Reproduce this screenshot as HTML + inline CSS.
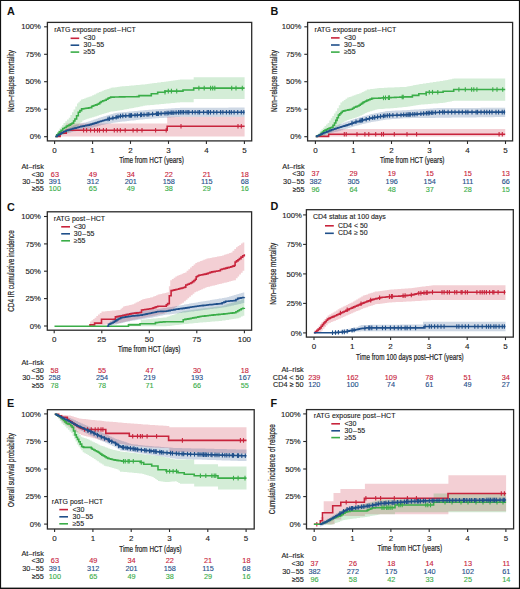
<!DOCTYPE html>
<html><head><meta charset="utf-8"><style>
html,body{margin:0;padding:0;background:#fff;}
svg{display:block;font-family:"Liberation Sans", sans-serif;}
</style></head><body>
<svg width="520" height="589" viewBox="0 0 520 589">
<rect x="0" y="0" width="520" height="589" fill="#fff"/>
<rect x="47.4" y="22.4" width="204.3" height="118.5" fill="none" stroke="#2a2a2a" stroke-width="1.3"/>
<line x1="44.1" y1="136.7" x2="47.4" y2="136.7" stroke="#2a2a2a" stroke-width="1.1"/>
<text x="40.9" y="139.3" font-size="7.7" text-anchor="end" fill="#222" font-weight="normal" stroke="#222" stroke-width="0.12" >0%</text>
<line x1="44.1" y1="109.2" x2="47.4" y2="109.2" stroke="#2a2a2a" stroke-width="1.1"/>
<text x="40.9" y="111.8" font-size="7.7" text-anchor="end" fill="#222" font-weight="normal" stroke="#222" stroke-width="0.12" >25%</text>
<line x1="44.1" y1="81.7" x2="47.4" y2="81.7" stroke="#2a2a2a" stroke-width="1.1"/>
<text x="40.9" y="84.3" font-size="7.7" text-anchor="end" fill="#222" font-weight="normal" stroke="#222" stroke-width="0.12" >50%</text>
<line x1="44.1" y1="54.3" x2="47.4" y2="54.3" stroke="#2a2a2a" stroke-width="1.1"/>
<text x="40.9" y="56.9" font-size="7.7" text-anchor="end" fill="#222" font-weight="normal" stroke="#222" stroke-width="0.12" >75%</text>
<line x1="44.1" y1="26.8" x2="47.4" y2="26.8" stroke="#2a2a2a" stroke-width="1.1"/>
<text x="40.9" y="29.4" font-size="7.7" text-anchor="end" fill="#222" font-weight="normal" stroke="#222" stroke-width="0.12" >100%</text>
<line x1="54.6" y1="140.9" x2="54.6" y2="143.9" stroke="#2a2a2a" stroke-width="1.1"/>
<text x="54.6" y="152.6" font-size="8.0" text-anchor="middle" fill="#222" font-weight="normal" stroke="#222" stroke-width="0.12" >0</text>
<line x1="92.6" y1="140.9" x2="92.6" y2="143.9" stroke="#2a2a2a" stroke-width="1.1"/>
<text x="92.6" y="152.6" font-size="8.0" text-anchor="middle" fill="#222" font-weight="normal" stroke="#222" stroke-width="0.12" >1</text>
<line x1="130.5" y1="140.9" x2="130.5" y2="143.9" stroke="#2a2a2a" stroke-width="1.1"/>
<text x="130.5" y="152.6" font-size="8.0" text-anchor="middle" fill="#222" font-weight="normal" stroke="#222" stroke-width="0.12" >2</text>
<line x1="168.5" y1="140.9" x2="168.5" y2="143.9" stroke="#2a2a2a" stroke-width="1.1"/>
<text x="168.5" y="152.6" font-size="8.0" text-anchor="middle" fill="#222" font-weight="normal" stroke="#222" stroke-width="0.12" >3</text>
<line x1="206.4" y1="140.9" x2="206.4" y2="143.9" stroke="#2a2a2a" stroke-width="1.1"/>
<text x="206.4" y="152.6" font-size="8.0" text-anchor="middle" fill="#222" font-weight="normal" stroke="#222" stroke-width="0.12" >4</text>
<line x1="244.4" y1="140.9" x2="244.4" y2="143.9" stroke="#2a2a2a" stroke-width="1.1"/>
<text x="244.4" y="152.6" font-size="8.0" text-anchor="middle" fill="#222" font-weight="normal" stroke="#222" stroke-width="0.12" >5</text>
<text transform="translate(151.5,163.2) scale(0.74,1)" font-size="8.6" text-anchor="middle" fill="#222" stroke="#222" stroke-width="0.2">Time from HCT (years)</text>
<text transform="translate(13.7,81.0) rotate(-90) scale(0.74,1)" font-size="8.6" text-anchor="middle" fill="#222" stroke="#222" stroke-width="0.2">Non–relapse mortality</text>
<text x="6.9" y="15.0" font-size="10.8" text-anchor="start" fill="#111" font-weight="bold" >A</text>
<path d="M55.4,136.5 L60.1,136.5 L60.1,129.8 L66.2,129.8 L66.2,123.4 L167.2,123.4 L167.2,116.7 L244.6,116.7 L244.6,136.5 L55.4,136.5Z" fill="#c8243c" opacity="0.22"/>
<path d="M55.4,136.5 L56.7,136.5 L56.7,133.5 L58.0,133.5 L58.0,130.5 L59.4,130.5 L59.4,128.6 L60.8,128.6 L60.8,126.8 L62.1,126.8 L62.1,124.9 L63.5,124.9 L63.5,123.0 L65.3,123.0 L65.3,121.2 L67.0,121.2 L67.0,119.5 L68.8,119.5 L68.8,117.7 L70.4,117.7 L70.4,115.0 L72.0,115.0 L72.0,112.3 L73.6,112.3 L73.6,109.6 L75.3,109.6 L75.3,106.5 L77.0,106.5 L77.0,103.5 L78.3,103.5 L78.3,102.2 L79.7,102.2 L79.7,100.8 L81.0,100.8 L81.0,99.5 L82.6,99.5 L82.6,99.0 L84.1,99.0 L84.1,98.4 L85.7,98.4 L85.7,97.8 L87.3,97.8 L87.3,97.3 L88.8,97.3 L88.8,96.8 L90.4,96.8 L90.4,96.2 L92.2,96.2 L92.2,95.3 L94.0,95.3 L94.0,94.4 L95.8,94.4 L95.8,93.5 L97.4,93.5 L97.4,92.8 L99.0,92.8 L99.0,92.1 L100.6,92.1 L100.6,91.5 L102.2,91.5 L102.2,90.8 L103.8,90.8 L103.8,90.1 L105.5,90.1 L105.5,89.5 L107.2,89.5 L107.2,88.9 L108.9,88.9 L108.9,88.4 L110.6,88.4 L110.6,87.8 L112.2,87.8 L112.2,87.6 L113.7,87.6 L113.7,87.4 L115.3,87.4 L115.3,87.2 L116.9,87.2 L116.9,86.9 L118.4,86.9 L118.4,86.7 L120.0,86.7 L120.0,86.5 L121.8,86.5 L121.8,86.3 L123.6,86.3 L123.6,86.2 L125.4,86.2 L125.4,86.0 L127.1,86.0 L127.1,85.9 L128.9,85.9 L128.9,85.7 L130.7,85.7 L130.7,85.6 L132.5,85.6 L132.5,85.4 L134.3,85.4 L134.3,85.2 L136.1,85.2 L136.1,85.1 L137.9,85.1 L137.9,84.9 L139.6,84.9 L139.6,84.8 L141.4,84.8 L141.4,84.6 L143.2,84.6 L143.2,84.5 L145.0,84.5 L145.0,84.3 L146.8,84.3 L146.8,84.1 L148.5,84.1 L148.5,83.8 L150.2,83.8 L150.2,83.6 L152.0,83.6 L152.0,83.3 L153.8,83.3 L153.8,83.1 L155.5,83.1 L155.5,82.9 L157.2,82.9 L157.2,82.6 L159.0,82.6 L159.0,82.4 L160.8,82.4 L160.8,82.1 L162.5,82.1 L162.5,81.9 L164.2,81.9 L164.2,81.7 L166.0,81.7 L166.0,81.4 L167.8,81.4 L167.8,81.2 L169.5,81.2 L169.5,80.9 L171.2,80.9 L171.2,80.7 L173.0,80.7 L173.0,80.5 L174.8,80.5 L174.8,80.2 L176.5,80.2 L176.5,80.0 L178.2,80.0 L178.2,79.7 L180.0,79.7 L180.0,79.5 L193.7,79.5 L193.7,77.3 L244.6,77.3 L244.6,99.1 L193.7,99.1 L193.7,102.3 L180.0,102.3 L180.0,102.5 L178.2,102.5 L178.2,102.6 L176.5,102.6 L176.5,102.8 L174.8,102.8 L174.8,102.9 L173.0,102.9 L173.0,103.1 L171.2,103.1 L171.2,103.3 L169.5,103.3 L169.5,103.4 L167.8,103.4 L167.8,103.6 L166.0,103.6 L166.0,103.7 L164.2,103.7 L164.2,103.9 L162.5,103.9 L162.5,104.1 L160.8,104.1 L160.8,104.2 L159.0,104.2 L159.0,104.4 L157.2,104.4 L157.2,104.5 L155.5,104.5 L155.5,104.7 L153.8,104.7 L153.8,104.9 L152.0,104.9 L152.0,105.0 L150.2,105.0 L150.2,105.2 L148.5,105.2 L148.5,105.3 L146.8,105.3 L146.8,105.5 L145.0,105.5 L145.0,105.8 L143.2,105.8 L143.2,106.2 L141.4,106.2 L141.4,106.5 L139.6,106.5 L139.6,106.9 L137.9,106.9 L137.9,107.2 L136.1,107.2 L136.1,107.6 L134.3,107.6 L134.3,107.9 L132.5,107.9 L132.5,108.2 L130.7,108.2 L130.7,108.6 L128.9,108.6 L128.9,108.9 L127.1,108.9 L127.1,109.3 L125.4,109.3 L125.4,109.6 L123.6,109.6 L123.6,110.0 L121.8,110.0 L121.8,110.3 L120.0,110.3 L120.0,110.5 L118.4,110.5 L118.4,110.7 L116.9,110.7 L116.9,110.9 L115.3,110.9 L115.3,111.2 L113.7,111.2 L113.7,111.4 L112.2,111.4 L112.2,111.6 L110.6,111.6 L110.6,112.1 L108.9,112.1 L108.9,112.6 L107.2,112.6 L107.2,113.1 L105.5,113.1 L105.5,113.6 L103.8,113.6 L103.8,114.1 L102.1,114.1 L102.1,114.6 L100.5,114.6 L100.5,115.1 L98.8,115.1 L98.8,115.7 L97.1,115.7 L97.1,116.2 L95.4,116.2 L95.4,116.7 L93.8,116.7 L93.8,117.2 L92.1,117.2 L92.1,117.7 L90.4,117.7 L90.4,118.2 L88.8,118.2 L88.8,118.8 L87.2,118.8 L87.2,119.3 L85.5,119.3 L85.5,119.9 L83.9,119.9 L83.9,120.4 L82.3,120.4 L82.3,122.2 L80.5,122.2 L80.5,124.0 L78.8,124.0 L78.8,125.8 L77.0,125.8 L77.0,127.1 L75.3,127.1 L75.3,128.4 L73.6,128.4 L73.6,129.7 L71.9,129.7 L71.9,131.0 L70.2,131.0 L70.2,131.7 L68.5,131.7 L68.5,132.4 L66.7,132.4 L66.7,133.1 L65.0,133.1 L65.0,133.8 L63.2,133.8 L63.2,134.5 L61.5,134.5 L61.5,135.2 L59.7,135.2 L59.7,135.9 L58.0,135.9 L58.0,136.2 L56.7,136.2 L56.7,136.5 L55.4,136.5Z" fill="#3aad48" opacity="0.22"/>
<path d="M55.4,136.5 L57.2,136.5 L57.2,134.8 L59.0,134.8 L59.0,133.2 L60.8,133.2 L60.8,131.5 L62.5,131.5 L62.5,130.6 L64.3,130.6 L64.3,129.8 L66.0,129.8 L66.0,128.9 L67.7,128.9 L67.7,128.1 L69.4,128.1 L69.4,127.2 L71.2,127.2 L71.2,126.4 L72.9,126.4 L72.9,125.5 L74.5,125.5 L74.5,125.1 L76.2,125.1 L76.2,124.6 L77.8,124.6 L77.8,124.2 L79.5,124.2 L79.5,123.7 L81.1,123.7 L81.1,123.3 L82.8,123.3 L82.8,122.8 L84.4,122.8 L84.4,122.4 L86.1,122.4 L86.1,121.9 L87.7,121.9 L87.7,121.5 L89.4,121.5 L89.4,120.9 L91.0,120.9 L91.0,120.4 L92.7,120.4 L92.7,119.8 L94.4,119.8 L94.4,119.2 L96.1,119.2 L96.1,118.7 L97.8,118.7 L97.8,118.1 L99.4,118.1 L99.4,117.6 L101.1,117.6 L101.1,117.0 L102.8,117.0 L102.8,116.5 L104.5,116.5 L104.5,116.0 L106.2,116.0 L106.2,115.5 L107.8,115.5 L107.8,115.0 L109.5,115.0 L109.5,114.5 L111.2,114.5 L111.2,114.0 L112.9,114.0 L112.9,113.5 L114.6,113.5 L114.6,113.0 L116.4,113.0 L116.4,112.8 L118.2,112.8 L118.2,112.6 L120.0,112.6 L120.0,112.5 L121.8,112.5 L121.8,112.3 L123.5,112.3 L123.5,112.1 L125.3,112.1 L125.3,111.9 L127.1,111.9 L127.1,111.8 L128.9,111.8 L128.9,111.6 L130.7,111.6 L130.7,111.4 L132.5,111.4 L132.5,111.2 L134.3,111.2 L134.3,111.1 L136.1,111.1 L136.1,110.9 L137.8,110.9 L137.8,110.7 L139.6,110.7 L139.6,110.5 L141.4,110.5 L141.4,110.4 L143.2,110.4 L143.2,110.2 L145.0,110.2 L145.0,110.0 L146.8,110.0 L146.8,109.9 L148.5,109.9 L148.5,109.8 L150.2,109.8 L150.2,109.7 L152.0,109.7 L152.0,109.6 L153.8,109.6 L153.8,109.5 L155.5,109.5 L155.5,109.3 L157.2,109.3 L157.2,109.2 L159.0,109.2 L159.0,109.1 L160.8,109.1 L160.8,109.0 L162.5,109.0 L162.5,108.9 L164.2,108.9 L164.2,108.8 L166.0,108.8 L166.0,108.7 L167.8,108.7 L167.8,108.6 L169.5,108.6 L169.5,108.5 L171.2,108.5 L171.2,108.3 L173.0,108.3 L173.0,108.2 L174.8,108.2 L174.8,108.1 L176.5,108.1 L176.5,108.0 L178.2,108.0 L178.2,107.9 L180.0,107.9 L180.0,107.8 L181.8,107.8 L181.8,107.8 L183.6,107.8 L183.6,107.8 L185.4,107.8 L185.4,107.8 L187.2,107.8 L187.2,107.8 L189.0,107.8 L189.0,107.8 L190.8,107.8 L190.8,107.8 L192.6,107.8 L192.6,107.8 L194.4,107.8 L194.4,107.8 L196.2,107.8 L196.2,107.8 L197.9,107.8 L197.9,107.7 L199.7,107.7 L199.7,107.7 L201.5,107.7 L201.5,107.7 L203.3,107.7 L203.3,107.7 L205.1,107.7 L205.1,107.7 L206.9,107.7 L206.9,107.7 L208.7,107.7 L208.7,107.7 L210.5,107.7 L210.5,107.7 L212.3,107.7 L212.3,107.7 L214.1,107.7 L214.1,107.7 L215.9,107.7 L215.9,107.7 L217.7,107.7 L217.7,107.7 L219.5,107.7 L219.5,107.7 L221.3,107.7 L221.3,107.7 L223.1,107.7 L223.1,107.7 L224.9,107.7 L224.9,107.7 L226.7,107.7 L226.7,107.7 L228.4,107.7 L228.4,107.6 L230.2,107.6 L230.2,107.6 L232.0,107.6 L232.0,107.6 L233.8,107.6 L233.8,107.6 L235.6,107.6 L235.6,107.6 L237.4,107.6 L237.4,107.6 L239.2,107.6 L239.2,107.6 L241.0,107.6 L241.0,107.6 L242.8,107.6 L242.8,107.6 L244.6,107.6 L244.6,107.6 L244.6,116.7 L244.6,116.7 L242.8,116.7 L242.8,116.7 L241.0,116.7 L241.0,116.7 L239.2,116.7 L239.2,116.7 L237.4,116.7 L237.4,116.7 L235.6,116.7 L235.6,116.7 L233.8,116.7 L233.8,116.7 L232.0,116.7 L232.0,116.7 L230.2,116.7 L230.2,116.7 L228.4,116.7 L228.4,116.7 L226.7,116.7 L226.7,116.7 L224.9,116.7 L224.9,116.7 L223.1,116.7 L223.1,116.7 L221.3,116.7 L221.3,116.7 L219.5,116.7 L219.5,116.7 L217.7,116.7 L217.7,116.7 L215.9,116.7 L215.9,116.7 L214.1,116.7 L214.1,116.8 L212.3,116.8 L212.3,116.8 L210.5,116.8 L210.5,116.8 L208.7,116.8 L208.7,116.8 L206.9,116.8 L206.9,116.8 L205.1,116.8 L205.1,116.8 L203.3,116.8 L203.3,116.8 L201.5,116.8 L201.5,116.8 L199.7,116.8 L199.7,116.8 L197.9,116.8 L197.9,116.8 L196.2,116.8 L196.2,116.8 L194.4,116.8 L194.4,116.8 L192.6,116.8 L192.6,116.8 L190.8,116.8 L190.8,116.8 L189.0,116.8 L189.0,116.8 L187.2,116.8 L187.2,116.8 L185.4,116.8 L185.4,116.8 L183.6,116.8 L183.6,116.8 L181.8,116.8 L181.8,116.8 L180.0,116.8 L180.0,116.9 L178.2,116.9 L178.2,117.0 L176.5,117.0 L176.5,117.1 L174.8,117.1 L174.8,117.2 L173.0,117.2 L173.0,117.3 L171.2,117.3 L171.2,117.5 L169.5,117.5 L169.5,117.6 L167.8,117.6 L167.8,117.7 L166.0,117.7 L166.0,117.8 L164.2,117.8 L164.2,117.9 L162.5,117.9 L162.5,118.0 L160.8,118.0 L160.8,118.1 L159.0,118.1 L159.0,118.2 L157.2,118.2 L157.2,118.3 L155.5,118.3 L155.5,118.5 L153.8,118.5 L153.8,118.6 L152.0,118.6 L152.0,118.7 L150.2,118.7 L150.2,118.8 L148.5,118.8 L148.5,118.9 L146.8,118.9 L146.8,119.0 L145.0,119.0 L145.0,119.2 L143.2,119.2 L143.2,119.4 L141.4,119.4 L141.4,119.6 L139.6,119.6 L139.6,119.8 L137.8,119.8 L137.8,120.0 L136.1,120.0 L136.1,120.2 L134.3,120.2 L134.3,120.4 L132.5,120.4 L132.5,120.6 L130.7,120.6 L130.7,120.8 L128.9,120.8 L128.9,121.0 L127.1,121.0 L127.1,121.2 L125.3,121.2 L125.3,121.4 L123.5,121.4 L123.5,121.6 L121.8,121.6 L121.8,121.8 L120.0,121.8 L120.0,122.0 L118.2,122.0 L118.2,122.2 L116.4,122.2 L116.4,122.4 L114.6,122.4 L114.6,122.7 L112.9,122.7 L112.9,123.1 L111.2,123.1 L111.2,123.4 L109.5,123.4 L109.5,123.7 L107.8,123.7 L107.8,124.0 L106.2,124.0 L106.2,124.3 L104.5,124.3 L104.5,124.7 L102.8,124.7 L102.8,125.0 L101.1,125.0 L101.1,125.5 L99.4,125.5 L99.4,125.9 L97.8,125.9 L97.8,126.4 L96.1,126.4 L96.1,126.8 L94.4,126.8 L94.4,127.3 L92.7,127.3 L92.7,127.8 L91.0,127.8 L91.0,128.2 L89.4,128.2 L89.4,128.7 L87.7,128.7 L87.7,129.0 L86.1,129.0 L86.1,129.3 L84.4,129.3 L84.4,129.6 L82.8,129.6 L82.8,129.9 L81.1,129.9 L81.1,130.3 L79.5,130.3 L79.5,130.6 L77.8,130.6 L77.8,130.9 L76.2,130.9 L76.2,131.2 L74.5,131.2 L74.5,131.5 L72.9,131.5 L72.9,132.0 L71.2,132.0 L71.2,132.5 L69.4,132.5 L69.4,133.0 L67.7,133.0 L67.7,133.5 L66.0,133.5 L66.0,134.0 L64.3,134.0 L64.3,134.5 L62.5,134.5 L62.5,135.0 L60.8,135.0 L60.8,135.5 L59.0,135.5 L59.0,136.0 L57.2,136.0 L57.2,136.5 L55.4,136.5Z" fill="#1f4f8a" opacity="0.22"/>
<path d="M55.4,136.5 L60.1,136.5 L60.1,133.2 L66.2,133.2 L66.2,130.3 L167.2,130.3 L167.2,126.2 L244.6,126.2" fill="none" stroke="#c8243c" stroke-width="1.6" stroke-linejoin="miter"/>
<line x1="83.6" y1="128.0" x2="83.6" y2="132.6" stroke="#c8243c" stroke-width="1.1"/>
<line x1="86.6" y1="128.0" x2="86.6" y2="132.6" stroke="#c8243c" stroke-width="1.1"/>
<line x1="90.6" y1="128.0" x2="90.6" y2="132.6" stroke="#c8243c" stroke-width="1.1"/>
<line x1="94.5" y1="128.0" x2="94.5" y2="132.6" stroke="#c8243c" stroke-width="1.1"/>
<line x1="97.5" y1="128.0" x2="97.5" y2="132.6" stroke="#c8243c" stroke-width="1.1"/>
<line x1="99.5" y1="128.0" x2="99.5" y2="132.6" stroke="#c8243c" stroke-width="1.1"/>
<line x1="103.4" y1="128.0" x2="103.4" y2="132.6" stroke="#c8243c" stroke-width="1.1"/>
<line x1="106.4" y1="128.0" x2="106.4" y2="132.6" stroke="#c8243c" stroke-width="1.1"/>
<line x1="114.3" y1="128.0" x2="114.3" y2="132.6" stroke="#c8243c" stroke-width="1.1"/>
<line x1="117.3" y1="128.0" x2="117.3" y2="132.6" stroke="#c8243c" stroke-width="1.1"/>
<line x1="120.3" y1="128.0" x2="120.3" y2="132.6" stroke="#c8243c" stroke-width="1.1"/>
<line x1="125.2" y1="128.0" x2="125.2" y2="132.6" stroke="#c8243c" stroke-width="1.1"/>
<line x1="133.1" y1="128.0" x2="133.1" y2="132.6" stroke="#c8243c" stroke-width="1.1"/>
<line x1="137.1" y1="128.0" x2="137.1" y2="132.6" stroke="#c8243c" stroke-width="1.1"/>
<line x1="142.0" y1="128.0" x2="142.0" y2="132.6" stroke="#c8243c" stroke-width="1.1"/>
<line x1="155.6" y1="128.0" x2="155.6" y2="132.6" stroke="#c8243c" stroke-width="1.1"/>
<line x1="166.2" y1="128.0" x2="166.2" y2="132.6" stroke="#c8243c" stroke-width="1.1"/>
<line x1="181.0" y1="123.9" x2="181.0" y2="128.5" stroke="#c8243c" stroke-width="1.1"/>
<line x1="238.0" y1="123.9" x2="238.0" y2="128.5" stroke="#c8243c" stroke-width="1.1"/>
<line x1="241.3" y1="123.9" x2="241.3" y2="128.5" stroke="#c8243c" stroke-width="1.1"/>
<path d="M55.4,136.5 L56.7,136.5 L56.7,134.9 L58.1,134.9 L58.1,133.4 L59.4,133.4 L59.4,131.8 L61.1,131.8 L61.1,130.2 L62.8,130.2 L62.8,128.5 L64.5,128.5 L64.5,127.5 L66.2,127.5 L66.2,126.4 L67.5,126.4 L67.5,125.7 L68.9,125.7 L68.9,125.1 L70.2,125.1 L70.2,124.4 L71.2,124.4 L71.2,123.8 L72.2,123.8 L72.2,123.1 L73.6,123.1 L73.6,121.0 L74.9,121.0 L74.9,119.0 L76.6,119.0 L76.6,115.7 L78.3,115.7 L78.3,112.3 L79.9,112.3 L79.9,110.6 L81.6,110.6 L81.6,108.9 L83.0,108.9 L83.0,108.7 L84.3,108.7 L84.3,108.5 L85.7,108.5 L85.7,108.3 L87.3,108.3 L87.3,108.1 L88.8,108.1 L88.8,107.8 L90.4,107.8 L90.4,107.6 L91.7,107.6 L91.7,106.2 L93.1,106.2 L93.1,105.8 L94.4,105.8 L94.4,105.3 L95.8,105.3 L95.8,104.9 L97.2,104.9 L97.2,104.2 L98.5,104.2 L98.5,103.6 L99.8,103.6 L99.8,102.5 L101.1,102.5 L101.1,101.5 L102.8,101.5 L102.8,100.8 L104.5,100.8 L104.5,100.2 L106.2,100.2 L106.2,99.2 L107.9,99.2 L107.9,98.2 L109.2,98.2 L109.2,97.7 L110.6,97.7 L110.6,97.1 L112.4,97.1 L112.4,97.1 L114.1,97.1 L114.1,97.0 L115.9,97.0 L115.9,97.0 L117.7,97.0 L117.7,97.0 L119.5,97.0 L119.5,96.9 L121.2,96.9 L121.2,96.9 L123.0,96.9 L123.0,96.9 L124.8,96.9 L124.8,96.8 L126.6,96.8 L126.6,96.8 L128.3,96.8 L128.3,96.8 L130.1,96.8 L130.1,96.8 L131.9,96.8 L131.9,96.7 L133.7,96.7 L133.7,96.7 L135.4,96.7 L135.4,96.7 L137.2,96.7 L137.2,96.6 L139.0,96.6 L139.0,96.6 L139.0,95.6 L151.3,95.6 L151.3,93.8 L157.7,93.8 L157.7,92.2 L165.0,92.2 L165.0,91.1 L183.0,91.1 L183.0,90.0 L193.7,90.0 L193.7,88.1 L244.6,88.1" fill="none" stroke="#3aad48" stroke-width="1.6" stroke-linejoin="miter"/>
<line x1="165.0" y1="89.9" x2="165.0" y2="94.5" stroke="#3aad48" stroke-width="1.1"/>
<line x1="168.3" y1="88.8" x2="168.3" y2="93.4" stroke="#3aad48" stroke-width="1.1"/>
<line x1="171.4" y1="88.8" x2="171.4" y2="93.4" stroke="#3aad48" stroke-width="1.1"/>
<line x1="176.7" y1="88.8" x2="176.7" y2="93.4" stroke="#3aad48" stroke-width="1.1"/>
<line x1="198.9" y1="85.8" x2="198.9" y2="90.4" stroke="#3aad48" stroke-width="1.1"/>
<line x1="204.2" y1="85.8" x2="204.2" y2="90.4" stroke="#3aad48" stroke-width="1.1"/>
<line x1="210.6" y1="85.8" x2="210.6" y2="90.4" stroke="#3aad48" stroke-width="1.1"/>
<line x1="212.7" y1="85.8" x2="212.7" y2="90.4" stroke="#3aad48" stroke-width="1.1"/>
<line x1="214.8" y1="85.8" x2="214.8" y2="90.4" stroke="#3aad48" stroke-width="1.1"/>
<line x1="231.7" y1="85.8" x2="231.7" y2="90.4" stroke="#3aad48" stroke-width="1.1"/>
<line x1="236.0" y1="85.8" x2="236.0" y2="90.4" stroke="#3aad48" stroke-width="1.1"/>
<line x1="242.3" y1="85.8" x2="242.3" y2="90.4" stroke="#3aad48" stroke-width="1.1"/>
<path d="M55.4,136.5 L57.2,136.5 L57.2,135.4 L59.0,135.4 L59.0,134.3 L60.8,134.3 L60.8,133.2 L62.1,133.2 L62.1,132.5 L63.5,132.5 L63.5,131.8 L64.8,131.8 L64.8,131.2 L66.2,131.2 L66.2,130.5 L67.9,130.5 L67.9,130.0 L69.6,130.0 L69.6,129.5 L71.2,129.5 L71.2,129.0 L72.9,129.0 L72.9,128.5 L74.5,128.5 L74.5,128.1 L76.1,128.1 L76.1,127.7 L77.8,127.7 L77.8,127.2 L79.4,127.2 L79.4,126.8 L81.0,126.8 L81.0,126.4 L82.7,126.4 L82.7,126.1 L84.3,126.1 L84.3,125.8 L86.0,125.8 L86.0,125.4 L87.7,125.4 L87.7,125.1 L89.4,125.1 L89.4,124.6 L91.1,124.6 L91.1,124.1 L92.7,124.1 L92.7,123.6 L94.4,123.6 L94.4,123.1 L96.1,123.1 L96.1,122.6 L97.8,122.6 L97.8,122.0 L99.4,122.0 L99.4,121.5 L101.1,121.5 L101.1,121.0 L102.8,121.0 L102.8,120.5 L104.5,120.5 L104.5,120.0 L106.2,120.0 L106.2,119.5 L107.9,119.5 L107.9,119.0 L109.6,119.0 L109.6,118.7 L111.2,118.7 L111.2,118.3 L112.9,118.3 L112.9,118.0 L114.6,118.0 L114.6,117.7 L115.9,117.7 L115.9,117.3 L117.3,117.3 L117.3,116.9 L118.7,116.9 L118.7,116.5 L120.0,116.5 L120.0,116.1 L121.8,116.1 L121.8,116.0 L123.6,116.0 L123.6,115.9 L125.4,115.9 L125.4,115.8 L127.1,115.8 L127.1,115.7 L128.9,115.7 L128.9,115.6 L130.7,115.6 L130.7,115.5 L132.5,115.5 L132.5,115.3 L134.3,115.3 L134.3,115.2 L136.1,115.2 L136.1,115.1 L137.9,115.1 L137.9,115.0 L139.6,115.0 L139.6,114.9 L141.4,114.9 L141.4,114.8 L143.2,114.8 L143.2,114.7 L145.0,114.7 L145.0,114.6 L146.8,114.6 L146.8,114.5 L148.6,114.5 L148.6,114.4 L150.4,114.4 L150.4,114.2 L152.1,114.2 L152.1,114.1 L153.9,114.1 L153.9,114.0 L155.7,114.0 L155.7,113.9 L157.5,113.9 L157.5,113.8 L159.3,113.8 L159.3,113.6 L161.1,113.6 L161.1,113.5 L162.9,113.5 L162.9,113.4 L164.6,113.4 L164.6,113.3 L166.4,113.3 L166.4,113.1 L168.2,113.1 L168.2,113.0 L170.0,113.0 L170.0,112.9 L171.7,112.9 L171.7,112.8 L173.3,112.8 L173.3,112.7 L175.0,112.7 L175.0,112.6 L176.7,112.6 L176.7,112.5 L178.3,112.5 L178.3,112.4 L180.0,112.4 L180.0,112.3 L244.6,112.3" fill="none" stroke="#1f4f8a" stroke-width="1.6" stroke-linejoin="miter"/>
<line x1="108.0" y1="116.7" x2="108.0" y2="121.3" stroke="#1f4f8a" stroke-width="1.1"/>
<line x1="109.4" y1="116.4" x2="109.4" y2="121.0" stroke="#1f4f8a" stroke-width="1.1"/>
<line x1="112.9" y1="115.7" x2="112.9" y2="120.3" stroke="#1f4f8a" stroke-width="1.1"/>
<line x1="116.2" y1="114.9" x2="116.2" y2="119.5" stroke="#1f4f8a" stroke-width="1.1"/>
<line x1="118.0" y1="114.4" x2="118.0" y2="119.0" stroke="#1f4f8a" stroke-width="1.1"/>
<line x1="120.5" y1="113.8" x2="120.5" y2="118.4" stroke="#1f4f8a" stroke-width="1.1"/>
<line x1="122.8" y1="113.6" x2="122.8" y2="118.2" stroke="#1f4f8a" stroke-width="1.1"/>
<line x1="125.8" y1="113.5" x2="125.8" y2="118.1" stroke="#1f4f8a" stroke-width="1.1"/>
<line x1="129.2" y1="113.2" x2="129.2" y2="117.8" stroke="#1f4f8a" stroke-width="1.1"/>
<line x1="130.4" y1="113.2" x2="130.4" y2="117.8" stroke="#1f4f8a" stroke-width="1.1"/>
<line x1="131.5" y1="113.1" x2="131.5" y2="117.7" stroke="#1f4f8a" stroke-width="1.1"/>
<line x1="135.0" y1="112.9" x2="135.0" y2="117.5" stroke="#1f4f8a" stroke-width="1.1"/>
<line x1="137.3" y1="112.8" x2="137.3" y2="117.4" stroke="#1f4f8a" stroke-width="1.1"/>
<line x1="140.6" y1="112.6" x2="140.6" y2="117.2" stroke="#1f4f8a" stroke-width="1.1"/>
<line x1="141.6" y1="112.5" x2="141.6" y2="117.1" stroke="#1f4f8a" stroke-width="1.1"/>
<line x1="144.0" y1="112.4" x2="144.0" y2="117.0" stroke="#1f4f8a" stroke-width="1.1"/>
<line x1="147.1" y1="112.2" x2="147.1" y2="116.8" stroke="#1f4f8a" stroke-width="1.1"/>
<line x1="148.8" y1="112.0" x2="148.8" y2="116.6" stroke="#1f4f8a" stroke-width="1.1"/>
<line x1="152.6" y1="111.8" x2="152.6" y2="116.4" stroke="#1f4f8a" stroke-width="1.1"/>
<line x1="156.4" y1="111.5" x2="156.4" y2="116.1" stroke="#1f4f8a" stroke-width="1.1"/>
<line x1="157.4" y1="111.5" x2="157.4" y2="116.1" stroke="#1f4f8a" stroke-width="1.1"/>
<line x1="158.5" y1="111.4" x2="158.5" y2="116.0" stroke="#1f4f8a" stroke-width="1.1"/>
<line x1="161.1" y1="111.2" x2="161.1" y2="115.8" stroke="#1f4f8a" stroke-width="1.1"/>
<line x1="165.0" y1="110.9" x2="165.0" y2="115.5" stroke="#1f4f8a" stroke-width="1.1"/>
<line x1="167.1" y1="110.8" x2="167.1" y2="115.4" stroke="#1f4f8a" stroke-width="1.1"/>
<line x1="168.8" y1="110.7" x2="168.8" y2="115.3" stroke="#1f4f8a" stroke-width="1.1"/>
<line x1="171.0" y1="110.5" x2="171.0" y2="115.1" stroke="#1f4f8a" stroke-width="1.1"/>
<line x1="172.1" y1="110.5" x2="172.1" y2="115.1" stroke="#1f4f8a" stroke-width="1.1"/>
<line x1="173.8" y1="110.4" x2="173.8" y2="115.0" stroke="#1f4f8a" stroke-width="1.1"/>
<line x1="176.1" y1="110.2" x2="176.1" y2="114.8" stroke="#1f4f8a" stroke-width="1.1"/>
<line x1="178.6" y1="110.1" x2="178.6" y2="114.7" stroke="#1f4f8a" stroke-width="1.1"/>
<line x1="180.3" y1="110.0" x2="180.3" y2="114.6" stroke="#1f4f8a" stroke-width="1.1"/>
<line x1="182.0" y1="110.0" x2="182.0" y2="114.6" stroke="#1f4f8a" stroke-width="1.1"/>
<line x1="183.6" y1="110.0" x2="183.6" y2="114.6" stroke="#1f4f8a" stroke-width="1.1"/>
<line x1="186.0" y1="110.0" x2="186.0" y2="114.6" stroke="#1f4f8a" stroke-width="1.1"/>
<line x1="187.9" y1="110.0" x2="187.9" y2="114.6" stroke="#1f4f8a" stroke-width="1.1"/>
<line x1="188.9" y1="110.0" x2="188.9" y2="114.6" stroke="#1f4f8a" stroke-width="1.1"/>
<line x1="192.4" y1="110.0" x2="192.4" y2="114.6" stroke="#1f4f8a" stroke-width="1.1"/>
<line x1="195.1" y1="110.0" x2="195.1" y2="114.6" stroke="#1f4f8a" stroke-width="1.1"/>
<line x1="198.0" y1="110.0" x2="198.0" y2="114.6" stroke="#1f4f8a" stroke-width="1.1"/>
<line x1="199.6" y1="110.0" x2="199.6" y2="114.6" stroke="#1f4f8a" stroke-width="1.1"/>
<line x1="203.6" y1="110.0" x2="203.6" y2="114.6" stroke="#1f4f8a" stroke-width="1.1"/>
<line x1="207.2" y1="110.0" x2="207.2" y2="114.6" stroke="#1f4f8a" stroke-width="1.1"/>
<line x1="208.5" y1="110.0" x2="208.5" y2="114.6" stroke="#1f4f8a" stroke-width="1.1"/>
<line x1="210.5" y1="110.0" x2="210.5" y2="114.6" stroke="#1f4f8a" stroke-width="1.1"/>
<line x1="213.7" y1="110.0" x2="213.7" y2="114.6" stroke="#1f4f8a" stroke-width="1.1"/>
<line x1="216.8" y1="110.0" x2="216.8" y2="114.6" stroke="#1f4f8a" stroke-width="1.1"/>
<line x1="220.6" y1="110.0" x2="220.6" y2="114.6" stroke="#1f4f8a" stroke-width="1.1"/>
<line x1="222.9" y1="110.0" x2="222.9" y2="114.6" stroke="#1f4f8a" stroke-width="1.1"/>
<line x1="226.4" y1="110.0" x2="226.4" y2="114.6" stroke="#1f4f8a" stroke-width="1.1"/>
<line x1="229.4" y1="110.0" x2="229.4" y2="114.6" stroke="#1f4f8a" stroke-width="1.1"/>
<line x1="231.3" y1="110.0" x2="231.3" y2="114.6" stroke="#1f4f8a" stroke-width="1.1"/>
<line x1="234.1" y1="110.0" x2="234.1" y2="114.6" stroke="#1f4f8a" stroke-width="1.1"/>
<line x1="237.7" y1="110.0" x2="237.7" y2="114.6" stroke="#1f4f8a" stroke-width="1.1"/>
<line x1="241.3" y1="110.0" x2="241.3" y2="114.6" stroke="#1f4f8a" stroke-width="1.1"/>
<line x1="243.8" y1="110.0" x2="243.8" y2="114.6" stroke="#1f4f8a" stroke-width="1.1"/>
<text x="54.2" y="31.6" font-size="7" text-anchor="start" fill="#222" font-weight="normal" stroke="#222" stroke-width="0.12" >rATG exposure post<tspan dx="0.6">–</tspan><tspan dx="0.6">HCT</tspan></text>
<line x1="70.6" y1="38.3" x2="79.2" y2="38.3" stroke="#c8243c" stroke-width="1.6"/>
<text x="83.5" y="40.4" font-size="7" text-anchor="start" fill="#222" font-weight="normal" stroke="#222" stroke-width="0.12" >&lt;30</text>
<line x1="70.6" y1="45.2" x2="79.2" y2="45.2" stroke="#1f4f8a" stroke-width="1.6"/>
<text x="83.5" y="47.3" font-size="7" text-anchor="start" fill="#222" font-weight="normal" stroke="#222" stroke-width="0.12" >30<tspan dx="0.6">–</tspan><tspan dx="0.6">55</tspan></text>
<line x1="70.6" y1="52.1" x2="79.2" y2="52.1" stroke="#3aad48" stroke-width="1.6"/>
<text x="83.5" y="54.2" font-size="7" text-anchor="start" fill="#222" font-weight="normal" stroke="#222" stroke-width="0.12" >≥55</text>
<text x="43.8" y="168.8" font-size="7.3" text-anchor="end" fill="#222" font-weight="normal" stroke="#222" stroke-width="0.12" >At–risk</text>
<text x="43.8" y="176.6" font-size="7.3" text-anchor="end" fill="#222" font-weight="normal" stroke="#222" stroke-width="0.12" >&lt;30</text>
<text x="54.9" y="176.6" font-size="7.3" text-anchor="middle" fill="#c8243c" font-weight="normal" stroke="#c8243c" stroke-width="0.12" >63</text>
<text x="92.9" y="176.6" font-size="7.3" text-anchor="middle" fill="#c8243c" font-weight="normal" stroke="#c8243c" stroke-width="0.12" >49</text>
<text x="130.8" y="176.6" font-size="7.3" text-anchor="middle" fill="#c8243c" font-weight="normal" stroke="#c8243c" stroke-width="0.12" >34</text>
<text x="168.8" y="176.6" font-size="7.3" text-anchor="middle" fill="#c8243c" font-weight="normal" stroke="#c8243c" stroke-width="0.12" >22</text>
<text x="206.7" y="176.6" font-size="7.3" text-anchor="middle" fill="#c8243c" font-weight="normal" stroke="#c8243c" stroke-width="0.12" >21</text>
<text x="244.7" y="176.6" font-size="7.3" text-anchor="middle" fill="#c8243c" font-weight="normal" stroke="#c8243c" stroke-width="0.12" >18</text>
<text x="43.8" y="184.0" font-size="7.3" text-anchor="end" fill="#222" font-weight="normal" stroke="#222" stroke-width="0.12" >30<tspan dx="0.6">–</tspan><tspan dx="0.6">55</tspan></text>
<text x="54.9" y="184.0" font-size="7.3" text-anchor="middle" fill="#1f4f8a" font-weight="normal" stroke="#1f4f8a" stroke-width="0.12" >391</text>
<text x="92.9" y="184.0" font-size="7.3" text-anchor="middle" fill="#1f4f8a" font-weight="normal" stroke="#1f4f8a" stroke-width="0.12" >312</text>
<text x="130.8" y="184.0" font-size="7.3" text-anchor="middle" fill="#1f4f8a" font-weight="normal" stroke="#1f4f8a" stroke-width="0.12" >201</text>
<text x="168.8" y="184.0" font-size="7.3" text-anchor="middle" fill="#1f4f8a" font-weight="normal" stroke="#1f4f8a" stroke-width="0.12" >158</text>
<text x="206.7" y="184.0" font-size="7.3" text-anchor="middle" fill="#1f4f8a" font-weight="normal" stroke="#1f4f8a" stroke-width="0.12" >115</text>
<text x="244.7" y="184.0" font-size="7.3" text-anchor="middle" fill="#1f4f8a" font-weight="normal" stroke="#1f4f8a" stroke-width="0.12" >68</text>
<text x="43.8" y="191.4" font-size="7.3" text-anchor="end" fill="#222" font-weight="normal" stroke="#222" stroke-width="0.12" >≥55</text>
<text x="54.9" y="191.4" font-size="7.3" text-anchor="middle" fill="#3aad48" font-weight="normal" stroke="#3aad48" stroke-width="0.12" >100</text>
<text x="92.9" y="191.4" font-size="7.3" text-anchor="middle" fill="#3aad48" font-weight="normal" stroke="#3aad48" stroke-width="0.12" >65</text>
<text x="130.8" y="191.4" font-size="7.3" text-anchor="middle" fill="#3aad48" font-weight="normal" stroke="#3aad48" stroke-width="0.12" >49</text>
<text x="168.8" y="191.4" font-size="7.3" text-anchor="middle" fill="#3aad48" font-weight="normal" stroke="#3aad48" stroke-width="0.12" >38</text>
<text x="206.7" y="191.4" font-size="7.3" text-anchor="middle" fill="#3aad48" font-weight="normal" stroke="#3aad48" stroke-width="0.12" >29</text>
<text x="244.7" y="191.4" font-size="7.3" text-anchor="middle" fill="#3aad48" font-weight="normal" stroke="#3aad48" stroke-width="0.12" >16</text>
<rect x="307.6" y="22.4" width="205.0" height="118.5" fill="none" stroke="#2a2a2a" stroke-width="1.3"/>
<line x1="304.3" y1="136.7" x2="307.6" y2="136.7" stroke="#2a2a2a" stroke-width="1.1"/>
<text x="301.4" y="139.3" font-size="7.7" text-anchor="end" fill="#222" font-weight="normal" stroke="#222" stroke-width="0.12" >0%</text>
<line x1="304.3" y1="109.2" x2="307.6" y2="109.2" stroke="#2a2a2a" stroke-width="1.1"/>
<text x="301.4" y="111.8" font-size="7.7" text-anchor="end" fill="#222" font-weight="normal" stroke="#222" stroke-width="0.12" >25%</text>
<line x1="304.3" y1="81.7" x2="307.6" y2="81.7" stroke="#2a2a2a" stroke-width="1.1"/>
<text x="301.4" y="84.3" font-size="7.7" text-anchor="end" fill="#222" font-weight="normal" stroke="#222" stroke-width="0.12" >50%</text>
<line x1="304.3" y1="54.3" x2="307.6" y2="54.3" stroke="#2a2a2a" stroke-width="1.1"/>
<text x="301.4" y="56.9" font-size="7.7" text-anchor="end" fill="#222" font-weight="normal" stroke="#222" stroke-width="0.12" >75%</text>
<line x1="304.3" y1="26.8" x2="307.6" y2="26.8" stroke="#2a2a2a" stroke-width="1.1"/>
<text x="301.4" y="29.4" font-size="7.7" text-anchor="end" fill="#222" font-weight="normal" stroke="#222" stroke-width="0.12" >100%</text>
<line x1="315.4" y1="141.0" x2="315.4" y2="144.0" stroke="#2a2a2a" stroke-width="1.1"/>
<text x="315.4" y="152.8" font-size="8.0" text-anchor="middle" fill="#222" font-weight="normal" stroke="#222" stroke-width="0.12" >0</text>
<line x1="353.4" y1="141.0" x2="353.4" y2="144.0" stroke="#2a2a2a" stroke-width="1.1"/>
<text x="353.4" y="152.8" font-size="8.0" text-anchor="middle" fill="#222" font-weight="normal" stroke="#222" stroke-width="0.12" >1</text>
<line x1="391.5" y1="141.0" x2="391.5" y2="144.0" stroke="#2a2a2a" stroke-width="1.1"/>
<text x="391.5" y="152.8" font-size="8.0" text-anchor="middle" fill="#222" font-weight="normal" stroke="#222" stroke-width="0.12" >2</text>
<line x1="429.5" y1="141.0" x2="429.5" y2="144.0" stroke="#2a2a2a" stroke-width="1.1"/>
<text x="429.5" y="152.8" font-size="8.0" text-anchor="middle" fill="#222" font-weight="normal" stroke="#222" stroke-width="0.12" >3</text>
<line x1="467.5" y1="141.0" x2="467.5" y2="144.0" stroke="#2a2a2a" stroke-width="1.1"/>
<text x="467.5" y="152.8" font-size="8.0" text-anchor="middle" fill="#222" font-weight="normal" stroke="#222" stroke-width="0.12" >4</text>
<line x1="505.5" y1="141.0" x2="505.5" y2="144.0" stroke="#2a2a2a" stroke-width="1.1"/>
<text x="505.5" y="152.8" font-size="8.0" text-anchor="middle" fill="#222" font-weight="normal" stroke="#222" stroke-width="0.12" >5</text>
<text transform="translate(412.2,163.2) scale(0.74,1)" font-size="8.6" text-anchor="middle" fill="#222" stroke="#222" stroke-width="0.2">Time from HCT (years)</text>
<text transform="translate(276.6,81.0) rotate(-90) scale(0.74,1)" font-size="8.6" text-anchor="middle" fill="#222" stroke="#222" stroke-width="0.2">Non–relapse mortality</text>
<text x="270.6" y="15.0" font-size="10.8" text-anchor="start" fill="#111" font-weight="bold" >B</text>
<path d="M315.8,136.4 L317.1,136.4 L317.1,135.8 L318.5,135.8 L318.5,135.1 L319.8,135.1 L319.8,134.5 L328.6,134.5 L328.6,129.0 L505.2,129.0 L505.2,136.4 L315.8,136.4Z" fill="#c8243c" opacity="0.22"/>
<path d="M315.8,136.4 L317.1,136.4 L317.1,134.5 L318.5,134.5 L318.5,132.7 L319.8,132.7 L319.8,130.8 L321.4,130.8 L321.4,129.2 L322.9,129.2 L322.9,127.7 L324.5,127.7 L324.5,126.1 L326.0,126.1 L326.0,124.6 L327.6,124.6 L327.6,123.0 L329.2,123.0 L329.2,120.6 L330.8,120.6 L330.8,118.3 L332.3,118.3 L332.3,115.9 L333.9,115.9 L333.9,113.6 L335.5,113.6 L335.5,111.2 L337.1,111.2 L337.1,108.3 L338.8,108.3 L338.8,105.3 L340.4,105.3 L340.4,102.4 L342.1,102.4 L342.1,101.2 L343.8,101.2 L343.8,100.0 L345.5,100.0 L345.5,98.7 L347.2,98.7 L347.2,97.5 L348.9,97.5 L348.9,96.9 L350.6,96.9 L350.6,96.4 L352.3,96.4 L352.3,95.8 L353.9,95.8 L353.9,95.2 L355.6,95.2 L355.6,94.6 L357.3,94.6 L357.3,94.1 L359.0,94.1 L359.0,93.5 L360.6,93.5 L360.6,92.7 L362.1,92.7 L362.1,91.9 L363.7,91.9 L363.7,91.2 L365.2,91.2 L365.2,90.4 L366.8,90.4 L366.8,89.6 L368.5,89.6 L368.5,89.4 L370.2,89.4 L370.2,89.1 L371.9,89.1 L371.9,88.9 L373.5,88.9 L373.5,88.7 L375.2,88.7 L375.2,88.5 L376.9,88.5 L376.9,88.2 L378.6,88.2 L378.6,88.0 L380.4,88.0 L380.4,87.9 L382.1,87.9 L382.1,87.9 L383.9,87.9 L383.9,87.8 L385.6,87.8 L385.6,87.7 L387.4,87.7 L387.4,87.6 L389.2,87.6 L389.2,87.6 L390.9,87.6 L390.9,87.5 L392.7,87.5 L392.7,87.4 L394.4,87.4 L394.4,87.3 L396.2,87.3 L396.2,87.3 L398.0,87.3 L398.0,87.2 L399.7,87.2 L399.7,87.1 L401.5,87.1 L401.5,87.0 L403.2,87.0 L403.2,87.0 L405.0,87.0 L405.0,86.9 L406.6,86.9 L406.6,86.6 L408.2,86.6 L408.2,86.3 L409.8,86.3 L409.8,86.0 L411.4,86.0 L411.4,85.7 L412.9,85.7 L412.9,85.3 L414.5,85.3 L414.5,85.0 L416.1,85.0 L416.1,84.7 L417.7,84.7 L417.7,84.4 L419.4,84.4 L419.4,84.1 L421.1,84.1 L421.1,83.9 L422.8,83.9 L422.8,83.6 L424.5,83.6 L424.5,83.4 L426.2,83.4 L426.2,83.1 L427.9,83.1 L427.9,82.9 L429.6,82.9 L429.6,82.6 L431.2,82.6 L431.2,82.4 L432.9,82.4 L432.9,82.1 L434.6,82.1 L434.6,81.9 L436.3,81.9 L436.3,81.6 L438.0,81.6 L438.0,81.4 L439.7,81.4 L439.7,81.1 L441.4,81.1 L441.4,80.9 L443.1,80.9 L443.1,80.6 L444.9,80.6 L444.9,80.2 L446.6,80.2 L446.6,79.9 L448.4,79.9 L448.4,79.5 L450.2,79.5 L450.2,79.2 L451.9,79.2 L451.9,78.8 L453.7,78.8 L453.7,78.5 L505.2,78.5 L505.2,100.7 L453.7,100.7 L453.7,101.0 L451.9,101.0 L451.9,101.4 L450.2,101.4 L450.2,101.8 L448.4,101.8 L448.4,102.1 L446.6,102.1 L446.6,102.5 L444.9,102.5 L444.9,102.8 L443.1,102.8 L443.1,102.9 L441.4,102.9 L441.4,103.1 L439.7,103.1 L439.7,103.2 L438.0,103.2 L438.0,103.4 L436.3,103.4 L436.3,103.5 L434.6,103.5 L434.6,103.6 L432.9,103.6 L432.9,103.8 L431.2,103.8 L431.2,103.9 L429.6,103.9 L429.6,104.1 L427.9,104.1 L427.9,104.2 L426.2,104.2 L426.2,104.3 L424.5,104.3 L424.5,104.5 L422.8,104.5 L422.8,104.6 L421.1,104.6 L421.1,104.8 L419.4,104.8 L419.4,104.9 L417.7,104.9 L417.7,105.2 L416.1,105.2 L416.1,105.4 L414.5,105.4 L414.5,105.7 L412.9,105.7 L412.9,106.0 L411.4,106.0 L411.4,106.2 L409.8,106.2 L409.8,106.5 L408.2,106.5 L408.2,106.7 L406.6,106.7 L406.6,107.0 L405.0,107.0 L405.0,107.1 L403.4,107.1 L403.4,107.3 L401.8,107.3 L401.8,107.4 L400.1,107.4 L400.1,107.6 L398.5,107.6 L398.5,107.7 L396.9,107.7 L396.9,107.9 L395.3,107.9 L395.3,108.0 L393.6,108.0 L393.6,108.2 L392.0,108.2 L392.0,108.3 L390.4,108.3 L390.4,108.4 L388.7,108.4 L388.7,108.5 L387.0,108.5 L387.0,108.6 L385.3,108.6 L385.3,108.8 L383.5,108.8 L383.5,108.9 L381.8,108.9 L381.8,109.0 L380.1,109.0 L380.1,109.1 L378.4,109.1 L378.4,109.2 L376.7,109.2 L376.7,109.7 L375.1,109.7 L375.1,110.2 L373.4,110.2 L373.4,110.7 L371.8,110.7 L371.8,111.2 L370.1,111.2 L370.1,111.7 L368.4,111.7 L368.4,112.2 L366.8,112.2 L366.8,113.0 L365.2,113.0 L365.2,113.8 L363.5,113.8 L363.5,114.7 L361.9,114.7 L361.9,115.5 L360.3,115.5 L360.3,116.3 L358.6,116.3 L358.6,117.1 L357.0,117.1 L357.0,117.6 L355.4,117.6 L355.4,118.1 L353.7,118.1 L353.7,118.5 L352.1,118.5 L352.1,119.0 L350.5,119.0 L350.5,119.5 L348.8,119.5 L348.8,120.0 L347.2,120.0 L347.2,120.8 L345.7,120.8 L345.7,121.5 L344.2,121.5 L344.2,122.2 L342.8,122.2 L342.8,123.0 L341.3,123.0 L341.3,124.5 L339.9,124.5 L339.9,125.9 L338.4,125.9 L338.4,127.4 L336.9,127.4 L336.9,128.8 L335.5,128.8 L335.5,129.8 L333.8,129.8 L333.8,130.8 L332.1,130.8 L332.1,131.8 L330.4,131.8 L330.4,132.7 L328.8,132.7 L328.8,133.7 L327.1,133.7 L327.1,134.7 L325.4,134.7 L325.4,135.7 L323.7,135.7 L323.7,135.8 L322.1,135.8 L322.1,136.0 L320.5,136.0 L320.5,136.1 L319.0,136.1 L319.0,136.3 L317.4,136.3 L317.4,136.4 L315.8,136.4Z" fill="#3aad48" opacity="0.22"/>
<path d="M315.8,136.4 L317.4,136.4 L317.4,135.2 L319.0,135.2 L319.0,134.0 L320.5,134.0 L320.5,132.9 L322.1,132.9 L322.1,131.7 L323.7,131.7 L323.7,130.5 L325.4,130.5 L325.4,129.8 L327.2,129.8 L327.2,129.1 L328.9,129.1 L328.9,128.3 L330.7,128.3 L330.7,127.6 L332.4,127.6 L332.4,126.9 L334.2,126.9 L334.2,126.2 L335.9,126.2 L335.9,125.4 L337.7,125.4 L337.7,124.7 L339.4,124.7 L339.4,124.0 L341.1,124.0 L341.1,123.4 L342.9,123.4 L342.9,122.8 L344.6,122.8 L344.6,122.2 L346.4,122.2 L346.4,121.6 L348.1,121.6 L348.1,120.9 L349.9,120.9 L349.9,120.3 L351.6,120.3 L351.6,119.7 L353.4,119.7 L353.4,119.1 L355.1,119.1 L355.1,118.5 L356.8,118.5 L356.8,118.0 L358.6,118.0 L358.6,117.5 L360.3,117.5 L360.3,117.0 L362.1,117.0 L362.1,116.5 L363.8,116.5 L363.8,116.0 L365.6,116.0 L365.6,115.5 L367.3,115.5 L367.3,115.0 L369.1,115.0 L369.1,114.5 L370.8,114.5 L370.8,114.0 L372.5,114.0 L372.5,113.7 L374.3,113.7 L374.3,113.3 L376.0,113.3 L376.0,113.0 L377.8,113.0 L377.8,112.7 L379.5,112.7 L379.5,112.3 L381.3,112.3 L381.3,112.0 L383.0,112.0 L383.0,111.7 L384.8,111.7 L384.8,111.3 L386.5,111.3 L386.5,111.0 L388.2,111.0 L388.2,110.9 L389.9,110.9 L389.9,110.9 L391.5,110.9 L391.5,110.8 L393.2,110.8 L393.2,110.7 L394.9,110.7 L394.9,110.6 L396.6,110.6 L396.6,110.6 L398.3,110.6 L398.3,110.5 L400.0,110.5 L400.0,110.4 L401.6,110.4 L401.6,110.3 L403.3,110.3 L403.3,110.3 L405.0,110.3 L405.0,110.2 L406.8,110.2 L406.8,110.1 L408.5,110.1 L408.5,110.0 L410.3,110.0 L410.3,109.8 L412.0,109.8 L412.0,109.7 L413.8,109.7 L413.8,109.6 L415.6,109.6 L415.6,109.5 L417.3,109.5 L417.3,109.4 L419.1,109.4 L419.1,109.3 L420.9,109.3 L420.9,109.2 L422.6,109.2 L422.6,109.0 L424.4,109.0 L424.4,108.9 L426.1,108.9 L426.1,108.8 L427.9,108.8 L427.9,108.7 L429.7,108.7 L429.7,108.6 L431.4,108.6 L431.4,108.4 L433.2,108.4 L433.2,108.3 L434.9,108.3 L434.9,108.2 L436.7,108.2 L436.7,108.1 L438.5,108.1 L438.5,108.1 L440.2,108.1 L440.2,108.1 L442.0,108.1 L442.0,108.1 L443.7,108.1 L443.7,108.1 L445.5,108.1 L445.5,108.0 L447.2,108.0 L447.2,108.0 L449.0,108.0 L449.0,108.0 L450.8,108.0 L450.8,108.0 L452.5,108.0 L452.5,108.0 L454.3,108.0 L454.3,108.0 L456.0,108.0 L456.0,108.0 L457.8,108.0 L457.8,108.0 L459.5,108.0 L459.5,108.0 L461.3,108.0 L461.3,108.0 L463.0,108.0 L463.0,107.9 L464.8,107.9 L464.8,107.9 L466.6,107.9 L466.6,107.9 L468.3,107.9 L468.3,107.9 L470.1,107.9 L470.1,107.9 L471.8,107.9 L471.8,107.9 L473.6,107.9 L473.6,107.9 L475.3,107.9 L475.3,107.9 L477.1,107.9 L477.1,107.9 L478.9,107.9 L478.9,107.9 L480.6,107.9 L480.6,107.8 L482.4,107.8 L482.4,107.8 L484.1,107.8 L484.1,107.8 L485.9,107.8 L485.9,107.8 L487.6,107.8 L487.6,107.8 L489.4,107.8 L489.4,107.8 L491.1,107.8 L491.1,107.8 L492.9,107.8 L492.9,107.8 L494.7,107.8 L494.7,107.8 L496.4,107.8 L496.4,107.8 L498.2,107.8 L498.2,107.7 L499.9,107.7 L499.9,107.7 L501.7,107.7 L501.7,107.7 L503.4,107.7 L503.4,107.7 L505.2,107.7 L505.2,107.7 L505.2,117.0 L505.2,117.0 L503.4,117.0 L503.4,117.0 L501.6,117.0 L501.6,117.1 L499.8,117.1 L499.8,117.1 L498.0,117.1 L498.0,117.1 L496.3,117.1 L496.3,117.1 L494.5,117.1 L494.5,117.2 L492.7,117.2 L492.7,117.2 L490.9,117.2 L490.9,117.2 L489.1,117.2 L489.1,117.2 L487.3,117.2 L487.3,117.2 L485.5,117.2 L485.5,117.3 L483.7,117.3 L483.7,117.3 L481.9,117.3 L481.9,117.3 L480.1,117.3 L480.1,117.3 L478.4,117.3 L478.4,117.3 L476.6,117.3 L476.6,117.4 L474.8,117.4 L474.8,117.4 L473.0,117.4 L473.0,117.4 L471.2,117.4 L471.2,117.4 L469.4,117.4 L469.4,117.5 L467.6,117.5 L467.6,117.5 L465.8,117.5 L465.8,117.5 L464.0,117.5 L464.0,117.5 L462.3,117.5 L462.3,117.5 L460.5,117.5 L460.5,117.6 L458.7,117.6 L458.7,117.6 L456.9,117.6 L456.9,117.6 L455.1,117.6 L455.1,117.6 L453.3,117.6 L453.3,117.6 L451.5,117.6 L451.5,117.7 L449.7,117.7 L449.7,117.7 L447.9,117.7 L447.9,117.7 L446.2,117.7 L446.2,117.7 L444.4,117.7 L444.4,117.8 L442.6,117.8 L442.6,117.8 L440.8,117.8 L440.8,117.8 L439.0,117.8 L439.0,117.8 L437.2,117.8 L437.2,117.8 L435.4,117.8 L435.4,117.9 L433.6,117.9 L433.6,117.9 L431.8,117.9 L431.8,117.9 L430.1,117.9 L430.1,117.9 L428.3,117.9 L428.3,117.9 L426.5,117.9 L426.5,118.0 L424.7,118.0 L424.7,118.0 L422.9,118.0 L422.9,118.0 L421.1,118.0 L421.1,118.0 L419.3,118.0 L419.3,118.0 L417.5,118.0 L417.5,118.1 L415.7,118.1 L415.7,118.1 L413.9,118.1 L413.9,118.1 L412.2,118.1 L412.2,118.1 L410.4,118.1 L410.4,118.2 L408.6,118.2 L408.6,118.2 L406.8,118.2 L406.8,118.2 L405.0,118.2 L405.0,118.3 L403.3,118.3 L403.3,118.4 L401.6,118.4 L401.6,118.6 L400.0,118.6 L400.0,118.7 L398.3,118.7 L398.3,118.8 L396.6,118.8 L396.6,118.9 L394.9,118.9 L394.9,119.0 L393.2,119.0 L393.2,119.1 L391.5,119.1 L391.5,119.3 L389.9,119.3 L389.9,119.4 L388.2,119.4 L388.2,119.5 L386.5,119.5 L386.5,119.8 L384.8,119.8 L384.8,120.1 L383.0,120.1 L383.0,120.3 L381.3,120.3 L381.3,120.6 L379.5,120.6 L379.5,120.9 L377.8,120.9 L377.8,121.2 L376.0,121.2 L376.0,121.4 L374.3,121.4 L374.3,121.7 L372.5,121.7 L372.5,122.0 L370.8,122.0 L370.8,122.4 L369.1,122.4 L369.1,122.8 L367.3,122.8 L367.3,123.3 L365.6,123.3 L365.6,123.7 L363.8,123.7 L363.8,124.1 L362.1,124.1 L362.1,124.5 L360.3,124.5 L360.3,125.0 L358.6,125.0 L358.6,125.4 L356.8,125.4 L356.8,125.8 L355.1,125.8 L355.1,126.3 L353.4,126.3 L353.4,126.9 L351.6,126.9 L351.6,127.4 L349.9,127.4 L349.9,128.0 L348.1,128.0 L348.1,128.5 L346.4,128.5 L346.4,129.1 L344.6,129.1 L344.6,129.6 L342.9,129.6 L342.9,130.2 L341.1,130.2 L341.1,130.7 L339.4,130.7 L339.4,131.2 L337.7,131.2 L337.7,131.7 L335.9,131.7 L335.9,132.1 L334.2,132.1 L334.2,132.6 L332.4,132.6 L332.4,133.1 L330.7,133.1 L330.7,133.6 L328.9,133.6 L328.9,134.0 L327.2,134.0 L327.2,134.5 L325.4,134.5 L325.4,135.0 L323.7,135.0 L323.7,135.3 L322.1,135.3 L322.1,135.6 L320.5,135.6 L320.5,135.8 L319.0,135.8 L319.0,136.1 L317.4,136.1 L317.4,136.4 L315.8,136.4Z" fill="#1f4f8a" opacity="0.22"/>
<path d="M315.8,136.4 L328.6,136.4 L328.6,134.2 L505.2,134.2" fill="none" stroke="#c8243c" stroke-width="1.6" stroke-linejoin="miter"/>
<line x1="344.3" y1="131.9" x2="344.3" y2="136.5" stroke="#c8243c" stroke-width="1.1"/>
<line x1="346.2" y1="131.9" x2="346.2" y2="136.5" stroke="#c8243c" stroke-width="1.1"/>
<line x1="357.0" y1="131.9" x2="357.0" y2="136.5" stroke="#c8243c" stroke-width="1.1"/>
<line x1="364.9" y1="131.9" x2="364.9" y2="136.5" stroke="#c8243c" stroke-width="1.1"/>
<line x1="368.8" y1="131.9" x2="368.8" y2="136.5" stroke="#c8243c" stroke-width="1.1"/>
<line x1="375.7" y1="131.9" x2="375.7" y2="136.5" stroke="#c8243c" stroke-width="1.1"/>
<line x1="381.6" y1="131.9" x2="381.6" y2="136.5" stroke="#c8243c" stroke-width="1.1"/>
<line x1="383.5" y1="131.9" x2="383.5" y2="136.5" stroke="#c8243c" stroke-width="1.1"/>
<line x1="394.3" y1="131.9" x2="394.3" y2="136.5" stroke="#c8243c" stroke-width="1.1"/>
<line x1="407.0" y1="131.9" x2="407.0" y2="136.5" stroke="#c8243c" stroke-width="1.1"/>
<line x1="416.6" y1="131.9" x2="416.6" y2="136.5" stroke="#c8243c" stroke-width="1.1"/>
<line x1="499.1" y1="131.9" x2="499.1" y2="136.5" stroke="#c8243c" stroke-width="1.1"/>
<line x1="502.3" y1="131.9" x2="502.3" y2="136.5" stroke="#c8243c" stroke-width="1.1"/>
<path d="M315.8,136.4 L317.1,136.4 L317.1,135.8 L318.5,135.8 L318.5,135.3 L319.8,135.3 L319.8,134.7 L321.1,134.7 L321.1,133.4 L322.4,133.4 L322.4,132.1 L323.7,132.1 L323.7,130.8 L325.0,130.8 L325.0,130.1 L326.3,130.1 L326.3,129.5 L327.6,129.5 L327.6,128.8 L328.9,128.8 L328.9,128.3 L330.2,128.3 L330.2,127.8 L331.5,127.8 L331.5,127.3 L333.0,127.3 L333.0,125.2 L334.5,125.2 L334.5,123.0 L335.8,123.0 L335.8,120.4 L337.1,120.4 L337.1,117.7 L338.4,117.7 L338.4,115.1 L339.7,115.1 L339.7,113.8 L341.0,113.8 L341.0,112.5 L342.3,112.5 L342.3,111.2 L343.6,111.2 L343.6,110.9 L345.0,110.9 L345.0,110.5 L346.3,110.5 L346.3,110.2 L347.9,110.2 L347.9,109.9 L349.6,109.9 L349.6,109.5 L351.2,109.5 L351.2,109.2 L352.6,109.2 L352.6,108.2 L354.1,108.2 L354.1,107.3 L355.7,107.3 L355.7,106.6 L357.4,106.6 L357.4,106.0 L359.0,106.0 L359.0,105.3 L360.3,105.3 L360.3,104.3 L361.6,104.3 L361.6,103.4 L362.9,103.4 L362.9,102.4 L364.2,102.4 L364.2,101.7 L365.5,101.7 L365.5,101.1 L366.8,101.1 L366.8,100.4 L368.5,100.4 L368.5,99.7 L370.1,99.7 L370.1,99.1 L371.8,99.1 L371.8,98.4 L373.5,98.4 L373.5,98.3 L375.3,98.3 L375.3,98.2 L377.0,98.2 L377.0,98.2 L378.8,98.2 L378.8,98.1 L380.5,98.1 L380.5,98.0 L382.3,98.0 L382.3,97.9 L384.0,97.9 L384.0,97.8 L385.8,97.8 L385.8,97.8 L387.5,97.8 L387.5,97.7 L389.3,97.7 L389.3,97.6 L391.0,97.6 L391.0,97.5 L392.8,97.5 L392.8,97.5 L394.5,97.5 L394.5,97.4 L396.3,97.4 L396.3,97.3 L398.0,97.3 L398.0,97.2 L399.8,97.2 L399.8,97.1 L401.5,97.1 L401.5,97.1 L403.3,97.1 L403.3,97.0 L405.0,97.0 L405.0,96.9 L412.4,96.9 L412.4,95.4 L418.8,95.4 L418.8,93.7 L426.2,93.7 L426.2,92.2 L443.1,92.2 L443.1,91.2 L453.7,91.2 L453.7,89.5 L505.2,89.5" fill="none" stroke="#3aad48" stroke-width="1.6" stroke-linejoin="miter"/>
<line x1="383.5" y1="95.6" x2="383.5" y2="100.2" stroke="#3aad48" stroke-width="1.1"/>
<line x1="385.5" y1="95.5" x2="385.5" y2="100.1" stroke="#3aad48" stroke-width="1.1"/>
<line x1="388.4" y1="95.4" x2="388.4" y2="100.0" stroke="#3aad48" stroke-width="1.1"/>
<line x1="389.4" y1="95.3" x2="389.4" y2="99.9" stroke="#3aad48" stroke-width="1.1"/>
<line x1="402.2" y1="94.7" x2="402.2" y2="99.3" stroke="#3aad48" stroke-width="1.1"/>
<line x1="403.2" y1="94.7" x2="403.2" y2="99.3" stroke="#3aad48" stroke-width="1.1"/>
<line x1="426.2" y1="91.4" x2="426.2" y2="96.0" stroke="#3aad48" stroke-width="1.1"/>
<line x1="429.3" y1="89.9" x2="429.3" y2="94.5" stroke="#3aad48" stroke-width="1.1"/>
<line x1="432.5" y1="89.9" x2="432.5" y2="94.5" stroke="#3aad48" stroke-width="1.1"/>
<line x1="437.8" y1="89.9" x2="437.8" y2="94.5" stroke="#3aad48" stroke-width="1.1"/>
<line x1="458.9" y1="87.2" x2="458.9" y2="91.8" stroke="#3aad48" stroke-width="1.1"/>
<line x1="465.3" y1="87.2" x2="465.3" y2="91.8" stroke="#3aad48" stroke-width="1.1"/>
<line x1="471.6" y1="87.2" x2="471.6" y2="91.8" stroke="#3aad48" stroke-width="1.1"/>
<line x1="473.8" y1="87.2" x2="473.8" y2="91.8" stroke="#3aad48" stroke-width="1.1"/>
<line x1="476.9" y1="87.2" x2="476.9" y2="91.8" stroke="#3aad48" stroke-width="1.1"/>
<line x1="492.8" y1="87.2" x2="492.8" y2="91.8" stroke="#3aad48" stroke-width="1.1"/>
<line x1="497.0" y1="87.2" x2="497.0" y2="91.8" stroke="#3aad48" stroke-width="1.1"/>
<line x1="502.7" y1="87.2" x2="502.7" y2="91.8" stroke="#3aad48" stroke-width="1.1"/>
<path d="M315.8,136.4 L317.4,136.4 L317.4,135.7 L319.0,135.7 L319.0,135.0 L320.5,135.0 L320.5,134.2 L322.1,134.2 L322.1,133.5 L323.7,133.5 L323.7,132.8 L325.3,132.8 L325.3,132.2 L326.8,132.2 L326.8,131.6 L328.4,131.6 L328.4,131.0 L329.9,131.0 L329.9,130.4 L331.5,130.4 L331.5,129.8 L333.1,129.8 L333.1,129.3 L334.7,129.3 L334.7,128.8 L336.2,128.8 L336.2,128.3 L337.8,128.3 L337.8,127.8 L339.4,127.8 L339.4,127.3 L341.0,127.3 L341.0,126.8 L342.5,126.8 L342.5,126.3 L344.1,126.3 L344.1,125.9 L345.6,125.9 L345.6,125.4 L347.2,125.4 L347.2,124.9 L348.8,124.9 L348.8,124.3 L350.4,124.3 L350.4,123.7 L351.9,123.7 L351.9,123.2 L353.5,123.2 L353.5,122.6 L355.1,122.6 L355.1,122.0 L356.7,122.0 L356.7,121.6 L358.2,121.6 L358.2,121.2 L359.8,121.2 L359.8,120.8 L361.3,120.8 L361.3,120.4 L362.9,120.4 L362.9,120.0 L364.5,120.0 L364.5,119.6 L366.1,119.6 L366.1,119.2 L367.6,119.2 L367.6,118.9 L369.2,118.9 L369.2,118.5 L370.8,118.5 L370.8,118.1 L372.4,118.1 L372.4,117.8 L373.9,117.8 L373.9,117.5 L375.5,117.5 L375.5,117.3 L377.0,117.3 L377.0,117.0 L378.6,117.0 L378.6,116.7 L380.2,116.7 L380.2,116.5 L381.8,116.5 L381.8,116.2 L383.3,116.2 L383.3,116.0 L384.9,116.0 L384.9,115.7 L386.5,115.7 L386.5,115.5 L388.2,115.5 L388.2,115.4 L389.9,115.4 L389.9,115.4 L391.5,115.4 L391.5,115.3 L393.2,115.3 L393.2,115.2 L394.9,115.2 L394.9,115.2 L396.6,115.2 L396.6,115.1 L398.3,115.1 L398.3,115.1 L400.0,115.1 L400.0,115.0 L401.6,115.0 L401.6,114.9 L403.3,114.9 L403.3,114.9 L405.0,114.9 L405.0,114.8 L406.6,114.8 L406.6,114.7 L408.2,114.7 L408.2,114.6 L409.8,114.6 L409.8,114.5 L411.4,114.5 L411.4,114.4 L412.9,114.4 L412.9,114.3 L414.5,114.3 L414.5,114.2 L416.1,114.2 L416.1,114.1 L417.7,114.1 L417.7,114.0 L419.3,114.0 L419.3,113.9 L421.0,113.9 L421.0,113.7 L422.6,113.7 L422.6,113.6 L424.3,113.6 L424.3,113.4 L425.9,113.4 L425.9,113.3 L427.6,113.3 L427.6,113.1 L429.2,113.1 L429.2,113.0 L430.9,113.0 L430.9,112.8 L432.5,112.8 L432.5,112.7 L434.2,112.7 L434.2,112.6 L435.9,112.6 L435.9,112.5 L437.6,112.5 L437.6,112.3 L439.3,112.3 L439.3,112.2 L441.0,112.2 L441.0,112.1 L505.2,112.1" fill="none" stroke="#1f4f8a" stroke-width="1.6" stroke-linejoin="miter"/>
<line x1="352.0" y1="120.8" x2="352.0" y2="125.4" stroke="#1f4f8a" stroke-width="1.1"/>
<line x1="356.0" y1="119.5" x2="356.0" y2="124.1" stroke="#1f4f8a" stroke-width="1.1"/>
<line x1="360.0" y1="118.4" x2="360.0" y2="123.0" stroke="#1f4f8a" stroke-width="1.1"/>
<line x1="361.2" y1="118.1" x2="361.2" y2="122.7" stroke="#1f4f8a" stroke-width="1.1"/>
<line x1="362.5" y1="117.8" x2="362.5" y2="122.4" stroke="#1f4f8a" stroke-width="1.1"/>
<line x1="366.2" y1="116.9" x2="366.2" y2="121.5" stroke="#1f4f8a" stroke-width="1.1"/>
<line x1="369.5" y1="116.1" x2="369.5" y2="120.7" stroke="#1f4f8a" stroke-width="1.1"/>
<line x1="372.7" y1="115.5" x2="372.7" y2="120.1" stroke="#1f4f8a" stroke-width="1.1"/>
<line x1="374.7" y1="115.1" x2="374.7" y2="119.7" stroke="#1f4f8a" stroke-width="1.1"/>
<line x1="377.6" y1="114.6" x2="377.6" y2="119.2" stroke="#1f4f8a" stroke-width="1.1"/>
<line x1="380.5" y1="114.1" x2="380.5" y2="118.7" stroke="#1f4f8a" stroke-width="1.1"/>
<line x1="383.4" y1="113.7" x2="383.4" y2="118.3" stroke="#1f4f8a" stroke-width="1.1"/>
<line x1="384.9" y1="113.4" x2="384.9" y2="118.0" stroke="#1f4f8a" stroke-width="1.1"/>
<line x1="387.3" y1="113.2" x2="387.3" y2="117.8" stroke="#1f4f8a" stroke-width="1.1"/>
<line x1="389.6" y1="113.1" x2="389.6" y2="117.7" stroke="#1f4f8a" stroke-width="1.1"/>
<line x1="392.9" y1="113.0" x2="392.9" y2="117.6" stroke="#1f4f8a" stroke-width="1.1"/>
<line x1="397.0" y1="112.8" x2="397.0" y2="117.4" stroke="#1f4f8a" stroke-width="1.1"/>
<line x1="401.0" y1="112.7" x2="401.0" y2="117.3" stroke="#1f4f8a" stroke-width="1.1"/>
<line x1="403.7" y1="112.5" x2="403.7" y2="117.1" stroke="#1f4f8a" stroke-width="1.1"/>
<line x1="406.2" y1="112.4" x2="406.2" y2="117.0" stroke="#1f4f8a" stroke-width="1.1"/>
<line x1="408.0" y1="112.3" x2="408.0" y2="116.9" stroke="#1f4f8a" stroke-width="1.1"/>
<line x1="409.2" y1="112.2" x2="409.2" y2="116.8" stroke="#1f4f8a" stroke-width="1.1"/>
<line x1="410.3" y1="112.2" x2="410.3" y2="116.8" stroke="#1f4f8a" stroke-width="1.1"/>
<line x1="412.8" y1="112.0" x2="412.8" y2="116.6" stroke="#1f4f8a" stroke-width="1.1"/>
<line x1="414.8" y1="111.9" x2="414.8" y2="116.5" stroke="#1f4f8a" stroke-width="1.1"/>
<line x1="417.1" y1="111.7" x2="417.1" y2="116.3" stroke="#1f4f8a" stroke-width="1.1"/>
<line x1="420.9" y1="111.4" x2="420.9" y2="116.0" stroke="#1f4f8a" stroke-width="1.1"/>
<line x1="423.6" y1="111.2" x2="423.6" y2="115.8" stroke="#1f4f8a" stroke-width="1.1"/>
<line x1="426.4" y1="110.9" x2="426.4" y2="115.5" stroke="#1f4f8a" stroke-width="1.1"/>
<line x1="428.1" y1="110.8" x2="428.1" y2="115.4" stroke="#1f4f8a" stroke-width="1.1"/>
<line x1="429.3" y1="110.7" x2="429.3" y2="115.3" stroke="#1f4f8a" stroke-width="1.1"/>
<line x1="431.3" y1="110.5" x2="431.3" y2="115.1" stroke="#1f4f8a" stroke-width="1.1"/>
<line x1="432.8" y1="110.4" x2="432.8" y2="115.0" stroke="#1f4f8a" stroke-width="1.1"/>
<line x1="435.4" y1="110.2" x2="435.4" y2="114.8" stroke="#1f4f8a" stroke-width="1.1"/>
<line x1="439.6" y1="109.9" x2="439.6" y2="114.5" stroke="#1f4f8a" stroke-width="1.1"/>
<line x1="442.7" y1="109.8" x2="442.7" y2="114.4" stroke="#1f4f8a" stroke-width="1.1"/>
<line x1="444.3" y1="109.8" x2="444.3" y2="114.4" stroke="#1f4f8a" stroke-width="1.1"/>
<line x1="448.1" y1="109.8" x2="448.1" y2="114.4" stroke="#1f4f8a" stroke-width="1.1"/>
<line x1="451.7" y1="109.8" x2="451.7" y2="114.4" stroke="#1f4f8a" stroke-width="1.1"/>
<line x1="455.0" y1="109.8" x2="455.0" y2="114.4" stroke="#1f4f8a" stroke-width="1.1"/>
<line x1="458.9" y1="109.8" x2="458.9" y2="114.4" stroke="#1f4f8a" stroke-width="1.1"/>
<line x1="462.3" y1="109.8" x2="462.3" y2="114.4" stroke="#1f4f8a" stroke-width="1.1"/>
<line x1="465.8" y1="109.8" x2="465.8" y2="114.4" stroke="#1f4f8a" stroke-width="1.1"/>
<line x1="467.9" y1="109.8" x2="467.9" y2="114.4" stroke="#1f4f8a" stroke-width="1.1"/>
<line x1="472.0" y1="109.8" x2="472.0" y2="114.4" stroke="#1f4f8a" stroke-width="1.1"/>
<line x1="476.1" y1="109.8" x2="476.1" y2="114.4" stroke="#1f4f8a" stroke-width="1.1"/>
<line x1="477.6" y1="109.8" x2="477.6" y2="114.4" stroke="#1f4f8a" stroke-width="1.1"/>
<line x1="481.0" y1="109.8" x2="481.0" y2="114.4" stroke="#1f4f8a" stroke-width="1.1"/>
<line x1="484.3" y1="109.8" x2="484.3" y2="114.4" stroke="#1f4f8a" stroke-width="1.1"/>
<line x1="486.8" y1="109.8" x2="486.8" y2="114.4" stroke="#1f4f8a" stroke-width="1.1"/>
<line x1="489.5" y1="109.8" x2="489.5" y2="114.4" stroke="#1f4f8a" stroke-width="1.1"/>
<line x1="492.0" y1="109.8" x2="492.0" y2="114.4" stroke="#1f4f8a" stroke-width="1.1"/>
<line x1="496.0" y1="109.8" x2="496.0" y2="114.4" stroke="#1f4f8a" stroke-width="1.1"/>
<line x1="498.6" y1="109.8" x2="498.6" y2="114.4" stroke="#1f4f8a" stroke-width="1.1"/>
<line x1="502.2" y1="109.8" x2="502.2" y2="114.4" stroke="#1f4f8a" stroke-width="1.1"/>
<line x1="504.3" y1="109.8" x2="504.3" y2="114.4" stroke="#1f4f8a" stroke-width="1.1"/>
<text x="314.6" y="31.6" font-size="7" text-anchor="start" fill="#222" font-weight="normal" stroke="#222" stroke-width="0.12" >rATG exposure post<tspan dx="0.6">–</tspan><tspan dx="0.6">HCT</tspan></text>
<line x1="331.0" y1="37.9" x2="339.6" y2="37.9" stroke="#c8243c" stroke-width="1.6"/>
<text x="344.0" y="40.0" font-size="7" text-anchor="start" fill="#222" font-weight="normal" stroke="#222" stroke-width="0.12" >&lt;30</text>
<line x1="331.0" y1="45.0" x2="339.6" y2="45.0" stroke="#1f4f8a" stroke-width="1.6"/>
<text x="344.0" y="47.1" font-size="7" text-anchor="start" fill="#222" font-weight="normal" stroke="#222" stroke-width="0.12" >30<tspan dx="0.6">–</tspan><tspan dx="0.6">55</tspan></text>
<line x1="331.0" y1="52.1" x2="339.6" y2="52.1" stroke="#3aad48" stroke-width="1.6"/>
<text x="344.0" y="54.2" font-size="7" text-anchor="start" fill="#222" font-weight="normal" stroke="#222" stroke-width="0.12" >≥55</text>
<text x="304.6" y="168.8" font-size="7.3" text-anchor="end" fill="#222" font-weight="normal" stroke="#222" stroke-width="0.12" >At–risk</text>
<text x="304.6" y="176.2" font-size="7.3" text-anchor="end" fill="#222" font-weight="normal" stroke="#222" stroke-width="0.12" >&lt;30</text>
<text x="315.6" y="176.2" font-size="7.3" text-anchor="middle" fill="#c8243c" font-weight="normal" stroke="#c8243c" stroke-width="0.12" >37</text>
<text x="353.6" y="176.2" font-size="7.3" text-anchor="middle" fill="#c8243c" font-weight="normal" stroke="#c8243c" stroke-width="0.12" >29</text>
<text x="391.7" y="176.2" font-size="7.3" text-anchor="middle" fill="#c8243c" font-weight="normal" stroke="#c8243c" stroke-width="0.12" >19</text>
<text x="429.7" y="176.2" font-size="7.3" text-anchor="middle" fill="#c8243c" font-weight="normal" stroke="#c8243c" stroke-width="0.12" >15</text>
<text x="467.7" y="176.2" font-size="7.3" text-anchor="middle" fill="#c8243c" font-weight="normal" stroke="#c8243c" stroke-width="0.12" >15</text>
<text x="505.8" y="176.2" font-size="7.3" text-anchor="middle" fill="#c8243c" font-weight="normal" stroke="#c8243c" stroke-width="0.12" >13</text>
<text x="304.6" y="184.0" font-size="7.3" text-anchor="end" fill="#222" font-weight="normal" stroke="#222" stroke-width="0.12" >30<tspan dx="0.6">–</tspan><tspan dx="0.6">55</tspan></text>
<text x="315.6" y="184.0" font-size="7.3" text-anchor="middle" fill="#1f4f8a" font-weight="normal" stroke="#1f4f8a" stroke-width="0.12" >382</text>
<text x="353.6" y="184.0" font-size="7.3" text-anchor="middle" fill="#1f4f8a" font-weight="normal" stroke="#1f4f8a" stroke-width="0.12" >305</text>
<text x="391.7" y="184.0" font-size="7.3" text-anchor="middle" fill="#1f4f8a" font-weight="normal" stroke="#1f4f8a" stroke-width="0.12" >196</text>
<text x="429.7" y="184.0" font-size="7.3" text-anchor="middle" fill="#1f4f8a" font-weight="normal" stroke="#1f4f8a" stroke-width="0.12" >154</text>
<text x="467.7" y="184.0" font-size="7.3" text-anchor="middle" fill="#1f4f8a" font-weight="normal" stroke="#1f4f8a" stroke-width="0.12" >111</text>
<text x="505.8" y="184.0" font-size="7.3" text-anchor="middle" fill="#1f4f8a" font-weight="normal" stroke="#1f4f8a" stroke-width="0.12" >66</text>
<text x="304.6" y="191.5" font-size="7.3" text-anchor="end" fill="#222" font-weight="normal" stroke="#222" stroke-width="0.12" >≥55</text>
<text x="315.6" y="191.5" font-size="7.3" text-anchor="middle" fill="#3aad48" font-weight="normal" stroke="#3aad48" stroke-width="0.12" >96</text>
<text x="353.6" y="191.5" font-size="7.3" text-anchor="middle" fill="#3aad48" font-weight="normal" stroke="#3aad48" stroke-width="0.12" >64</text>
<text x="391.7" y="191.5" font-size="7.3" text-anchor="middle" fill="#3aad48" font-weight="normal" stroke="#3aad48" stroke-width="0.12" >48</text>
<text x="429.7" y="191.5" font-size="7.3" text-anchor="middle" fill="#3aad48" font-weight="normal" stroke="#3aad48" stroke-width="0.12" >37</text>
<text x="467.7" y="191.5" font-size="7.3" text-anchor="middle" fill="#3aad48" font-weight="normal" stroke="#3aad48" stroke-width="0.12" >28</text>
<text x="505.8" y="191.5" font-size="7.3" text-anchor="middle" fill="#3aad48" font-weight="normal" stroke="#3aad48" stroke-width="0.12" >15</text>
<rect x="47.3" y="211.8" width="204.3" height="118.4" fill="none" stroke="#2a2a2a" stroke-width="1.3"/>
<line x1="44.0" y1="326.0" x2="47.3" y2="326.0" stroke="#2a2a2a" stroke-width="1.1"/>
<text x="40.9" y="328.6" font-size="7.7" text-anchor="end" fill="#222" font-weight="normal" stroke="#222" stroke-width="0.12" >0%</text>
<line x1="44.0" y1="298.6" x2="47.3" y2="298.6" stroke="#2a2a2a" stroke-width="1.1"/>
<text x="40.9" y="301.2" font-size="7.7" text-anchor="end" fill="#222" font-weight="normal" stroke="#222" stroke-width="0.12" >25%</text>
<line x1="44.0" y1="271.2" x2="47.3" y2="271.2" stroke="#2a2a2a" stroke-width="1.1"/>
<text x="40.9" y="273.8" font-size="7.7" text-anchor="end" fill="#222" font-weight="normal" stroke="#222" stroke-width="0.12" >50%</text>
<line x1="44.0" y1="243.9" x2="47.3" y2="243.9" stroke="#2a2a2a" stroke-width="1.1"/>
<text x="40.9" y="246.5" font-size="7.7" text-anchor="end" fill="#222" font-weight="normal" stroke="#222" stroke-width="0.12" >75%</text>
<line x1="44.0" y1="216.5" x2="47.3" y2="216.5" stroke="#2a2a2a" stroke-width="1.1"/>
<text x="40.9" y="219.1" font-size="7.7" text-anchor="end" fill="#222" font-weight="normal" stroke="#222" stroke-width="0.12" >100%</text>
<line x1="54.2" y1="330.2" x2="54.2" y2="333.2" stroke="#2a2a2a" stroke-width="1.1"/>
<text x="54.2" y="342.2" font-size="8.0" text-anchor="middle" fill="#222" font-weight="normal" stroke="#222" stroke-width="0.12" >0</text>
<line x1="101.8" y1="330.2" x2="101.8" y2="333.2" stroke="#2a2a2a" stroke-width="1.1"/>
<text x="101.8" y="342.2" font-size="8.0" text-anchor="middle" fill="#222" font-weight="normal" stroke="#222" stroke-width="0.12" >25</text>
<line x1="149.3" y1="330.2" x2="149.3" y2="333.2" stroke="#2a2a2a" stroke-width="1.1"/>
<text x="149.3" y="342.2" font-size="8.0" text-anchor="middle" fill="#222" font-weight="normal" stroke="#222" stroke-width="0.12" >50</text>
<line x1="196.8" y1="330.2" x2="196.8" y2="333.2" stroke="#2a2a2a" stroke-width="1.1"/>
<text x="196.8" y="342.2" font-size="8.0" text-anchor="middle" fill="#222" font-weight="normal" stroke="#222" stroke-width="0.12" >75</text>
<line x1="244.4" y1="330.2" x2="244.4" y2="333.2" stroke="#2a2a2a" stroke-width="1.1"/>
<text x="244.4" y="342.2" font-size="8.0" text-anchor="middle" fill="#222" font-weight="normal" stroke="#222" stroke-width="0.12" >100</text>
<text transform="translate(149.2,352.1) scale(0.74,1)" font-size="8.6" text-anchor="middle" fill="#222" stroke="#222" stroke-width="0.2">Time from HCT (days)</text>
<text transform="translate(14.1,271.0) rotate(-90) scale(0.74,1)" font-size="8.6" text-anchor="middle" fill="#222" stroke="#222" stroke-width="0.2">CD4 IR cumulative incidence</text>
<text x="6.9" y="211.0" font-size="10.8" text-anchor="start" fill="#111" font-weight="bold" >C</text>
<path d="M90.0,326.3 L90.0,321.5 L91.5,321.5 L91.5,320.2 L93.1,320.2 L93.1,319.0 L94.6,319.0 L94.6,317.7 L96.3,317.7 L96.3,316.1 L98.0,316.1 L98.0,314.6 L99.8,314.6 L99.8,313.1 L101.5,313.1 L101.5,311.5 L103.3,311.5 L103.3,311.4 L105.0,311.4 L105.0,311.2 L106.8,311.2 L106.8,311.1 L108.6,311.1 L108.6,310.9 L110.3,310.9 L110.3,310.8 L112.1,310.8 L112.1,310.6 L113.9,310.6 L113.9,310.4 L115.7,310.4 L115.7,310.3 L117.4,310.3 L117.4,310.1 L119.2,310.1 L119.2,310.0 L120.5,310.0 L120.5,308.8 L121.8,308.8 L121.8,307.7 L123.1,307.7 L123.1,306.5 L124.6,306.5 L124.6,306.1 L126.2,306.1 L126.2,305.8 L127.7,305.8 L127.7,305.4 L129.2,305.4 L129.2,305.0 L130.8,305.0 L130.8,304.7 L132.3,304.7 L132.3,304.3 L134.0,304.3 L134.0,303.4 L135.6,303.4 L135.6,302.6 L137.3,302.6 L137.3,301.8 L139.0,301.8 L139.0,300.9 L140.6,300.9 L140.6,300.1 L142.3,300.1 L142.3,299.2 L143.8,299.2 L143.8,298.9 L145.4,298.9 L145.4,298.5 L146.9,298.5 L146.9,298.2 L148.4,298.2 L148.4,297.9 L150.0,297.9 L150.0,297.5 L151.5,297.5 L151.5,297.2 L153.1,297.2 L153.1,296.6 L154.6,296.6 L154.6,295.9 L156.1,295.9 L156.1,295.2 L157.7,295.2 L157.7,294.6 L159.2,294.6 L159.2,294.3 L160.6,294.3 L160.6,294.0 L162.1,294.0 L162.1,293.6 L163.5,293.6 L163.5,293.3 L165.0,293.3 L165.0,293.0 L166.3,293.0 L166.3,292.6 L167.7,292.6 L167.7,292.3 L168.9,292.3 L168.9,286.2 L170.2,286.2 L170.2,280.2 L171.9,280.2 L171.9,278.9 L173.7,278.9 L173.7,277.7 L175.4,277.7 L175.4,276.4 L177.0,276.4 L177.0,275.7 L178.6,275.7 L178.6,275.1 L180.2,275.1 L180.2,274.4 L181.7,274.4 L181.7,273.7 L183.3,273.7 L183.3,273.1 L184.9,273.1 L184.9,272.4 L186.6,272.4 L186.6,270.8 L188.4,270.8 L188.4,269.2 L190.1,269.2 L190.1,267.6 L191.8,267.6 L191.8,266.1 L193.6,266.1 L193.6,264.5 L195.3,264.5 L195.3,262.9 L196.9,262.9 L196.9,262.3 L198.5,262.3 L198.5,261.7 L200.1,261.7 L200.1,261.1 L201.7,261.1 L201.7,260.4 L203.3,260.4 L203.3,259.8 L204.9,259.8 L204.9,259.2 L206.5,259.2 L206.5,258.6 L208.2,258.6 L208.2,258.3 L210.0,258.3 L210.0,258.0 L211.7,258.0 L211.7,257.6 L213.4,257.6 L213.4,257.3 L215.2,257.3 L215.2,257.0 L216.9,257.0 L216.9,256.6 L218.7,256.6 L218.7,256.3 L220.4,256.3 L220.4,256.0 L222.1,256.0 L222.1,255.4 L223.9,255.4 L223.9,254.8 L225.6,254.8 L225.6,254.2 L227.3,254.2 L227.3,253.7 L229.1,253.7 L229.1,253.1 L230.8,253.1 L230.8,252.5 L232.5,252.5 L232.5,250.8 L234.3,250.8 L234.3,249.0 L236.0,249.0 L236.0,247.3 L237.7,247.3 L237.7,246.1 L239.3,246.1 L239.3,244.9 L241.0,244.9 L241.0,243.6 L242.6,243.6 L242.6,242.4 L244.3,242.4 L244.3,241.2 L244.3,268.9 L244.3,270.8 L242.6,270.8 L242.6,272.7 L240.9,272.7 L240.9,274.5 L239.2,274.5 L239.2,276.4 L237.6,276.4 L237.6,278.3 L235.9,278.3 L235.9,280.2 L234.2,280.2 L234.2,280.6 L232.5,280.6 L232.5,281.1 L230.8,281.1 L230.8,281.5 L229.0,281.5 L229.0,281.9 L227.3,281.9 L227.3,282.4 L225.6,282.4 L225.6,282.8 L223.8,282.8 L223.8,283.3 L222.1,283.3 L222.1,283.7 L220.4,283.7 L220.4,284.1 L218.7,284.1 L218.7,284.6 L216.9,284.6 L216.9,285.0 L215.2,285.0 L215.2,285.4 L213.4,285.4 L213.4,285.8 L211.7,285.8 L211.7,286.2 L210.0,286.2 L210.0,286.7 L208.2,286.7 L208.2,287.1 L206.5,287.1 L206.5,287.8 L204.8,287.8 L204.8,288.6 L203.0,288.6 L203.0,289.3 L201.3,289.3 L201.3,290.1 L199.6,290.1 L199.6,290.8 L197.9,290.8 L197.9,291.6 L196.1,291.6 L196.1,292.3 L194.4,292.3 L194.4,293.8 L192.7,293.8 L192.7,295.3 L190.9,295.3 L190.9,296.8 L189.2,296.8 L189.2,298.2 L187.5,298.2 L187.5,299.7 L185.8,299.7 L185.8,301.2 L184.0,301.2 L184.0,302.7 L182.3,302.7 L182.3,303.7 L180.6,303.7 L180.6,304.8 L178.8,304.8 L178.8,305.8 L177.1,305.8 L177.1,306.9 L175.4,306.9 L175.4,307.9 L173.7,307.9 L173.7,308.9 L171.9,308.9 L171.9,310.0 L170.2,310.0 L170.2,311.0 L168.5,311.0 L168.5,312.1 L166.7,312.1 L166.7,313.1 L165.0,313.1 L165.0,313.5 L163.3,313.5 L163.3,313.9 L161.6,313.9 L161.6,314.3 L159.9,314.3 L159.9,314.6 L158.2,314.6 L158.2,315.0 L156.6,315.0 L156.6,315.4 L154.9,315.4 L154.9,315.8 L153.2,315.8 L153.2,316.2 L151.5,316.2 L151.5,316.5 L149.8,316.5 L149.8,316.8 L148.2,316.8 L148.2,317.1 L146.5,317.1 L146.5,317.5 L144.8,317.5 L144.8,317.8 L143.2,317.8 L143.2,318.1 L141.5,318.1 L141.5,318.4 L139.8,318.4 L139.8,318.7 L138.2,318.7 L138.2,319.1 L136.5,319.1 L136.5,319.4 L134.8,319.4 L134.8,319.7 L133.2,319.7 L133.2,320.0 L131.5,320.0 L131.5,320.4 L129.7,320.4 L129.7,320.9 L128.0,320.9 L128.0,321.3 L126.2,321.3 L126.2,321.7 L124.5,321.7 L124.5,322.1 L122.7,322.1 L122.7,322.6 L121.0,322.6 L121.0,323.0 L119.2,323.0 L119.2,323.2 L117.5,323.2 L117.5,323.4 L115.8,323.4 L115.8,323.6 L114.0,323.6 L114.0,323.8 L112.3,323.8 L112.3,324.0 L110.6,324.0 L110.6,324.2 L108.9,324.2 L108.9,324.4 L107.2,324.4 L107.2,324.6 L105.5,324.6 L105.5,324.7 L103.7,324.7 L103.7,324.9 L102.0,324.9 L102.0,325.1 L100.3,325.1 L100.3,325.3 L98.6,325.3 L98.6,325.5 L96.9,325.5 L96.9,325.7 L95.2,325.7 L95.2,325.9 L93.4,325.9 L93.4,326.1 L91.7,326.1 L91.7,326.3 L90.0,326.3Z" fill="#c8243c" opacity="0.22"/>
<path d="M128.5,326.3 L128.5,323.0 L140.0,323.0 L140.8,323.0 L140.8,319.7 L142.5,319.7 L142.5,319.5 L144.3,319.5 L144.3,319.4 L146.0,319.4 L146.0,319.2 L147.7,319.2 L147.7,319.0 L149.4,319.0 L149.4,318.9 L151.2,318.9 L151.2,318.7 L152.9,318.7 L152.9,318.5 L154.6,318.5 L154.6,318.4 L156.4,318.4 L156.4,318.2 L158.1,318.2 L158.1,318.1 L159.8,318.1 L159.8,317.9 L161.5,317.9 L161.5,317.7 L163.3,317.7 L163.3,317.6 L165.0,317.6 L165.0,317.4 L166.7,317.4 L166.7,316.8 L168.5,316.8 L168.5,316.2 L170.2,316.2 L170.2,315.6 L171.9,315.6 L171.9,315.0 L173.7,315.0 L173.7,314.4 L175.4,314.4 L175.4,313.7 L177.1,313.7 L177.1,313.1 L178.8,313.1 L178.8,312.5 L180.6,312.5 L180.6,311.9 L182.3,311.9 L182.3,311.3 L184.0,311.3 L184.0,311.0 L185.8,311.0 L185.8,310.8 L187.5,310.8 L187.5,310.5 L189.2,310.5 L189.2,310.3 L190.9,310.3 L190.9,310.0 L192.7,310.0 L192.7,309.7 L194.4,309.7 L194.4,309.5 L196.1,309.5 L196.1,309.2 L197.9,309.2 L197.9,309.0 L199.6,309.0 L199.6,308.7 L201.3,308.7 L201.3,308.5 L203.1,308.5 L203.1,308.3 L204.8,308.3 L204.8,308.1 L206.5,308.1 L206.5,307.9 L208.3,307.9 L208.3,307.7 L210.0,307.7 L210.0,307.4 L211.7,307.4 L211.7,307.2 L213.5,307.2 L213.5,307.0 L215.2,307.0 L215.2,306.8 L216.9,306.8 L216.9,306.6 L218.7,306.6 L218.7,306.4 L220.4,306.4 L220.4,306.2 L222.1,306.2 L222.1,305.7 L223.9,305.7 L223.9,305.2 L225.6,305.2 L225.6,304.6 L227.3,304.6 L227.3,304.1 L229.1,304.1 L229.1,303.6 L230.8,303.6 L230.8,303.1 L232.5,303.1 L232.5,302.6 L234.2,302.6 L234.2,302.0 L236.0,302.0 L236.0,301.5 L237.7,301.5 L237.7,301.0 L239.3,301.0 L239.3,300.4 L241.0,300.4 L241.0,299.7 L242.7,299.7 L242.7,299.0 L244.3,299.0 L244.3,298.4 L244.3,314.8 L244.3,315.7 L242.7,315.7 L242.7,316.6 L241.0,316.6 L241.0,317.4 L239.3,317.4 L239.3,318.3 L237.7,318.3 L237.7,318.6 L236.0,318.6 L236.0,318.8 L234.2,318.8 L234.2,319.1 L232.5,319.1 L232.5,319.3 L230.8,319.3 L230.8,319.6 L229.1,319.6 L229.1,319.9 L227.3,319.9 L227.3,320.1 L225.6,320.1 L225.6,320.4 L223.9,320.4 L223.9,320.6 L222.1,320.6 L222.1,320.9 L220.4,320.9 L220.4,321.0 L218.7,321.0 L218.7,321.2 L216.9,321.2 L216.9,321.3 L215.2,321.3 L215.2,321.5 L213.5,321.5 L213.5,321.6 L211.7,321.6 L211.7,321.8 L210.0,321.8 L210.0,321.9 L208.3,321.9 L208.3,322.0 L206.5,322.0 L206.5,322.2 L204.8,322.2 L204.8,322.3 L203.1,322.3 L203.1,322.5 L201.3,322.5 L201.3,322.6 L199.6,322.6 L199.6,322.8 L197.9,322.8 L197.9,322.9 L196.1,322.9 L196.1,323.1 L194.4,323.1 L194.4,323.3 L192.7,323.3 L192.7,323.5 L190.9,323.5 L190.9,323.6 L189.2,323.6 L189.2,323.8 L187.5,323.8 L187.5,324.0 L185.8,324.0 L185.8,324.1 L184.0,324.1 L184.0,324.3 L182.3,324.3 L182.3,324.5 L180.6,324.5 L180.6,324.7 L178.8,324.7 L178.8,324.9 L177.1,324.9 L177.1,325.1 L175.4,325.1 L175.4,325.3 L173.7,325.3 L173.7,325.5 L171.9,325.5 L171.9,325.7 L170.2,325.7 L170.2,325.9 L168.5,325.9 L168.5,326.1 L166.7,326.1 L166.7,326.3 L165.0,326.3 L128.5,326.3Z" fill="#3aad48" opacity="0.22"/>
<path d="M106.9,326.3 L108.5,326.3 L108.5,323.6 L110.0,323.6 L110.0,321.0 L111.7,321.0 L111.7,319.6 L113.5,319.6 L113.5,318.2 L115.2,318.2 L115.2,316.9 L116.9,316.9 L116.9,315.5 L118.5,315.5 L118.5,315.1 L120.2,315.1 L120.2,314.8 L121.8,314.8 L121.8,314.4 L123.5,314.4 L123.5,314.0 L125.1,314.0 L125.1,313.6 L126.7,313.6 L126.7,313.2 L128.4,313.2 L128.4,312.9 L130.0,312.9 L130.0,312.5 L131.7,312.5 L131.7,312.3 L133.4,312.3 L133.4,312.0 L135.0,312.0 L135.0,311.8 L136.7,311.8 L136.7,311.6 L138.4,311.6 L138.4,311.4 L140.1,311.4 L140.1,311.1 L141.8,311.1 L141.8,310.9 L143.5,310.9 L143.5,310.7 L145.1,310.7 L145.1,310.5 L146.8,310.5 L146.8,310.2 L148.5,310.2 L148.5,310.0 L150.2,310.0 L150.2,309.8 L151.8,309.8 L151.8,309.6 L153.4,309.6 L153.4,309.4 L155.1,309.4 L155.1,309.2 L156.8,309.2 L156.8,308.9 L158.4,308.9 L158.4,308.7 L160.1,308.7 L160.1,308.5 L161.7,308.5 L161.7,308.3 L163.3,308.3 L163.3,308.1 L165.0,308.1 L165.0,307.9 L166.7,307.9 L166.7,307.6 L168.5,307.6 L168.5,307.3 L170.2,307.3 L170.2,307.0 L171.9,307.0 L171.9,306.7 L173.7,306.7 L173.7,306.4 L175.4,306.4 L175.4,306.1 L177.1,306.1 L177.1,305.8 L178.8,305.8 L178.8,305.5 L180.6,305.5 L180.6,305.2 L182.3,305.2 L182.3,304.9 L184.0,304.9 L184.0,304.5 L185.8,304.5 L185.8,304.2 L187.5,304.2 L187.5,303.9 L189.2,303.9 L189.2,303.6 L190.9,303.6 L190.9,303.3 L192.7,303.3 L192.7,303.0 L194.4,303.0 L194.4,302.7 L196.1,302.7 L196.1,302.4 L197.9,302.4 L197.9,302.1 L199.6,302.1 L199.6,301.8 L201.3,301.8 L201.3,301.5 L203.1,301.5 L203.1,301.2 L204.8,301.2 L204.8,300.9 L206.5,300.9 L206.5,300.7 L208.3,300.7 L208.3,300.4 L210.0,300.4 L210.0,300.1 L211.7,300.1 L211.7,299.8 L213.5,299.8 L213.5,299.5 L215.2,299.5 L215.2,299.2 L216.9,299.2 L216.9,298.9 L218.7,298.9 L218.7,298.6 L220.4,298.6 L220.4,298.4 L222.1,298.4 L222.1,298.1 L223.9,298.1 L223.9,297.8 L225.6,297.8 L225.6,297.5 L227.3,297.5 L227.3,297.0 L229.0,297.0 L229.0,296.5 L230.7,296.5 L230.7,296.0 L232.4,296.0 L232.4,295.5 L234.1,295.5 L234.1,295.0 L235.8,295.0 L235.8,294.5 L237.5,294.5 L237.5,294.0 L239.2,294.0 L239.2,293.5 L240.9,293.5 L240.9,293.0 L242.6,293.0 L242.6,292.5 L244.3,292.5 L244.3,292.0 L244.3,302.7 L244.3,303.1 L242.6,303.1 L242.6,303.5 L240.9,303.5 L240.9,303.9 L239.2,303.9 L239.2,304.3 L237.5,304.3 L237.5,304.7 L235.8,304.7 L235.8,305.0 L234.1,305.0 L234.1,305.4 L232.4,305.4 L232.4,305.8 L230.7,305.8 L230.7,306.2 L229.0,306.2 L229.0,306.6 L227.3,306.6 L227.3,307.0 L225.6,307.0 L225.6,307.2 L223.9,307.2 L223.9,307.5 L222.1,307.5 L222.1,307.7 L220.4,307.7 L220.4,307.9 L218.7,307.9 L218.7,308.2 L216.9,308.2 L216.9,308.4 L215.2,308.4 L215.2,308.6 L213.5,308.6 L213.5,308.9 L211.7,308.9 L211.7,309.1 L210.0,309.1 L210.0,309.3 L208.3,309.3 L208.3,309.6 L206.5,309.6 L206.5,309.8 L204.8,309.8 L204.8,310.0 L203.1,310.0 L203.1,310.3 L201.3,310.3 L201.3,310.5 L199.6,310.5 L199.6,310.7 L197.9,310.7 L197.9,310.9 L196.1,310.9 L196.1,311.1 L194.4,311.1 L194.4,311.4 L192.7,311.4 L192.7,311.6 L190.9,311.6 L190.9,311.8 L189.2,311.8 L189.2,312.0 L187.5,312.0 L187.5,312.2 L185.8,312.2 L185.8,312.4 L184.0,312.4 L184.0,312.6 L182.3,312.6 L182.3,312.9 L180.6,312.9 L180.6,313.1 L178.8,313.1 L178.8,313.3 L177.1,313.3 L177.1,313.5 L175.4,313.5 L175.4,313.7 L173.7,313.7 L173.7,313.9 L171.9,313.9 L171.9,314.2 L170.2,314.2 L170.2,314.4 L168.5,314.4 L168.5,314.6 L166.7,314.6 L166.7,314.8 L165.0,314.8 L165.0,315.1 L163.3,315.1 L163.3,315.4 L161.7,315.4 L161.7,315.8 L160.1,315.8 L160.1,316.1 L158.4,316.1 L158.4,316.4 L156.8,316.4 L156.8,316.7 L155.1,316.7 L155.1,317.0 L153.4,317.0 L153.4,317.4 L151.8,317.4 L151.8,317.7 L150.2,317.7 L150.2,318.0 L148.5,318.0 L148.5,318.3 L146.8,318.3 L146.8,318.5 L145.1,318.5 L145.1,318.8 L143.5,318.8 L143.5,319.1 L141.8,319.1 L141.8,319.4 L140.1,319.4 L140.1,319.6 L138.4,319.6 L138.4,319.9 L136.7,319.9 L136.7,320.2 L135.0,320.2 L135.0,320.5 L133.4,320.5 L133.4,320.7 L131.7,320.7 L131.7,321.0 L130.0,321.0 L130.0,321.4 L128.4,321.4 L128.4,321.8 L126.7,321.8 L126.7,322.1 L125.1,322.1 L125.1,322.5 L123.5,322.5 L123.5,322.9 L121.8,322.9 L121.8,323.2 L120.2,323.2 L120.2,323.6 L118.5,323.6 L118.5,324.0 L116.9,324.0 L116.9,324.4 L115.2,324.4 L115.2,324.8 L113.6,324.8 L113.6,325.1 L111.9,325.1 L111.9,325.5 L110.2,325.5 L110.2,325.9 L108.6,325.9 L108.6,326.3 L106.9,326.3Z" fill="#1f4f8a" opacity="0.22"/>
<path d="M90.0,326.3 L90.0,324.9 L94.6,324.9 L94.6,323.1 L101.5,323.1 L101.5,319.2 L115.4,319.2 L115.4,316.9 L116.9,316.9 L116.9,316.6 L118.5,316.6 L118.5,316.3 L120.0,316.3 L120.0,316.0 L121.6,316.0 L121.6,315.7 L123.1,315.7 L123.1,315.4 L124.8,315.4 L124.8,315.0 L126.5,315.0 L126.5,314.6 L128.1,314.6 L128.1,314.3 L129.8,314.3 L129.8,313.9 L131.5,313.9 L131.5,313.5 L133.2,313.5 L133.2,313.3 L134.8,313.3 L134.8,313.1 L136.5,313.1 L136.5,312.9 L138.2,312.9 L138.2,312.7 L139.8,312.7 L139.8,312.5 L141.5,312.5 L141.5,312.3 L141.5,310.0 L143.2,310.0 L143.2,309.8 L144.8,309.8 L144.8,309.5 L146.5,309.5 L146.5,309.2 L148.2,309.2 L148.2,309.0 L149.8,309.0 L149.8,308.8 L151.5,308.8 L151.5,308.5 L153.1,308.5 L153.1,307.9 L154.6,307.9 L154.6,307.4 L156.1,307.4 L156.1,306.8 L157.7,306.8 L157.7,306.2 L165.0,306.2 L166.3,306.2 L166.3,304.9 L167.6,304.9 L167.6,303.6 L169.3,303.6 L169.3,295.8 L171.1,295.8 L171.1,290.6 L172.6,290.6 L172.6,290.2 L174.2,290.2 L174.2,289.9 L175.7,289.9 L175.7,289.5 L177.3,289.5 L177.3,289.2 L178.8,289.2 L178.8,288.8 L180.3,288.8 L180.3,288.4 L181.9,288.4 L181.9,288.0 L183.4,288.0 L183.4,287.5 L184.9,287.5 L184.9,287.1 L185.8,287.1 L185.8,285.0 L187.5,285.0 L187.5,284.3 L189.3,284.3 L189.3,283.5 L191.0,283.5 L191.0,282.8 L192.4,282.8 L192.4,281.6 L193.9,281.6 L193.9,280.5 L195.3,280.5 L195.3,279.3 L196.2,279.3 L196.2,276.7 L197.4,276.7 L197.4,276.0 L198.7,276.0 L198.7,275.3 L200.2,275.3 L200.2,275.0 L201.8,275.0 L201.8,274.7 L203.3,274.7 L203.3,274.4 L204.8,274.4 L204.8,274.1 L206.5,274.1 L206.5,273.6 L208.2,273.6 L208.2,273.0 L210.0,273.0 L210.0,272.4 L211.7,272.4 L211.7,271.9 L213.4,271.9 L213.4,271.6 L215.2,271.6 L215.2,271.3 L216.9,271.3 L216.9,271.0 L218.7,271.0 L218.7,270.7 L220.4,270.7 L220.4,269.5 L222.1,269.5 L222.1,269.0 L223.9,269.0 L223.9,268.6 L225.6,268.6 L225.6,268.1 L227.3,268.1 L227.3,267.6 L229.1,267.6 L229.1,267.2 L230.8,267.2 L230.8,266.7 L232.5,266.7 L232.5,266.1 L234.2,266.1 L234.2,265.5 L235.1,265.5 L235.1,262.0 L236.5,262.0 L236.5,260.9 L238.0,260.9 L238.0,259.7 L239.4,259.7 L239.4,258.6 L241.0,258.6 L241.0,257.1 L242.7,257.1 L242.7,255.7 L244.3,255.7 L244.3,254.2" fill="none" stroke="#c8243c" stroke-width="1.6" stroke-linejoin="miter"/>
<path d="M54.5,326.3 L128.5,326.3 L128.5,324.9 L140.0,324.9 L140.0,323.8 L155.4,323.8 L155.4,322.6 L157.0,322.6 L157.0,322.5 L158.6,322.5 L158.6,322.3 L160.2,322.3 L160.2,322.1 L161.8,322.1 L161.8,322.0 L163.4,322.0 L163.4,321.9 L165.0,321.9 L165.0,321.7 L183.2,321.7 L183.2,319.7 L184.8,319.7 L184.8,319.4 L186.3,319.4 L186.3,319.1 L187.9,319.1 L187.9,318.9 L189.4,318.9 L189.4,318.6 L191.0,318.6 L191.0,318.3 L192.7,318.3 L192.7,317.9 L194.4,317.9 L194.4,317.6 L196.2,317.6 L196.2,317.2 L197.9,317.2 L197.9,316.9 L199.6,316.9 L199.6,316.5 L201.3,316.5 L201.3,316.3 L203.1,316.3 L203.1,316.1 L204.8,316.1 L204.8,315.9 L206.5,315.9 L206.5,315.7 L208.2,315.7 L208.2,315.5 L210.0,315.5 L210.0,315.3 L211.7,315.3 L211.7,315.1 L213.4,315.1 L213.4,314.9 L215.2,314.9 L215.2,314.8 L216.9,314.8 L216.9,314.6 L218.6,314.6 L218.6,314.4 L220.3,314.4 L220.3,314.2 L222.1,314.2 L222.1,314.1 L223.8,314.1 L223.8,313.9 L225.5,313.9 L225.5,313.7 L227.3,313.7 L227.3,313.5 L229.0,313.5 L229.0,313.3 L230.7,313.3 L230.7,313.1 L232.5,313.1 L232.5,312.9 L234.2,312.9 L234.2,312.7 L235.9,312.7 L235.9,311.7 L237.7,311.7 L237.7,310.7 L239.4,310.7 L239.4,309.7 L241.2,309.7 L241.2,308.7 L242.8,308.7 L242.8,308.3 L244.3,308.3 L244.3,307.9" fill="none" stroke="#3aad48" stroke-width="1.6" stroke-linejoin="miter"/>
<path d="M106.9,326.3 L108.5,326.3 L108.5,324.3 L110.0,324.3 L110.0,323.6 L111.5,323.6 L111.5,323.0 L113.0,323.0 L113.0,322.3 L114.3,322.3 L114.3,321.4 L115.6,321.4 L115.6,320.6 L116.9,320.6 L116.9,319.7 L118.2,319.7 L118.2,319.0 L119.5,319.0 L119.5,318.4 L120.8,318.4 L120.8,317.7 L122.3,317.7 L122.3,317.4 L123.9,317.4 L123.9,317.2 L125.4,317.2 L125.4,316.9 L126.9,316.9 L126.9,316.7 L128.5,316.7 L128.5,316.4 L130.0,316.4 L130.0,316.2 L131.5,316.2 L131.5,316.0 L133.1,316.0 L133.1,315.9 L134.6,315.9 L134.6,315.7 L136.2,315.7 L136.2,315.6 L137.7,315.6 L137.7,315.4 L139.3,315.4 L139.3,315.3 L140.8,315.3 L140.8,315.1 L142.3,315.1 L142.3,314.8 L143.9,314.8 L143.9,314.5 L145.4,314.5 L145.4,314.1 L147.0,314.1 L147.0,313.8 L148.5,313.8 L148.5,313.5 L150.0,313.5 L150.0,313.2 L151.6,313.2 L151.6,312.8 L153.1,312.8 L153.1,312.5 L154.6,312.5 L154.6,312.2 L156.2,312.2 L156.2,311.8 L157.7,311.8 L157.7,311.5 L159.2,311.5 L159.2,311.5 L160.6,311.5 L160.6,311.4 L162.1,311.4 L162.1,311.4 L163.5,311.4 L163.5,311.3 L165.0,311.3 L165.0,311.3 L166.7,311.3 L166.7,311.0 L168.5,311.0 L168.5,310.6 L170.2,310.6 L170.2,310.3 L171.9,310.3 L171.9,310.0 L173.7,310.0 L173.7,309.6 L175.4,309.6 L175.4,309.3 L177.1,309.3 L177.1,309.1 L178.9,309.1 L178.9,308.8 L180.6,308.8 L180.6,308.6 L182.3,308.6 L182.3,308.4 L184.1,308.4 L184.1,308.1 L185.8,308.1 L185.8,307.9 L187.5,307.9 L187.5,307.6 L189.3,307.6 L189.3,307.3 L191.0,307.3 L191.0,307.0 L192.7,307.0 L192.7,306.8 L194.5,306.8 L194.5,306.5 L196.2,306.5 L196.2,306.2 L197.9,306.2 L197.9,306.0 L199.7,306.0 L199.7,305.8 L201.4,305.8 L201.4,305.6 L203.1,305.6 L203.1,305.4 L204.8,305.4 L204.8,305.2 L206.6,305.2 L206.6,305.0 L208.3,305.0 L208.3,304.8 L210.0,304.8 L210.0,304.6 L211.8,304.6 L211.8,304.5 L213.5,304.5 L213.5,304.3 L215.2,304.3 L215.2,304.1 L216.9,304.1 L216.9,303.9 L218.7,303.9 L218.7,303.8 L220.4,303.8 L220.4,303.6 L222.1,303.6 L222.1,302.8 L223.9,302.8 L223.9,302.1 L225.6,302.1 L225.6,301.3 L227.3,301.3 L227.3,301.2 L229.0,301.2 L229.0,301.0 L230.8,301.0 L230.8,300.9 L232.5,300.9 L232.5,300.7 L234.2,300.7 L234.2,300.6 L235.9,300.6 L235.9,299.5 L237.7,299.5 L237.7,298.4 L239.3,298.4 L239.3,298.1 L241.0,298.1 L241.0,297.8 L242.7,297.8 L242.7,297.5 L244.3,297.5 L244.3,297.2" fill="none" stroke="#1f4f8a" stroke-width="1.6" stroke-linejoin="miter"/>
<text x="53.8" y="221.3" font-size="7" text-anchor="start" fill="#222" font-weight="normal" stroke="#222" stroke-width="0.12" >rATG post<tspan dx="0.8">–</tspan><tspan dx="0.8">HCT</tspan></text>
<line x1="61.2" y1="226.8" x2="70.0" y2="226.8" stroke="#c8243c" stroke-width="1.6"/>
<text x="73.8" y="228.9" font-size="7" text-anchor="start" fill="#222" font-weight="normal" stroke="#222" stroke-width="0.12" >&lt;30</text>
<line x1="61.2" y1="233.8" x2="70.0" y2="233.8" stroke="#1f4f8a" stroke-width="1.6"/>
<text x="73.8" y="235.9" font-size="7" text-anchor="start" fill="#222" font-weight="normal" stroke="#222" stroke-width="0.12" >30<tspan dx="0.6">–</tspan><tspan dx="0.6">55</tspan></text>
<line x1="61.2" y1="240.8" x2="70.0" y2="240.8" stroke="#3aad48" stroke-width="1.6"/>
<text x="73.8" y="242.9" font-size="7" text-anchor="start" fill="#222" font-weight="normal" stroke="#222" stroke-width="0.12" >≥55</text>
<text x="43.8" y="365.0" font-size="7.3" text-anchor="end" fill="#222" font-weight="normal" stroke="#222" stroke-width="0.12" >At–risk</text>
<text x="43.8" y="372.6" font-size="7.3" text-anchor="end" fill="#222" font-weight="normal" stroke="#222" stroke-width="0.12" >&lt;30</text>
<text x="54.5" y="372.6" font-size="7.3" text-anchor="middle" fill="#c8243c" font-weight="normal" stroke="#c8243c" stroke-width="0.12" >58</text>
<text x="102.0" y="372.6" font-size="7.3" text-anchor="middle" fill="#c8243c" font-weight="normal" stroke="#c8243c" stroke-width="0.12" >55</text>
<text x="149.6" y="372.6" font-size="7.3" text-anchor="middle" fill="#c8243c" font-weight="normal" stroke="#c8243c" stroke-width="0.12" >47</text>
<text x="197.1" y="372.6" font-size="7.3" text-anchor="middle" fill="#c8243c" font-weight="normal" stroke="#c8243c" stroke-width="0.12" >30</text>
<text x="244.7" y="372.6" font-size="7.3" text-anchor="middle" fill="#c8243c" font-weight="normal" stroke="#c8243c" stroke-width="0.12" >18</text>
<text x="43.8" y="380.1" font-size="7.3" text-anchor="end" fill="#222" font-weight="normal" stroke="#222" stroke-width="0.12" >30<tspan dx="0.6">–</tspan><tspan dx="0.6">55</tspan></text>
<text x="54.5" y="380.1" font-size="7.3" text-anchor="middle" fill="#1f4f8a" font-weight="normal" stroke="#1f4f8a" stroke-width="0.12" >258</text>
<text x="102.0" y="380.1" font-size="7.3" text-anchor="middle" fill="#1f4f8a" font-weight="normal" stroke="#1f4f8a" stroke-width="0.12" >254</text>
<text x="149.6" y="380.1" font-size="7.3" text-anchor="middle" fill="#1f4f8a" font-weight="normal" stroke="#1f4f8a" stroke-width="0.12" >219</text>
<text x="197.1" y="380.1" font-size="7.3" text-anchor="middle" fill="#1f4f8a" font-weight="normal" stroke="#1f4f8a" stroke-width="0.12" >193</text>
<text x="244.7" y="380.1" font-size="7.3" text-anchor="middle" fill="#1f4f8a" font-weight="normal" stroke="#1f4f8a" stroke-width="0.12" >167</text>
<text x="43.8" y="387.6" font-size="7.3" text-anchor="end" fill="#222" font-weight="normal" stroke="#222" stroke-width="0.12" >≥55</text>
<text x="54.5" y="387.6" font-size="7.3" text-anchor="middle" fill="#3aad48" font-weight="normal" stroke="#3aad48" stroke-width="0.12" >78</text>
<text x="102.0" y="387.6" font-size="7.3" text-anchor="middle" fill="#3aad48" font-weight="normal" stroke="#3aad48" stroke-width="0.12" >78</text>
<text x="149.6" y="387.6" font-size="7.3" text-anchor="middle" fill="#3aad48" font-weight="normal" stroke="#3aad48" stroke-width="0.12" >71</text>
<text x="197.1" y="387.6" font-size="7.3" text-anchor="middle" fill="#3aad48" font-weight="normal" stroke="#3aad48" stroke-width="0.12" >66</text>
<text x="244.7" y="387.6" font-size="7.3" text-anchor="middle" fill="#3aad48" font-weight="normal" stroke="#3aad48" stroke-width="0.12" >55</text>
<rect x="306.4" y="209.7" width="206.9" height="127.4" fill="none" stroke="#2a2a2a" stroke-width="1.3"/>
<line x1="303.1" y1="332.9" x2="306.4" y2="332.9" stroke="#2a2a2a" stroke-width="1.1"/>
<text x="301.8" y="335.5" font-size="7.7" text-anchor="end" fill="#222" font-weight="normal" stroke="#222" stroke-width="0.12" >0%</text>
<line x1="303.1" y1="303.4" x2="306.4" y2="303.4" stroke="#2a2a2a" stroke-width="1.1"/>
<text x="301.8" y="306.0" font-size="7.7" text-anchor="end" fill="#222" font-weight="normal" stroke="#222" stroke-width="0.12" >25%</text>
<line x1="303.1" y1="273.9" x2="306.4" y2="273.9" stroke="#2a2a2a" stroke-width="1.1"/>
<text x="301.8" y="276.5" font-size="7.7" text-anchor="end" fill="#222" font-weight="normal" stroke="#222" stroke-width="0.12" >50%</text>
<line x1="303.1" y1="244.4" x2="306.4" y2="244.4" stroke="#2a2a2a" stroke-width="1.1"/>
<text x="301.8" y="247.0" font-size="7.7" text-anchor="end" fill="#222" font-weight="normal" stroke="#222" stroke-width="0.12" >75%</text>
<line x1="303.1" y1="214.9" x2="306.4" y2="214.9" stroke="#2a2a2a" stroke-width="1.1"/>
<text x="301.8" y="217.5" font-size="7.7" text-anchor="end" fill="#222" font-weight="normal" stroke="#222" stroke-width="0.12" >100%</text>
<line x1="314.0" y1="337.1" x2="314.0" y2="340.1" stroke="#2a2a2a" stroke-width="1.1"/>
<text x="314.0" y="349.4" font-size="8.0" text-anchor="middle" fill="#222" font-weight="normal" stroke="#222" stroke-width="0.12" >0</text>
<line x1="352.3" y1="337.1" x2="352.3" y2="340.1" stroke="#2a2a2a" stroke-width="1.1"/>
<text x="352.3" y="349.4" font-size="8.0" text-anchor="middle" fill="#222" font-weight="normal" stroke="#222" stroke-width="0.12" >1</text>
<line x1="390.6" y1="337.1" x2="390.6" y2="340.1" stroke="#2a2a2a" stroke-width="1.1"/>
<text x="390.6" y="349.4" font-size="8.0" text-anchor="middle" fill="#222" font-weight="normal" stroke="#222" stroke-width="0.12" >2</text>
<line x1="428.9" y1="337.1" x2="428.9" y2="340.1" stroke="#2a2a2a" stroke-width="1.1"/>
<text x="428.9" y="349.4" font-size="8.0" text-anchor="middle" fill="#222" font-weight="normal" stroke="#222" stroke-width="0.12" >3</text>
<line x1="467.2" y1="337.1" x2="467.2" y2="340.1" stroke="#2a2a2a" stroke-width="1.1"/>
<text x="467.2" y="349.4" font-size="8.0" text-anchor="middle" fill="#222" font-weight="normal" stroke="#222" stroke-width="0.12" >4</text>
<line x1="505.5" y1="337.1" x2="505.5" y2="340.1" stroke="#2a2a2a" stroke-width="1.1"/>
<text x="505.5" y="349.4" font-size="8.0" text-anchor="middle" fill="#222" font-weight="normal" stroke="#222" stroke-width="0.12" >5</text>
<text transform="translate(409.9,360.1) scale(0.74,1)" font-size="8.6" text-anchor="middle" fill="#222" stroke="#222" stroke-width="0.2">Time from 100 days post–HCT (years)</text>
<text transform="translate(276.1,273.8) rotate(-90) scale(0.74,1)" font-size="8.6" text-anchor="middle" fill="#222" stroke="#222" stroke-width="0.2">Non–relapse mortality</text>
<text x="270.6" y="210.3" font-size="10.8" text-anchor="start" fill="#111" font-weight="bold" >D</text>
<path d="M313.9,332.8 L315.4,332.8 L315.4,330.6 L316.9,330.6 L316.9,328.4 L318.3,328.4 L318.3,326.2 L319.8,326.2 L319.8,324.0 L321.4,324.0 L321.4,322.3 L322.9,322.3 L322.9,320.6 L324.5,320.6 L324.5,318.9 L326.0,318.9 L326.0,317.2 L327.6,317.2 L327.6,315.5 L329.3,315.5 L329.3,314.5 L331.0,314.5 L331.0,313.4 L332.7,313.4 L332.7,312.4 L334.3,312.4 L334.3,311.4 L336.0,311.4 L336.0,310.4 L337.7,310.4 L337.7,309.3 L339.4,309.3 L339.4,308.3 L341.1,308.3 L341.1,307.5 L342.8,307.5 L342.8,306.6 L344.5,306.6 L344.5,305.8 L346.1,305.8 L346.1,304.9 L347.8,304.9 L347.8,304.1 L349.5,304.1 L349.5,303.2 L351.2,303.2 L351.2,302.4 L352.9,302.4 L352.9,301.4 L354.5,301.4 L354.5,300.4 L356.2,300.4 L356.2,299.4 L357.9,299.4 L357.9,298.5 L359.6,298.5 L359.6,297.5 L361.2,297.5 L361.2,296.5 L362.9,296.5 L362.9,295.5 L364.6,295.5 L364.6,294.9 L366.3,294.9 L366.3,294.4 L368.0,294.4 L368.0,293.8 L369.6,293.8 L369.6,293.3 L371.3,293.3 L371.3,292.7 L373.0,292.7 L373.0,292.2 L374.7,292.2 L374.7,291.6 L376.4,291.6 L376.4,291.4 L378.2,291.4 L378.2,291.2 L379.9,291.2 L379.9,290.9 L381.7,290.9 L381.7,290.7 L383.4,290.7 L383.4,290.5 L385.2,290.5 L385.2,290.3 L386.9,290.3 L386.9,290.0 L388.7,290.0 L388.7,289.8 L390.4,289.8 L390.4,289.6 L392.2,289.6 L392.2,289.5 L394.0,289.5 L394.0,289.3 L395.7,289.3 L395.7,289.2 L397.5,289.2 L397.5,289.1 L399.3,289.1 L399.3,289.0 L401.1,289.0 L401.1,288.8 L402.9,288.8 L402.9,288.7 L404.7,288.7 L404.7,288.6 L406.4,288.6 L406.4,288.5 L408.2,288.5 L408.2,288.3 L410.0,288.3 L410.0,288.2 L411.7,288.2 L411.7,288.0 L413.5,288.0 L413.5,287.7 L415.2,287.7 L415.2,287.5 L416.9,287.5 L416.9,287.3 L418.7,287.3 L418.7,287.0 L420.4,287.0 L420.4,286.8 L422.1,286.8 L422.1,286.6 L423.8,286.6 L423.8,286.4 L425.6,286.4 L425.6,286.1 L427.3,286.1 L427.3,285.9 L429.0,285.9 L429.0,285.7 L430.8,285.7 L430.8,285.4 L432.5,285.4 L432.5,285.2 L505.5,285.2 L505.5,300.0 L432.5,300.0 L432.5,300.1 L430.8,300.1 L430.8,300.2 L429.0,300.2 L429.0,300.3 L427.3,300.3 L427.3,300.4 L425.6,300.4 L425.6,300.5 L423.8,300.5 L423.8,300.6 L422.1,300.6 L422.1,300.8 L420.4,300.8 L420.4,300.9 L418.7,300.9 L418.7,301.0 L416.9,301.0 L416.9,301.1 L415.2,301.1 L415.2,301.2 L413.5,301.2 L413.5,301.3 L411.7,301.3 L411.7,301.4 L410.0,301.4 L410.0,301.5 L408.2,301.5 L408.2,301.6 L406.4,301.6 L406.4,301.7 L404.7,301.7 L404.7,301.8 L402.9,301.8 L402.9,301.9 L401.1,301.9 L401.1,301.9 L399.3,301.9 L399.3,302.0 L397.5,302.0 L397.5,302.1 L395.7,302.1 L395.7,302.2 L394.0,302.2 L394.0,302.3 L392.2,302.3 L392.2,302.4 L390.4,302.4 L390.4,302.6 L388.7,302.6 L388.7,302.8 L386.9,302.8 L386.9,303.0 L385.2,303.0 L385.2,303.2 L383.4,303.2 L383.4,303.5 L381.7,303.5 L381.7,303.7 L379.9,303.7 L379.9,303.9 L378.2,303.9 L378.2,304.1 L376.4,304.1 L376.4,304.3 L374.7,304.3 L374.7,304.9 L373.0,304.9 L373.0,305.4 L371.3,305.4 L371.3,306.0 L369.6,306.0 L369.6,306.6 L368.0,306.6 L368.0,307.2 L366.3,307.2 L366.3,307.7 L364.6,307.7 L364.6,308.3 L362.9,308.3 L362.9,309.0 L361.2,309.0 L361.2,309.7 L359.6,309.7 L359.6,310.4 L357.9,310.4 L357.9,311.1 L356.2,311.1 L356.2,311.8 L354.5,311.8 L354.5,312.5 L352.9,312.5 L352.9,313.2 L351.2,313.2 L351.2,314.0 L349.5,314.0 L349.5,314.7 L347.8,314.7 L347.8,315.5 L346.1,315.5 L346.1,316.3 L344.5,316.3 L344.5,317.1 L342.8,317.1 L342.8,317.8 L341.1,317.8 L341.1,318.6 L339.4,318.6 L339.4,319.3 L337.7,319.3 L337.7,320.0 L336.0,320.0 L336.0,320.7 L334.3,320.7 L334.3,321.3 L332.7,321.3 L332.7,322.0 L331.0,322.0 L331.0,322.7 L329.3,322.7 L329.3,323.4 L327.6,323.4 L327.6,325.2 L326.0,325.2 L326.0,327.0 L324.5,327.0 L324.5,328.8 L322.9,328.8 L322.9,330.6 L321.4,330.6 L321.4,332.4 L319.8,332.4 L319.8,332.5 L318.3,332.5 L318.3,332.6 L316.9,332.6 L316.9,332.7 L315.4,332.7 L315.4,332.8 L313.9,332.8Z" fill="#c8243c" opacity="0.22"/>
<path d="M331.5,332.8 L333.2,332.8 L333.2,332.3 L334.9,332.3 L334.9,331.9 L336.6,331.9 L336.6,331.4 L338.3,331.4 L338.3,331.0 L340.0,331.0 L340.0,330.5 L341.7,330.5 L341.7,330.2 L343.4,330.2 L343.4,329.8 L345.0,329.8 L345.0,329.5 L346.7,329.5 L346.7,329.2 L348.4,329.2 L348.4,328.8 L350.1,328.8 L350.1,328.5 L351.7,328.5 L351.7,328.2 L353.4,328.2 L353.4,327.8 L355.1,327.8 L355.1,327.5 L356.6,327.5 L356.6,326.9 L358.1,326.9 L358.1,326.2 L359.5,326.2 L359.5,325.5 L361.0,325.5 L361.0,324.9 L362.8,324.9 L362.8,324.9 L364.5,324.9 L364.5,324.9 L366.3,324.9 L366.3,324.9 L368.1,324.9 L368.1,324.9 L369.9,324.9 L369.9,324.8 L371.6,324.8 L371.6,324.8 L373.4,324.8 L373.4,324.8 L375.2,324.8 L375.2,324.8 L376.9,324.8 L376.9,324.8 L378.7,324.8 L378.7,324.8 L380.5,324.8 L380.5,324.8 L382.3,324.8 L382.3,324.8 L384.0,324.8 L384.0,324.8 L385.8,324.8 L385.8,324.7 L387.6,324.7 L387.6,324.7 L389.3,324.7 L389.3,324.7 L391.1,324.7 L391.1,324.7 L392.9,324.7 L392.9,324.7 L394.7,324.7 L394.7,324.7 L396.4,324.7 L396.4,324.7 L398.2,324.7 L398.2,324.7 L400.0,324.7 L400.0,324.6 L401.7,324.6 L401.7,324.6 L403.5,324.6 L403.5,324.6 L405.3,324.6 L405.3,324.6 L407.1,324.6 L407.1,324.6 L408.8,324.6 L408.8,324.6 L410.6,324.6 L410.6,324.6 L412.4,324.6 L412.4,324.6 L414.1,324.6 L414.1,324.6 L415.9,324.6 L415.9,324.5 L417.7,324.5 L417.7,324.5 L419.5,324.5 L419.5,324.5 L421.2,324.5 L421.2,324.5 L423.0,324.5 L423.0,324.5 L423.0,321.8 L505.5,321.8 L505.5,331.3 L361.0,331.3 L361.0,331.4 L359.3,331.4 L359.3,331.5 L357.5,331.5 L357.5,331.6 L355.8,331.6 L355.8,331.7 L354.1,331.7 L354.1,331.7 L352.3,331.7 L352.3,331.8 L350.6,331.8 L350.6,331.9 L348.9,331.9 L348.9,332.0 L347.1,332.0 L347.1,332.1 L345.4,332.1 L345.4,332.2 L343.6,332.2 L343.6,332.3 L341.9,332.3 L341.9,332.4 L340.2,332.4 L340.2,332.4 L338.4,332.4 L338.4,332.5 L336.7,332.5 L336.7,332.6 L335.0,332.6 L335.0,332.7 L333.2,332.7 L333.2,332.8 L331.5,332.8Z" fill="#1f4f8a" opacity="0.22"/>
<path d="M313.9,332.8 L315.4,332.8 L315.4,331.6 L316.9,331.6 L316.9,330.4 L318.3,330.4 L318.3,329.1 L319.8,329.1 L319.8,327.9 L321.1,327.9 L321.1,326.3 L322.4,326.3 L322.4,324.6 L323.7,324.6 L323.7,323.0 L325.0,323.0 L325.0,321.7 L326.3,321.7 L326.3,320.3 L327.6,320.3 L327.6,319.0 L328.9,319.0 L328.9,318.4 L330.2,318.4 L330.2,317.7 L331.5,317.7 L331.5,317.1 L332.8,317.1 L332.8,316.6 L334.2,316.6 L334.2,316.0 L335.5,316.0 L335.5,315.5 L336.8,315.5 L336.8,314.8 L338.1,314.8 L338.1,314.2 L339.4,314.2 L339.4,313.5 L341.0,313.5 L341.0,312.7 L342.7,312.7 L342.7,312.0 L344.3,312.0 L344.3,311.2 L345.9,311.2 L345.9,310.4 L347.6,310.4 L347.6,309.6 L349.2,309.6 L349.2,308.8 L350.7,308.8 L350.7,308.2 L352.1,308.2 L352.1,307.6 L353.6,307.6 L353.6,306.9 L355.1,306.9 L355.1,306.3 L356.6,306.3 L356.6,305.6 L358.1,305.6 L358.1,305.0 L359.5,305.0 L359.5,304.4 L361.0,304.4 L361.0,303.7 L362.4,303.7 L362.4,303.1 L363.9,303.1 L363.9,302.5 L365.4,302.5 L365.4,302.0 L366.8,302.0 L366.8,301.4 L368.3,301.4 L368.3,300.9 L369.8,300.9 L369.8,300.4 L371.2,300.4 L371.2,299.9 L372.7,299.9 L372.7,299.4 L374.3,299.4 L374.3,299.0 L375.9,299.0 L375.9,298.6 L377.4,298.6 L377.4,298.3 L379.0,298.3 L379.0,297.9 L380.6,297.9 L380.6,297.5 L382.2,297.5 L382.2,297.3 L383.9,297.3 L383.9,297.2 L385.5,297.2 L385.5,297.0 L387.1,297.0 L387.1,296.8 L388.8,296.8 L388.8,296.7 L390.4,296.7 L390.4,296.5 L392.1,296.5 L392.1,296.4 L393.8,296.4 L393.8,296.3 L395.5,296.3 L395.5,296.2 L397.1,296.2 L397.1,296.2 L398.8,296.2 L398.8,296.1 L400.5,296.1 L400.5,296.0 L402.2,296.0 L402.2,295.9 L403.8,295.9 L403.8,295.7 L405.3,295.7 L405.3,295.6 L406.9,295.6 L406.9,295.4 L408.4,295.4 L408.4,295.3 L410.0,295.3 L410.0,295.1 L411.3,295.1 L411.3,295.0 L412.9,295.0 L412.9,294.6 L414.5,294.6 L414.5,294.1 L416.1,294.1 L416.1,293.7 L417.7,293.7 L417.7,293.3 L419.3,293.3 L419.3,293.2 L421.0,293.2 L421.0,293.1 L422.6,293.1 L422.6,292.9 L424.3,292.9 L424.3,292.8 L425.9,292.8 L425.9,292.7 L427.6,292.7 L427.6,292.6 L429.2,292.6 L429.2,292.4 L430.9,292.4 L430.9,292.3 L432.5,292.3 L432.5,292.2 L505.5,292.2" fill="none" stroke="#c8243c" stroke-width="1.6" stroke-linejoin="miter"/>
<line x1="340.4" y1="310.7" x2="340.4" y2="315.3" stroke="#c8243c" stroke-width="1.1"/>
<line x1="347.2" y1="307.5" x2="347.2" y2="312.1" stroke="#c8243c" stroke-width="1.1"/>
<line x1="361.0" y1="301.4" x2="361.0" y2="306.0" stroke="#c8243c" stroke-width="1.1"/>
<line x1="370.7" y1="297.8" x2="370.7" y2="302.4" stroke="#c8243c" stroke-width="1.1"/>
<line x1="379.6" y1="295.4" x2="379.6" y2="300.0" stroke="#c8243c" stroke-width="1.1"/>
<line x1="389.4" y1="294.3" x2="389.4" y2="298.9" stroke="#c8243c" stroke-width="1.1"/>
<line x1="391.4" y1="294.1" x2="391.4" y2="298.7" stroke="#c8243c" stroke-width="1.1"/>
<line x1="392.3" y1="294.1" x2="392.3" y2="298.7" stroke="#c8243c" stroke-width="1.1"/>
<line x1="403.1" y1="293.5" x2="403.1" y2="298.1" stroke="#c8243c" stroke-width="1.1"/>
<line x1="405.1" y1="293.3" x2="405.1" y2="297.9" stroke="#c8243c" stroke-width="1.1"/>
<line x1="411.3" y1="292.7" x2="411.3" y2="297.3" stroke="#c8243c" stroke-width="1.1"/>
<line x1="418.8" y1="290.9" x2="418.8" y2="295.5" stroke="#c8243c" stroke-width="1.1"/>
<line x1="420.9" y1="290.8" x2="420.9" y2="295.4" stroke="#c8243c" stroke-width="1.1"/>
<line x1="424.0" y1="290.5" x2="424.0" y2="295.1" stroke="#c8243c" stroke-width="1.1"/>
<line x1="426.2" y1="290.4" x2="426.2" y2="295.0" stroke="#c8243c" stroke-width="1.1"/>
<line x1="427.2" y1="290.3" x2="427.2" y2="294.9" stroke="#c8243c" stroke-width="1.1"/>
<line x1="432.5" y1="289.9" x2="432.5" y2="294.5" stroke="#c8243c" stroke-width="1.1"/>
<line x1="442.0" y1="289.9" x2="442.0" y2="294.5" stroke="#c8243c" stroke-width="1.1"/>
<line x1="444.1" y1="289.9" x2="444.1" y2="294.5" stroke="#c8243c" stroke-width="1.1"/>
<line x1="447.3" y1="289.9" x2="447.3" y2="294.5" stroke="#c8243c" stroke-width="1.1"/>
<line x1="449.4" y1="289.9" x2="449.4" y2="294.5" stroke="#c8243c" stroke-width="1.1"/>
<line x1="454.7" y1="289.9" x2="454.7" y2="294.5" stroke="#c8243c" stroke-width="1.1"/>
<line x1="456.8" y1="289.9" x2="456.8" y2="294.5" stroke="#c8243c" stroke-width="1.1"/>
<line x1="461.1" y1="289.9" x2="461.1" y2="294.5" stroke="#c8243c" stroke-width="1.1"/>
<line x1="462.1" y1="289.9" x2="462.1" y2="294.5" stroke="#c8243c" stroke-width="1.1"/>
<line x1="465.3" y1="289.9" x2="465.3" y2="294.5" stroke="#c8243c" stroke-width="1.1"/>
<line x1="467.4" y1="289.9" x2="467.4" y2="294.5" stroke="#c8243c" stroke-width="1.1"/>
<line x1="476.9" y1="289.9" x2="476.9" y2="294.5" stroke="#c8243c" stroke-width="1.1"/>
<line x1="480.1" y1="289.9" x2="480.1" y2="294.5" stroke="#c8243c" stroke-width="1.1"/>
<line x1="482.2" y1="289.9" x2="482.2" y2="294.5" stroke="#c8243c" stroke-width="1.1"/>
<line x1="484.3" y1="289.9" x2="484.3" y2="294.5" stroke="#c8243c" stroke-width="1.1"/>
<line x1="486.4" y1="289.9" x2="486.4" y2="294.5" stroke="#c8243c" stroke-width="1.1"/>
<line x1="489.6" y1="289.9" x2="489.6" y2="294.5" stroke="#c8243c" stroke-width="1.1"/>
<line x1="492.8" y1="289.9" x2="492.8" y2="294.5" stroke="#c8243c" stroke-width="1.1"/>
<line x1="493.9" y1="289.9" x2="493.9" y2="294.5" stroke="#c8243c" stroke-width="1.1"/>
<line x1="498.1" y1="289.9" x2="498.1" y2="294.5" stroke="#c8243c" stroke-width="1.1"/>
<line x1="504.4" y1="289.9" x2="504.4" y2="294.5" stroke="#c8243c" stroke-width="1.1"/>
<path d="M313.9,332.8 L331.5,332.8 L333.0,332.8 L333.0,332.7 L334.4,332.7 L334.4,332.6 L335.9,332.6 L335.9,332.5 L337.4,332.5 L337.4,332.4 L339.0,332.4 L339.0,332.3 L340.6,332.3 L340.6,332.2 L342.1,332.2 L342.1,332.0 L343.7,332.0 L343.7,331.9 L345.3,331.9 L345.3,331.8 L346.6,331.8 L346.6,331.5 L347.9,331.5 L347.9,331.1 L349.2,331.1 L349.2,330.8 L350.7,330.8 L350.7,330.6 L352.1,330.6 L352.1,330.3 L353.6,330.3 L353.6,330.1 L355.1,330.1 L355.1,329.8 L356.6,329.8 L356.6,329.5 L358.1,329.5 L358.1,329.1 L359.5,329.1 L359.5,328.8 L361.0,328.8 L361.0,328.5 L362.4,328.5 L362.4,328.4 L363.9,328.4 L363.9,328.2 L365.4,328.2 L365.4,328.0 L366.8,328.0 L366.8,327.9 L423.0,327.9 L424.0,327.9 L424.0,326.5 L505.5,326.5" fill="none" stroke="#1f4f8a" stroke-width="1.6" stroke-linejoin="miter"/>
<line x1="332.5" y1="330.4" x2="332.5" y2="335.0" stroke="#1f4f8a" stroke-width="1.1"/>
<line x1="335.5" y1="330.2" x2="335.5" y2="334.8" stroke="#1f4f8a" stroke-width="1.1"/>
<line x1="338.4" y1="330.0" x2="338.4" y2="334.6" stroke="#1f4f8a" stroke-width="1.1"/>
<line x1="342.3" y1="329.7" x2="342.3" y2="334.3" stroke="#1f4f8a" stroke-width="1.1"/>
<line x1="344.3" y1="329.6" x2="344.3" y2="334.2" stroke="#1f4f8a" stroke-width="1.1"/>
<line x1="347.2" y1="329.0" x2="347.2" y2="333.6" stroke="#1f4f8a" stroke-width="1.1"/>
<line x1="352.1" y1="328.0" x2="352.1" y2="332.6" stroke="#1f4f8a" stroke-width="1.1"/>
<line x1="354.1" y1="327.7" x2="354.1" y2="332.3" stroke="#1f4f8a" stroke-width="1.1"/>
<line x1="364.9" y1="325.8" x2="364.9" y2="330.4" stroke="#1f4f8a" stroke-width="1.1"/>
<line x1="368.8" y1="325.6" x2="368.8" y2="330.2" stroke="#1f4f8a" stroke-width="1.1"/>
<line x1="369.8" y1="325.6" x2="369.8" y2="330.2" stroke="#1f4f8a" stroke-width="1.1"/>
<line x1="371.8" y1="325.6" x2="371.8" y2="330.2" stroke="#1f4f8a" stroke-width="1.1"/>
<line x1="376.7" y1="325.6" x2="376.7" y2="330.2" stroke="#1f4f8a" stroke-width="1.1"/>
<line x1="382.5" y1="325.6" x2="382.5" y2="330.2" stroke="#1f4f8a" stroke-width="1.1"/>
<line x1="385.5" y1="325.6" x2="385.5" y2="330.2" stroke="#1f4f8a" stroke-width="1.1"/>
<line x1="390.4" y1="325.6" x2="390.4" y2="330.2" stroke="#1f4f8a" stroke-width="1.1"/>
<line x1="394.3" y1="325.6" x2="394.3" y2="330.2" stroke="#1f4f8a" stroke-width="1.1"/>
<line x1="398.2" y1="325.6" x2="398.2" y2="330.2" stroke="#1f4f8a" stroke-width="1.1"/>
<line x1="401.2" y1="325.6" x2="401.2" y2="330.2" stroke="#1f4f8a" stroke-width="1.1"/>
<line x1="405.1" y1="325.6" x2="405.1" y2="330.2" stroke="#1f4f8a" stroke-width="1.1"/>
<line x1="407.1" y1="325.6" x2="407.1" y2="330.2" stroke="#1f4f8a" stroke-width="1.1"/>
<line x1="410.3" y1="325.6" x2="410.3" y2="330.2" stroke="#1f4f8a" stroke-width="1.1"/>
<line x1="415.6" y1="325.6" x2="415.6" y2="330.2" stroke="#1f4f8a" stroke-width="1.1"/>
<line x1="425.1" y1="324.2" x2="425.1" y2="328.8" stroke="#1f4f8a" stroke-width="1.1"/>
<line x1="429.3" y1="324.2" x2="429.3" y2="328.8" stroke="#1f4f8a" stroke-width="1.1"/>
<line x1="431.4" y1="324.2" x2="431.4" y2="328.8" stroke="#1f4f8a" stroke-width="1.1"/>
<line x1="434.6" y1="324.2" x2="434.6" y2="328.8" stroke="#1f4f8a" stroke-width="1.1"/>
<line x1="437.8" y1="324.2" x2="437.8" y2="328.8" stroke="#1f4f8a" stroke-width="1.1"/>
<line x1="441.0" y1="324.2" x2="441.0" y2="328.8" stroke="#1f4f8a" stroke-width="1.1"/>
<line x1="444.1" y1="324.2" x2="444.1" y2="328.8" stroke="#1f4f8a" stroke-width="1.1"/>
<line x1="456.8" y1="324.2" x2="456.8" y2="328.8" stroke="#1f4f8a" stroke-width="1.1"/>
<line x1="458.9" y1="324.2" x2="458.9" y2="328.8" stroke="#1f4f8a" stroke-width="1.1"/>
<line x1="462.1" y1="324.2" x2="462.1" y2="328.8" stroke="#1f4f8a" stroke-width="1.1"/>
<line x1="465.3" y1="324.2" x2="465.3" y2="328.8" stroke="#1f4f8a" stroke-width="1.1"/>
<line x1="468.5" y1="324.2" x2="468.5" y2="328.8" stroke="#1f4f8a" stroke-width="1.1"/>
<line x1="474.8" y1="324.2" x2="474.8" y2="328.8" stroke="#1f4f8a" stroke-width="1.1"/>
<line x1="478.0" y1="324.2" x2="478.0" y2="328.8" stroke="#1f4f8a" stroke-width="1.1"/>
<line x1="482.2" y1="324.2" x2="482.2" y2="328.8" stroke="#1f4f8a" stroke-width="1.1"/>
<line x1="486.4" y1="324.2" x2="486.4" y2="328.8" stroke="#1f4f8a" stroke-width="1.1"/>
<line x1="488.6" y1="324.2" x2="488.6" y2="328.8" stroke="#1f4f8a" stroke-width="1.1"/>
<line x1="490.7" y1="324.2" x2="490.7" y2="328.8" stroke="#1f4f8a" stroke-width="1.1"/>
<line x1="493.9" y1="324.2" x2="493.9" y2="328.8" stroke="#1f4f8a" stroke-width="1.1"/>
<line x1="496.0" y1="324.2" x2="496.0" y2="328.8" stroke="#1f4f8a" stroke-width="1.1"/>
<line x1="499.1" y1="324.2" x2="499.1" y2="328.8" stroke="#1f4f8a" stroke-width="1.1"/>
<line x1="502.3" y1="324.2" x2="502.3" y2="328.8" stroke="#1f4f8a" stroke-width="1.1"/>
<line x1="504.4" y1="324.2" x2="504.4" y2="328.8" stroke="#1f4f8a" stroke-width="1.1"/>
<text x="313.0" y="219.3" font-size="7" text-anchor="start" fill="#222" font-weight="normal" stroke="#222" stroke-width="0.12" >CD4 status at 100 days</text>
<line x1="325.0" y1="225.8" x2="333.8" y2="225.8" stroke="#c8243c" stroke-width="1.6"/>
<text x="338.0" y="227.9" font-size="7" text-anchor="start" fill="#222" font-weight="normal" stroke="#222" stroke-width="0.12" >CD4 &lt; 50</text>
<line x1="325.0" y1="233.3" x2="333.8" y2="233.3" stroke="#1f4f8a" stroke-width="1.6"/>
<text x="338.0" y="235.4" font-size="7" text-anchor="start" fill="#222" font-weight="normal" stroke="#222" stroke-width="0.12" >CD4 ≥ 50</text>
<text x="303.7" y="372.0" font-size="7.3" text-anchor="end" fill="#222" font-weight="normal" stroke="#222" stroke-width="0.12" >At–risk</text>
<text x="303.7" y="379.6" font-size="7.3" text-anchor="end" fill="#222" font-weight="normal" stroke="#222" stroke-width="0.12" >CD4 &lt; 50</text>
<text x="314.3" y="379.6" font-size="7.3" text-anchor="middle" fill="#c8243c" font-weight="normal" stroke="#c8243c" stroke-width="0.12" >239</text>
<text x="352.6" y="379.6" font-size="7.3" text-anchor="middle" fill="#c8243c" font-weight="normal" stroke="#c8243c" stroke-width="0.12" >162</text>
<text x="390.9" y="379.6" font-size="7.3" text-anchor="middle" fill="#c8243c" font-weight="normal" stroke="#c8243c" stroke-width="0.12" >109</text>
<text x="429.2" y="379.6" font-size="7.3" text-anchor="middle" fill="#c8243c" font-weight="normal" stroke="#c8243c" stroke-width="0.12" >78</text>
<text x="467.5" y="379.6" font-size="7.3" text-anchor="middle" fill="#c8243c" font-weight="normal" stroke="#c8243c" stroke-width="0.12" >51</text>
<text x="505.8" y="379.6" font-size="7.3" text-anchor="middle" fill="#c8243c" font-weight="normal" stroke="#c8243c" stroke-width="0.12" >34</text>
<text x="303.7" y="387.2" font-size="7.3" text-anchor="end" fill="#222" font-weight="normal" stroke="#222" stroke-width="0.12" >CD4 ≥ 50</text>
<text x="314.3" y="387.2" font-size="7.3" text-anchor="middle" fill="#1f4f8a" font-weight="normal" stroke="#1f4f8a" stroke-width="0.12" >120</text>
<text x="352.6" y="387.2" font-size="7.3" text-anchor="middle" fill="#1f4f8a" font-weight="normal" stroke="#1f4f8a" stroke-width="0.12" >100</text>
<text x="390.9" y="387.2" font-size="7.3" text-anchor="middle" fill="#1f4f8a" font-weight="normal" stroke="#1f4f8a" stroke-width="0.12" >74</text>
<text x="429.2" y="387.2" font-size="7.3" text-anchor="middle" fill="#1f4f8a" font-weight="normal" stroke="#1f4f8a" stroke-width="0.12" >61</text>
<text x="467.5" y="387.2" font-size="7.3" text-anchor="middle" fill="#1f4f8a" font-weight="normal" stroke="#1f4f8a" stroke-width="0.12" >49</text>
<text x="505.8" y="387.2" font-size="7.3" text-anchor="middle" fill="#1f4f8a" font-weight="normal" stroke="#1f4f8a" stroke-width="0.12" >27</text>
<rect x="47.4" y="409.7" width="206.8" height="119.3" fill="none" stroke="#2a2a2a" stroke-width="1.3"/>
<line x1="44.1" y1="524.1" x2="47.4" y2="524.1" stroke="#2a2a2a" stroke-width="1.1"/>
<text x="40.9" y="526.7" font-size="7.7" text-anchor="end" fill="#222" font-weight="normal" stroke="#222" stroke-width="0.12" >0%</text>
<line x1="44.1" y1="496.6" x2="47.4" y2="496.6" stroke="#2a2a2a" stroke-width="1.1"/>
<text x="40.9" y="499.2" font-size="7.7" text-anchor="end" fill="#222" font-weight="normal" stroke="#222" stroke-width="0.12" >25%</text>
<line x1="44.1" y1="469.0" x2="47.4" y2="469.0" stroke="#2a2a2a" stroke-width="1.1"/>
<text x="40.9" y="471.6" font-size="7.7" text-anchor="end" fill="#222" font-weight="normal" stroke="#222" stroke-width="0.12" >50%</text>
<line x1="44.1" y1="441.5" x2="47.4" y2="441.5" stroke="#2a2a2a" stroke-width="1.1"/>
<text x="40.9" y="444.1" font-size="7.7" text-anchor="end" fill="#222" font-weight="normal" stroke="#222" stroke-width="0.12" >75%</text>
<line x1="44.1" y1="413.9" x2="47.4" y2="413.9" stroke="#2a2a2a" stroke-width="1.1"/>
<text x="40.9" y="416.5" font-size="7.7" text-anchor="end" fill="#222" font-weight="normal" stroke="#222" stroke-width="0.12" >100%</text>
<line x1="54.6" y1="529.0" x2="54.6" y2="532.0" stroke="#2a2a2a" stroke-width="1.1"/>
<text x="54.6" y="541.0" font-size="8.0" text-anchor="middle" fill="#222" font-weight="normal" stroke="#222" stroke-width="0.12" >0</text>
<line x1="92.9" y1="529.0" x2="92.9" y2="532.0" stroke="#2a2a2a" stroke-width="1.1"/>
<text x="92.9" y="541.0" font-size="8.0" text-anchor="middle" fill="#222" font-weight="normal" stroke="#222" stroke-width="0.12" >1</text>
<line x1="131.2" y1="529.0" x2="131.2" y2="532.0" stroke="#2a2a2a" stroke-width="1.1"/>
<text x="131.2" y="541.0" font-size="8.0" text-anchor="middle" fill="#222" font-weight="normal" stroke="#222" stroke-width="0.12" >2</text>
<line x1="169.5" y1="529.0" x2="169.5" y2="532.0" stroke="#2a2a2a" stroke-width="1.1"/>
<text x="169.5" y="541.0" font-size="8.0" text-anchor="middle" fill="#222" font-weight="normal" stroke="#222" stroke-width="0.12" >3</text>
<line x1="207.8" y1="529.0" x2="207.8" y2="532.0" stroke="#2a2a2a" stroke-width="1.1"/>
<text x="207.8" y="541.0" font-size="8.0" text-anchor="middle" fill="#222" font-weight="normal" stroke="#222" stroke-width="0.12" >4</text>
<line x1="246.1" y1="529.0" x2="246.1" y2="532.0" stroke="#2a2a2a" stroke-width="1.1"/>
<text x="246.1" y="541.0" font-size="8.0" text-anchor="middle" fill="#222" font-weight="normal" stroke="#222" stroke-width="0.12" >5</text>
<text transform="translate(150.5,551.8) scale(0.74,1)" font-size="8.6" text-anchor="middle" fill="#222" stroke="#222" stroke-width="0.2">Time from HCT (days)</text>
<text transform="translate(14.2,470.0) rotate(-90) scale(0.74,1)" font-size="8.6" text-anchor="middle" fill="#222" stroke="#222" stroke-width="0.2">Overall survival probability</text>
<text x="6.9" y="407.3" font-size="10.8" text-anchor="start" fill="#111" font-weight="bold" >E</text>
<path d="M54.8,414.2 L56.4,414.2 L56.4,414.4 L58.0,414.4 L58.0,414.5 L59.6,414.5 L59.6,414.7 L61.2,414.7 L61.2,414.8 L62.8,414.8 L62.8,415.0 L64.4,415.0 L64.4,415.1 L66.0,415.1 L66.0,415.3 L67.6,415.3 L67.6,415.4 L69.2,415.4 L69.2,415.6 L70.8,415.6 L70.8,416.1 L72.4,416.1 L72.4,416.6 L74.0,416.6 L74.0,417.1 L75.6,417.1 L75.6,417.5 L77.2,417.5 L77.2,418.0 L78.8,418.0 L78.8,418.5 L80.6,418.5 L80.6,418.7 L82.4,418.7 L82.4,418.9 L84.2,418.9 L84.2,419.1 L86.0,419.1 L86.0,419.3 L87.8,419.3 L87.8,419.5 L89.6,419.5 L89.6,419.7 L91.4,419.7 L91.4,419.9 L93.2,419.9 L93.2,420.0 L95.0,420.0 L95.0,420.2 L96.8,420.2 L96.8,420.4 L98.6,420.4 L98.6,420.6 L100.4,420.6 L100.4,420.8 L102.2,420.8 L102.2,421.0 L104.0,421.0 L104.0,421.2 L105.8,421.2 L105.8,421.4 L107.6,421.4 L107.6,421.5 L109.3,421.5 L109.3,421.7 L111.1,421.7 L111.1,421.8 L112.9,421.8 L112.9,422.0 L114.6,422.0 L114.6,422.1 L116.4,422.1 L116.4,422.3 L118.2,422.3 L118.2,422.4 L120.0,422.4 L120.0,422.6 L121.7,422.6 L121.7,422.7 L123.5,422.7 L123.5,422.9 L125.3,422.9 L125.3,423.0 L127.0,423.0 L127.0,423.2 L128.8,423.2 L128.8,423.3 L130.6,423.3 L130.6,423.4 L132.3,423.4 L132.3,423.6 L134.1,423.6 L134.1,423.7 L135.9,423.7 L135.9,423.8 L137.6,423.8 L137.6,424.0 L139.4,424.0 L139.4,424.1 L141.2,424.1 L141.2,424.2 L142.9,424.2 L142.9,424.4 L144.7,424.4 L144.7,424.5 L146.5,424.5 L146.5,424.6 L148.2,424.6 L148.2,424.8 L150.0,424.8 L150.0,424.9 L151.7,424.9 L151.7,425.0 L153.3,425.0 L153.3,425.1 L155.0,425.1 L155.0,425.2 L156.7,425.2 L156.7,425.3 L158.3,425.3 L158.3,425.4 L160.0,425.4 L160.0,425.5 L161.6,425.5 L161.6,425.6 L163.3,425.6 L163.3,425.7 L165.0,425.7 L165.0,425.8 L166.6,425.8 L166.6,425.9 L168.3,425.9 L168.3,426.0 L169.3,426.0 L169.3,427.3 L246.5,427.3 L246.5,453.5 L246.5,453.5 L244.7,453.5 L244.7,453.4 L242.9,453.4 L242.9,453.4 L241.1,453.4 L241.1,453.4 L239.3,453.4 L239.3,453.3 L237.5,453.3 L237.5,453.3 L235.7,453.3 L235.7,453.2 L233.9,453.2 L233.9,453.2 L232.1,453.2 L232.1,453.2 L230.3,453.2 L230.3,453.1 L228.5,453.1 L228.5,453.1 L226.8,453.1 L226.8,453.1 L225.0,453.1 L225.0,453.0 L223.2,453.0 L223.2,453.0 L221.4,453.0 L221.4,452.9 L219.6,452.9 L219.6,452.9 L217.8,452.9 L217.8,452.9 L216.0,452.9 L216.0,452.8 L214.2,452.8 L214.2,452.8 L212.4,452.8 L212.4,452.8 L210.6,452.8 L210.6,452.7 L208.8,452.7 L208.8,452.7 L207.0,452.7 L207.0,452.6 L205.2,452.6 L205.2,452.6 L203.4,452.6 L203.4,452.6 L201.6,452.6 L201.6,452.5 L199.8,452.5 L199.8,452.5 L198.0,452.5 L198.0,452.5 L196.2,452.5 L196.2,452.4 L194.4,452.4 L194.4,452.4 L192.6,452.4 L192.6,452.3 L190.8,452.3 L190.8,452.3 L189.0,452.3 L189.0,452.3 L187.3,452.3 L187.3,452.2 L185.5,452.2 L185.5,452.2 L183.7,452.2 L183.7,452.2 L181.9,452.2 L181.9,452.1 L180.1,452.1 L180.1,452.1 L178.3,452.1 L178.3,452.0 L176.5,452.0 L176.5,452.0 L174.7,452.0 L174.7,452.0 L172.9,452.0 L172.9,451.9 L171.1,451.9 L171.1,451.9 L169.3,451.9 L169.3,448.2 L168.3,448.2 L168.3,448.1 L166.6,448.1 L166.6,448.1 L165.0,448.1 L165.0,448.0 L163.3,448.0 L163.3,447.9 L161.6,447.9 L161.6,447.9 L160.0,447.9 L160.0,447.8 L158.3,447.8 L158.3,447.8 L156.7,447.8 L156.7,447.7 L155.0,447.7 L155.0,447.6 L153.3,447.6 L153.3,447.6 L151.7,447.6 L151.7,447.5 L150.0,447.5 L150.0,447.3 L148.2,447.3 L148.2,447.2 L146.5,447.2 L146.5,447.0 L144.7,447.0 L144.7,446.8 L142.9,446.8 L142.9,446.7 L141.2,446.7 L141.2,446.5 L139.4,446.5 L139.4,446.3 L137.6,446.3 L137.6,446.2 L135.9,446.2 L135.9,446.0 L134.1,446.0 L134.1,445.8 L132.3,445.8 L132.3,445.7 L130.6,445.7 L130.6,445.5 L128.8,445.5 L128.8,445.2 L127.0,445.2 L127.0,444.9 L125.3,444.9 L125.3,444.6 L123.5,444.6 L123.5,444.3 L121.7,444.3 L121.7,444.0 L120.0,444.0 L120.0,443.7 L118.2,443.7 L118.2,443.5 L116.4,443.5 L116.4,443.2 L114.6,443.2 L114.6,442.9 L112.9,442.9 L112.9,442.6 L111.1,442.6 L111.1,442.3 L109.3,442.3 L109.3,442.0 L107.6,442.0 L107.6,441.7 L105.8,441.7 L105.8,441.2 L104.0,441.2 L104.0,440.7 L102.2,440.7 L102.2,440.2 L100.4,440.2 L100.4,439.8 L98.7,439.8 L98.7,439.3 L96.9,439.3 L96.9,438.8 L95.1,438.8 L95.1,438.3 L93.3,438.3 L93.3,437.8 L91.5,437.8 L91.5,437.3 L89.7,437.3 L89.7,436.8 L87.9,436.8 L87.9,436.4 L86.2,436.4 L86.2,435.9 L84.4,435.9 L84.4,435.4 L82.6,435.4 L82.6,434.9 L80.8,434.9 L80.8,433.9 L79.2,433.9 L79.2,433.0 L77.6,433.0 L77.6,432.0 L76.0,432.0 L76.0,431.1 L74.4,431.1 L74.4,430.1 L72.8,430.1 L72.8,429.2 L71.2,429.2 L71.2,427.9 L69.6,427.9 L69.6,426.6 L68.0,426.6 L68.0,425.4 L66.3,425.4 L66.3,424.1 L64.7,424.1 L64.7,422.8 L63.1,422.8 L63.1,421.5 L61.5,421.5 L61.5,419.7 L59.8,419.7 L59.8,417.9 L58.1,417.9 L58.1,416.0 L56.5,416.0 L56.5,414.2 L54.8,414.2Z" fill="#c8243c" opacity="0.22"/>
<path d="M54.8,414.2 L56.5,414.2 L56.5,415.3 L58.1,415.3 L58.1,416.4 L59.8,416.4 L59.8,417.5 L61.5,417.5 L61.5,418.6 L63.1,418.6 L63.1,419.4 L64.7,419.4 L64.7,420.2 L66.3,420.2 L66.3,421.0 L68.0,421.0 L68.0,421.8 L69.6,421.8 L69.6,422.6 L71.2,422.6 L71.2,423.4 L72.6,423.4 L72.6,425.3 L74.1,425.3 L74.1,427.2 L75.5,427.2 L75.5,429.2 L76.9,429.2 L76.9,431.1 L78.2,431.1 L78.2,433.0 L79.5,433.0 L79.5,434.9 L80.8,434.9 L80.8,436.8 L82.3,436.8 L82.3,437.4 L83.9,437.4 L83.9,438.0 L85.4,438.0 L85.4,438.5 L87.0,438.5 L87.0,439.1 L88.5,439.1 L88.5,439.7 L90.1,439.7 L90.1,440.5 L91.8,440.5 L91.8,441.4 L93.4,441.4 L93.4,442.2 L95.1,442.2 L95.1,443.0 L96.7,443.0 L96.7,443.8 L98.4,443.8 L98.4,444.7 L100.0,444.7 L100.0,445.5 L101.6,445.5 L101.6,446.1 L103.3,446.1 L103.3,446.6 L104.9,446.6 L104.9,447.2 L106.6,447.2 L106.6,447.8 L108.2,447.8 L108.2,448.4 L109.9,448.4 L109.9,448.9 L111.5,448.9 L111.5,449.5 L113.2,449.5 L113.2,449.9 L114.9,449.9 L114.9,450.3 L116.6,450.3 L116.6,450.7 L118.3,450.7 L118.3,451.1 L120.0,451.1 L120.0,451.5 L121.7,451.5 L121.7,451.7 L123.5,451.7 L123.5,451.9 L125.2,451.9 L125.2,452.1 L127.0,452.1 L127.0,452.3 L128.7,452.3 L128.7,452.5 L130.4,452.5 L130.4,452.7 L132.2,452.7 L132.2,452.9 L133.9,452.9 L133.9,453.1 L135.7,453.1 L135.7,453.3 L137.4,453.3 L137.4,453.5 L139.1,453.5 L139.1,453.7 L140.9,453.7 L140.9,454.0 L142.6,454.0 L142.6,454.2 L144.3,454.2 L144.3,454.4 L146.1,454.4 L146.1,454.6 L147.8,454.6 L147.8,454.8 L149.6,454.8 L149.6,455.0 L151.3,455.0 L151.3,455.2 L153.0,455.2 L153.0,455.4 L154.8,455.4 L154.8,455.6 L156.5,455.6 L156.5,455.8 L158.3,455.8 L158.3,456.0 L160.0,456.0 L160.0,456.2 L161.7,456.2 L161.7,456.6 L163.3,456.6 L163.3,457.0 L165.0,457.0 L165.0,457.3 L166.7,457.3 L166.7,457.7 L168.3,457.7 L168.3,458.1 L170.0,458.1 L170.0,458.5 L171.7,458.5 L171.7,458.8 L173.3,458.8 L173.3,459.2 L175.0,459.2 L175.0,459.6 L194.2,459.6 L194.2,464.2 L218.0,464.2 L218.0,466.5 L246.5,466.5 L246.5,489.6 L218.0,489.6 L218.0,486.5 L194.2,486.5 L194.2,483.8 L180.0,483.8 L180.0,482.9 L178.3,482.9 L178.3,482.1 L176.7,482.1 L176.7,481.2 L175.0,481.2 L175.0,481.4 L173.2,481.4 L173.2,481.6 L171.5,481.6 L171.5,481.7 L169.7,481.7 L169.7,481.9 L168.0,481.9 L168.0,482.1 L166.2,482.1 L166.2,481.9 L164.6,481.9 L164.6,481.7 L162.9,481.7 L162.9,481.4 L161.3,481.4 L161.3,481.2 L159.6,481.2 L159.6,481.0 L158.0,481.0 L158.0,480.0 L156.6,480.0 L156.6,478.9 L155.2,478.9 L155.2,477.9 L153.7,477.9 L153.7,476.9 L152.3,476.9 L152.3,476.4 L150.7,476.4 L150.7,475.9 L149.0,475.9 L149.0,475.4 L147.4,475.4 L147.4,475.0 L145.7,475.0 L145.7,474.5 L144.1,474.5 L144.1,474.0 L142.4,474.0 L142.4,473.5 L140.8,473.5 L140.8,473.4 L139.1,473.4 L139.1,473.2 L137.3,473.2 L137.3,473.1 L135.6,473.1 L135.6,472.9 L133.9,472.9 L133.9,472.8 L132.1,472.8 L132.1,472.6 L130.4,472.6 L130.4,472.4 L128.7,472.4 L128.7,472.3 L126.9,472.3 L126.9,472.1 L125.2,472.1 L125.2,472.0 L123.5,472.0 L123.5,471.8 L121.7,471.8 L121.7,471.7 L120.0,471.7 L120.0,470.6 L118.7,470.6 L118.7,469.5 L117.3,469.5 L117.3,469.0 L115.6,469.0 L115.6,468.6 L113.9,468.6 L113.9,468.1 L112.2,468.1 L112.2,467.6 L110.5,467.6 L110.5,467.1 L108.9,467.1 L108.9,466.6 L107.2,466.6 L107.2,466.2 L105.5,466.2 L105.5,465.7 L103.8,465.7 L103.8,464.6 L102.2,464.6 L102.2,463.5 L100.5,463.5 L100.5,462.4 L98.9,462.4 L98.9,461.3 L97.2,461.3 L97.2,460.2 L95.6,460.2 L95.6,459.1 L93.9,459.1 L93.9,458.0 L92.3,458.0 L92.3,457.0 L90.7,457.0 L90.7,456.1 L89.1,456.1 L89.1,455.1 L87.5,455.1 L87.5,454.1 L85.9,454.1 L85.9,453.2 L84.3,453.2 L84.3,452.2 L82.7,452.2 L82.7,450.3 L81.2,450.3 L81.2,448.4 L79.8,448.4 L79.8,446.4 L78.4,446.4 L78.4,444.5 L76.9,444.5 L76.9,441.6 L75.5,441.6 L75.5,438.8 L74.1,438.8 L74.1,435.9 L72.6,435.9 L72.6,433.0 L71.2,433.0 L71.2,431.4 L69.6,431.4 L69.6,429.8 L68.0,429.8 L68.0,428.2 L66.3,428.2 L66.3,426.6 L64.7,426.6 L64.7,425.0 L63.1,425.0 L63.1,423.4 L61.5,423.4 L61.5,421.1 L59.8,421.1 L59.8,418.8 L58.1,418.8 L58.1,416.5 L56.5,416.5 L56.5,414.2 L54.8,414.2Z" fill="#3aad48" opacity="0.22"/>
<path d="M54.8,414.2 L56.4,414.2 L56.4,414.6 L58.0,414.6 L58.0,415.0 L59.6,415.0 L59.6,415.5 L61.2,415.5 L61.2,415.9 L62.8,415.9 L62.8,416.3 L64.4,416.3 L64.4,416.7 L66.0,416.7 L66.0,417.2 L67.6,417.2 L67.6,417.6 L69.2,417.6 L69.2,418.0 L70.9,418.0 L70.9,418.8 L72.6,418.8 L72.6,419.6 L74.3,419.6 L74.3,420.3 L76.0,420.3 L76.0,421.1 L77.8,421.1 L77.8,421.9 L79.5,421.9 L79.5,422.7 L81.2,422.7 L81.2,423.4 L82.9,423.4 L82.9,424.2 L84.6,424.2 L84.6,425.0 L86.3,425.0 L86.3,425.8 L88.0,425.8 L88.0,426.6 L89.7,426.6 L89.7,427.3 L91.4,427.3 L91.4,428.1 L93.2,428.1 L93.2,428.9 L94.9,428.9 L94.9,429.7 L96.6,429.7 L96.6,430.4 L98.3,430.4 L98.3,431.2 L100.0,431.2 L100.0,432.0 L101.7,432.0 L101.7,432.8 L103.4,432.8 L103.4,433.6 L105.1,433.6 L105.1,434.3 L106.8,434.3 L106.8,435.1 L108.6,435.1 L108.6,435.9 L110.3,435.9 L110.3,436.7 L112.0,436.7 L112.0,437.4 L113.7,437.4 L113.7,438.2 L115.4,438.2 L115.4,439.0 L117.1,439.0 L117.1,439.6 L118.8,439.6 L118.8,440.1 L120.5,440.1 L120.5,440.7 L122.2,440.7 L122.2,441.2 L124.0,441.2 L124.0,441.8 L125.7,441.8 L125.7,442.3 L127.4,442.3 L127.4,442.9 L129.1,442.9 L129.1,443.4 L130.8,443.4 L130.8,444.0 L132.6,444.0 L132.6,444.2 L134.4,444.2 L134.4,444.4 L136.1,444.4 L136.1,444.6 L137.9,444.6 L137.9,444.9 L139.7,444.9 L139.7,445.1 L141.4,445.1 L141.4,445.3 L143.2,445.3 L143.2,445.5 L145.0,445.5 L145.0,445.7 L146.8,445.7 L146.8,445.8 L148.5,445.8 L148.5,446.0 L150.3,446.0 L150.3,446.1 L152.1,446.1 L152.1,446.2 L153.8,446.2 L153.8,446.4 L155.6,446.4 L155.6,446.5 L157.4,446.5 L157.4,446.6 L159.1,446.6 L159.1,446.8 L160.9,446.8 L160.9,446.9 L162.6,446.9 L162.6,447.1 L164.4,447.1 L164.4,447.2 L166.2,447.2 L166.2,447.3 L167.9,447.3 L167.9,447.5 L169.7,447.5 L169.7,447.6 L171.5,447.6 L171.5,447.7 L173.2,447.7 L173.2,447.9 L175.0,447.9 L175.0,448.0 L176.8,448.0 L176.8,448.0 L178.6,448.0 L178.6,448.1 L180.4,448.1 L180.4,448.1 L182.2,448.1 L182.2,448.2 L183.9,448.2 L183.9,448.2 L185.7,448.2 L185.7,448.2 L187.5,448.2 L187.5,448.3 L189.3,448.3 L189.3,448.3 L191.1,448.3 L191.1,448.4 L192.9,448.4 L192.9,448.4 L194.7,448.4 L194.7,448.4 L196.4,448.4 L196.4,448.5 L198.2,448.5 L198.2,448.5 L200.0,448.5 L200.0,448.6 L201.8,448.6 L201.8,448.6 L203.6,448.6 L203.6,448.6 L205.4,448.6 L205.4,448.7 L207.2,448.7 L207.2,448.7 L209.0,448.7 L209.0,448.8 L210.8,448.8 L210.8,448.8 L212.5,448.8 L212.5,448.8 L214.3,448.8 L214.3,448.9 L216.1,448.9 L216.1,448.9 L217.9,448.9 L217.9,449.0 L219.7,449.0 L219.7,449.0 L221.5,449.0 L221.5,449.0 L223.3,449.0 L223.3,449.1 L225.1,449.1 L225.1,449.1 L226.8,449.1 L226.8,449.2 L228.6,449.2 L228.6,449.2 L230.4,449.2 L230.4,449.2 L232.2,449.2 L232.2,449.3 L234.0,449.3 L234.0,449.3 L235.8,449.3 L235.8,449.4 L237.6,449.4 L237.6,449.4 L239.3,449.4 L239.3,449.4 L241.1,449.4 L241.1,449.5 L242.9,449.5 L242.9,449.5 L244.7,449.5 L244.7,449.6 L246.5,449.6 L246.5,449.6 L246.5,461.2 L246.5,461.1 L244.7,461.1 L244.7,461.1 L242.9,461.1 L242.9,461.0 L241.1,461.0 L241.1,461.0 L239.3,461.0 L239.3,460.9 L237.6,460.9 L237.6,460.8 L235.8,460.8 L235.8,460.8 L234.0,460.8 L234.0,460.7 L232.2,460.7 L232.2,460.7 L230.4,460.7 L230.4,460.6 L228.6,460.6 L228.6,460.5 L226.8,460.5 L226.8,460.5 L225.1,460.5 L225.1,460.4 L223.3,460.4 L223.3,460.4 L221.5,460.4 L221.5,460.3 L219.7,460.3 L219.7,460.2 L217.9,460.2 L217.9,460.2 L216.1,460.2 L216.1,460.1 L214.3,460.1 L214.3,460.1 L212.5,460.1 L212.5,460.0 L210.8,460.0 L210.8,459.9 L209.0,459.9 L209.0,459.9 L207.2,459.9 L207.2,459.8 L205.4,459.8 L205.4,459.8 L203.6,459.8 L203.6,459.7 L201.8,459.7 L201.8,459.6 L200.0,459.6 L200.0,459.6 L198.2,459.6 L198.2,459.5 L196.4,459.5 L196.4,459.5 L194.7,459.5 L194.7,459.4 L192.9,459.4 L192.9,459.3 L191.1,459.3 L191.1,459.3 L189.3,459.3 L189.3,459.2 L187.5,459.2 L187.5,459.2 L185.7,459.2 L185.7,459.1 L183.9,459.1 L183.9,459.0 L182.2,459.0 L182.2,459.0 L180.4,459.0 L180.4,458.9 L178.6,458.9 L178.6,458.9 L176.8,458.9 L176.8,458.8 L175.0,458.8 L175.0,458.5 L173.3,458.5 L173.3,458.2 L171.7,458.2 L171.7,457.9 L170.0,457.9 L170.0,457.6 L168.3,457.6 L168.3,457.4 L166.7,457.4 L166.7,457.1 L165.0,457.1 L165.0,456.8 L163.3,456.8 L163.3,456.5 L161.7,456.5 L161.7,456.2 L160.0,456.2 L160.0,455.9 L158.3,455.9 L158.3,455.7 L156.5,455.7 L156.5,455.4 L154.8,455.4 L154.8,455.2 L153.0,455.2 L153.0,454.9 L151.3,454.9 L151.3,454.7 L149.6,454.7 L149.6,454.4 L147.8,454.4 L147.8,454.2 L146.1,454.2 L146.1,453.9 L144.3,453.9 L144.3,453.7 L142.6,453.7 L142.6,453.4 L140.9,453.4 L140.9,453.2 L139.1,453.2 L139.1,452.9 L137.4,452.9 L137.4,452.7 L135.7,452.7 L135.7,452.4 L133.9,452.4 L133.9,452.2 L132.2,452.2 L132.2,451.9 L130.4,451.9 L130.4,451.7 L128.7,451.7 L128.7,451.4 L127.0,451.4 L127.0,451.2 L125.2,451.2 L125.2,450.9 L123.5,450.9 L123.5,450.7 L121.7,450.7 L121.7,450.4 L120.0,450.4 L120.0,449.4 L118.5,449.4 L118.5,448.5 L116.9,448.5 L116.9,447.5 L115.4,447.5 L115.4,446.7 L113.7,446.7 L113.7,445.9 L112.0,445.9 L112.0,445.2 L110.3,445.2 L110.3,444.4 L108.6,444.4 L108.6,443.6 L106.8,443.6 L106.8,442.8 L105.1,442.8 L105.1,442.1 L103.4,442.1 L103.4,441.3 L101.7,441.3 L101.7,440.5 L100.0,440.5 L100.0,439.7 L98.3,439.7 L98.3,438.8 L96.6,438.8 L96.6,438.0 L94.9,438.0 L94.9,437.2 L93.2,437.2 L93.2,436.3 L91.4,436.3 L91.4,435.5 L89.7,435.5 L89.7,434.7 L88.0,434.7 L88.0,433.8 L86.3,433.8 L86.3,433.0 L84.6,433.0 L84.6,432.1 L82.9,432.1 L82.9,431.1 L81.2,431.1 L81.2,430.2 L79.5,430.2 L79.5,429.2 L77.8,429.2 L77.8,428.3 L76.0,428.3 L76.0,427.3 L74.3,427.3 L74.3,426.4 L72.6,426.4 L72.6,425.4 L70.9,425.4 L70.9,424.5 L69.2,424.5 L69.2,423.4 L67.6,423.4 L67.6,422.2 L66.0,422.2 L66.0,421.1 L64.4,421.1 L64.4,419.9 L62.8,419.9 L62.8,418.8 L61.2,418.8 L61.2,417.6 L59.6,417.6 L59.6,416.5 L58.0,416.5 L58.0,415.3 L56.4,415.3 L56.4,414.2 L54.8,414.2Z" fill="#1f4f8a" opacity="0.22"/>
<path d="M54.8,414.2 L58.7,414.2 L58.7,415.7 L61.5,415.7 L61.5,417.2 L67.3,417.2 L67.3,419.5 L68.9,419.5 L68.9,420.7 L70.5,420.7 L70.5,421.8 L72.1,421.8 L72.1,423.0 L73.7,423.0 L73.7,424.1 L75.3,424.1 L75.3,425.2 L76.9,425.2 L76.9,426.3 L78.2,426.3 L78.2,426.9 L79.5,426.9 L79.5,427.6 L80.8,427.6 L80.8,428.2 L82.1,428.2 L82.1,428.6 L83.3,428.6 L83.3,429.1 L84.6,429.1 L84.6,429.5 L105.8,429.5 L105.8,433.4 L129.3,433.4 L129.3,436.2 L168.6,436.2 L168.6,440.4 L246.5,440.4" fill="none" stroke="#c8243c" stroke-width="1.6" stroke-linejoin="miter"/>
<line x1="84.6" y1="427.2" x2="84.6" y2="431.8" stroke="#c8243c" stroke-width="1.1"/>
<line x1="87.5" y1="427.2" x2="87.5" y2="431.8" stroke="#c8243c" stroke-width="1.1"/>
<line x1="91.3" y1="427.2" x2="91.3" y2="431.8" stroke="#c8243c" stroke-width="1.1"/>
<line x1="95.2" y1="427.2" x2="95.2" y2="431.8" stroke="#c8243c" stroke-width="1.1"/>
<line x1="98.1" y1="427.2" x2="98.1" y2="431.8" stroke="#c8243c" stroke-width="1.1"/>
<line x1="101.0" y1="427.2" x2="101.0" y2="431.8" stroke="#c8243c" stroke-width="1.1"/>
<line x1="102.9" y1="427.2" x2="102.9" y2="431.8" stroke="#c8243c" stroke-width="1.1"/>
<line x1="132.7" y1="433.9" x2="132.7" y2="438.5" stroke="#c8243c" stroke-width="1.1"/>
<line x1="137.5" y1="433.9" x2="137.5" y2="438.5" stroke="#c8243c" stroke-width="1.1"/>
<line x1="140.4" y1="433.9" x2="140.4" y2="438.5" stroke="#c8243c" stroke-width="1.1"/>
<line x1="142.3" y1="433.9" x2="142.3" y2="438.5" stroke="#c8243c" stroke-width="1.1"/>
<line x1="147.1" y1="433.9" x2="147.1" y2="438.5" stroke="#c8243c" stroke-width="1.1"/>
<line x1="156.6" y1="433.9" x2="156.6" y2="438.5" stroke="#c8243c" stroke-width="1.1"/>
<line x1="182.4" y1="438.1" x2="182.4" y2="442.7" stroke="#c8243c" stroke-width="1.1"/>
<line x1="240.4" y1="438.1" x2="240.4" y2="442.7" stroke="#c8243c" stroke-width="1.1"/>
<line x1="243.5" y1="438.1" x2="243.5" y2="442.7" stroke="#c8243c" stroke-width="1.1"/>
<path d="M54.8,414.2 L56.4,414.2 L56.4,415.0 L58.0,415.0 L58.0,415.9 L59.6,415.9 L59.6,416.7 L60.9,416.7 L60.9,418.0 L62.2,418.0 L62.2,419.2 L63.5,419.2 L63.5,420.5 L64.9,420.5 L64.9,421.9 L66.3,421.9 L66.3,423.4 L67.8,423.4 L67.8,423.9 L69.2,423.9 L69.2,424.3 L70.7,424.3 L70.7,425.8 L72.1,425.8 L72.1,427.2 L73.5,427.2 L73.5,431.0 L75.0,431.0 L75.0,434.9 L76.3,434.9 L76.3,437.2 L77.5,437.2 L77.5,439.4 L78.8,439.4 L78.8,441.7 L80.2,441.7 L80.2,444.1 L81.7,444.1 L81.7,446.5 L82.7,446.5 L82.7,446.9 L83.7,446.9 L83.7,447.4 L90.4,447.4 L91.3,447.4 L91.3,448.4 L92.3,448.4 L92.3,449.3 L93.8,449.3 L93.8,450.0 L95.2,450.0 L95.2,450.8 L96.6,450.8 L96.6,451.5 L98.1,451.5 L98.1,452.2 L99.4,452.2 L99.4,453.2 L100.6,453.2 L100.6,454.1 L101.9,454.1 L101.9,455.1 L103.4,455.1 L103.4,455.9 L104.8,455.9 L104.8,456.8 L106.2,456.8 L106.2,457.6 L107.7,457.6 L107.7,458.4 L109.2,458.4 L109.2,458.8 L110.6,458.8 L110.6,459.1 L112.0,459.1 L112.0,459.5 L113.5,459.5 L113.5,459.9 L115.1,459.9 L115.1,460.1 L116.7,460.1 L116.7,460.4 L118.3,460.4 L118.3,460.6 L119.9,460.6 L119.9,460.8 L121.5,460.8 L121.5,461.1 L123.1,461.1 L123.1,461.3 L140.2,461.3 L140.2,462.5 L143.7,462.5 L143.7,464.2 L151.7,464.2 L151.7,466.0 L158.0,466.0 L158.0,469.8 L166.2,469.8 L166.2,471.2 L178.0,471.2 L178.0,472.7 L184.2,472.7 L184.2,474.2 L194.2,474.2 L194.2,475.8 L218.0,475.8 L218.0,478.1 L246.5,478.1" fill="none" stroke="#3aad48" stroke-width="1.6" stroke-linejoin="miter"/>
<line x1="123.5" y1="459.0" x2="123.5" y2="463.6" stroke="#3aad48" stroke-width="1.1"/>
<line x1="125.2" y1="459.0" x2="125.2" y2="463.6" stroke="#3aad48" stroke-width="1.1"/>
<line x1="128.1" y1="459.0" x2="128.1" y2="463.6" stroke="#3aad48" stroke-width="1.1"/>
<line x1="129.2" y1="459.0" x2="129.2" y2="463.6" stroke="#3aad48" stroke-width="1.1"/>
<line x1="133.3" y1="459.0" x2="133.3" y2="463.6" stroke="#3aad48" stroke-width="1.1"/>
<line x1="141.3" y1="460.2" x2="141.3" y2="464.8" stroke="#3aad48" stroke-width="1.1"/>
<line x1="166.7" y1="468.9" x2="166.7" y2="473.5" stroke="#3aad48" stroke-width="1.1"/>
<line x1="169.6" y1="468.9" x2="169.6" y2="473.5" stroke="#3aad48" stroke-width="1.1"/>
<line x1="173.1" y1="468.9" x2="173.1" y2="473.5" stroke="#3aad48" stroke-width="1.1"/>
<line x1="176.5" y1="468.9" x2="176.5" y2="473.5" stroke="#3aad48" stroke-width="1.1"/>
<line x1="200.4" y1="473.5" x2="200.4" y2="478.1" stroke="#3aad48" stroke-width="1.1"/>
<line x1="205.8" y1="473.5" x2="205.8" y2="478.1" stroke="#3aad48" stroke-width="1.1"/>
<line x1="211.9" y1="473.5" x2="211.9" y2="478.1" stroke="#3aad48" stroke-width="1.1"/>
<line x1="214.2" y1="473.5" x2="214.2" y2="478.1" stroke="#3aad48" stroke-width="1.1"/>
<line x1="215.8" y1="473.5" x2="215.8" y2="478.1" stroke="#3aad48" stroke-width="1.1"/>
<line x1="233.5" y1="475.8" x2="233.5" y2="480.4" stroke="#3aad48" stroke-width="1.1"/>
<line x1="238.1" y1="475.8" x2="238.1" y2="480.4" stroke="#3aad48" stroke-width="1.1"/>
<line x1="245.0" y1="475.8" x2="245.0" y2="480.4" stroke="#3aad48" stroke-width="1.1"/>
<path d="M54.8,414.2 L56.5,414.2 L56.5,415.1 L58.1,415.1 L58.1,415.9 L59.8,415.9 L59.8,416.8 L61.5,416.8 L61.5,417.6 L63.0,417.6 L63.0,418.4 L64.6,418.4 L64.6,419.2 L66.1,419.2 L66.1,419.9 L67.7,419.9 L67.7,420.7 L69.2,420.7 L69.2,421.5 L70.7,421.5 L70.7,422.3 L72.3,422.3 L72.3,423.2 L73.8,423.2 L73.8,424.0 L75.4,424.0 L75.4,424.9 L76.9,424.9 L76.9,425.7 L78.4,425.7 L78.4,426.4 L80.0,426.4 L80.0,427.1 L81.5,427.1 L81.5,427.8 L83.1,427.8 L83.1,428.5 L84.6,428.5 L84.6,429.2 L86.1,429.2 L86.1,429.9 L87.7,429.9 L87.7,430.6 L89.2,430.6 L89.2,431.2 L90.8,431.2 L90.8,431.9 L92.3,431.9 L92.3,432.6 L93.8,432.6 L93.8,433.4 L95.4,433.4 L95.4,434.2 L96.9,434.2 L96.9,434.9 L98.5,434.9 L98.5,435.7 L100.0,435.7 L100.0,436.5 L101.5,436.5 L101.5,437.1 L103.1,437.1 L103.1,437.8 L104.6,437.8 L104.6,438.4 L106.2,438.4 L106.2,439.1 L107.7,439.1 L107.7,439.7 L109.2,439.7 L109.2,440.5 L110.8,440.5 L110.8,441.3 L112.3,441.3 L112.3,442.0 L113.9,442.0 L113.9,442.8 L115.4,442.8 L115.4,443.6 L116.9,443.6 L116.9,444.7 L118.5,444.7 L118.5,445.8 L120.0,445.8 L120.0,446.9 L121.7,446.9 L121.7,447.1 L123.3,447.1 L123.3,447.4 L125.0,447.4 L125.0,447.6 L126.7,447.6 L126.7,447.9 L128.3,447.9 L128.3,448.1 L130.0,448.1 L130.0,448.4 L131.7,448.4 L131.7,448.6 L133.3,448.6 L133.3,448.8 L135.0,448.8 L135.0,449.1 L136.7,449.1 L136.7,449.3 L138.3,449.3 L138.3,449.6 L140.0,449.6 L140.0,449.8 L141.7,449.8 L141.7,450.0 L143.3,450.0 L143.3,450.2 L145.0,450.2 L145.0,450.4 L146.7,450.4 L146.7,450.6 L148.3,450.6 L148.3,450.7 L150.0,450.7 L150.0,450.9 L151.7,450.9 L151.7,451.1 L153.3,451.1 L153.3,451.3 L155.0,451.3 L155.0,451.5 L156.7,451.5 L156.7,451.7 L158.3,451.7 L158.3,451.9 L160.0,451.9 L160.0,452.1 L161.7,452.1 L161.7,452.3 L163.3,452.3 L163.3,452.5 L165.0,452.5 L165.0,452.7 L166.7,452.7 L166.7,452.8 L168.3,452.8 L168.3,452.9 L170.0,452.9 L170.0,453.1 L171.7,453.1 L171.7,453.2 L173.3,453.2 L173.3,453.3 L175.0,453.3 L175.0,453.4 L176.7,453.4 L176.7,453.6 L178.3,453.6 L178.3,453.7 L180.0,453.7 L180.0,453.8 L181.8,453.8 L181.8,453.9 L183.5,453.9 L183.5,453.9 L185.3,453.9 L185.3,454.0 L187.1,454.0 L187.1,454.0 L188.8,454.0 L188.8,454.1 L190.6,454.1 L190.6,454.2 L192.4,454.2 L192.4,454.2 L194.1,454.2 L194.1,454.3 L195.9,454.3 L195.9,454.3 L197.6,454.3 L197.6,454.4 L199.4,454.4 L199.4,454.4 L201.2,454.4 L201.2,454.5 L202.9,454.5 L202.9,454.6 L204.7,454.6 L204.7,454.6 L206.5,454.6 L206.5,454.7 L208.2,454.7 L208.2,454.7 L210.0,454.7 L210.0,454.8 L211.7,454.8 L211.7,454.8 L213.5,454.8 L213.5,454.9 L215.2,454.9 L215.2,454.9 L217.0,454.9 L217.0,455.0 L218.7,455.0 L218.7,455.0 L220.4,455.0 L220.4,455.1 L222.2,455.1 L222.2,455.1 L223.9,455.1 L223.9,455.2 L225.6,455.2 L225.6,455.2 L227.4,455.2 L227.4,455.3 L229.1,455.3 L229.1,455.3 L230.9,455.3 L230.9,455.4 L232.6,455.4 L232.6,455.4 L234.3,455.4 L234.3,455.5 L236.1,455.5 L236.1,455.5 L237.8,455.5 L237.8,455.6 L239.5,455.6 L239.5,455.6 L241.3,455.6 L241.3,455.7 L243.0,455.7 L243.0,455.7 L244.8,455.7 L244.8,455.8 L246.5,455.8 L246.5,455.8" fill="none" stroke="#1f4f8a" stroke-width="1.6" stroke-linejoin="miter"/>
<line x1="88.0" y1="428.4" x2="88.0" y2="433.0" stroke="#1f4f8a" stroke-width="1.1"/>
<line x1="90.9" y1="429.7" x2="90.9" y2="434.3" stroke="#1f4f8a" stroke-width="1.1"/>
<line x1="94.1" y1="431.2" x2="94.1" y2="435.8" stroke="#1f4f8a" stroke-width="1.1"/>
<line x1="97.5" y1="432.9" x2="97.5" y2="437.5" stroke="#1f4f8a" stroke-width="1.1"/>
<line x1="101.3" y1="434.7" x2="101.3" y2="439.3" stroke="#1f4f8a" stroke-width="1.1"/>
<line x1="104.5" y1="436.1" x2="104.5" y2="440.7" stroke="#1f4f8a" stroke-width="1.1"/>
<line x1="108.3" y1="437.7" x2="108.3" y2="442.3" stroke="#1f4f8a" stroke-width="1.1"/>
<line x1="109.4" y1="438.3" x2="109.4" y2="442.9" stroke="#1f4f8a" stroke-width="1.1"/>
<line x1="111.8" y1="439.5" x2="111.8" y2="444.1" stroke="#1f4f8a" stroke-width="1.1"/>
<line x1="115.6" y1="441.4" x2="115.6" y2="446.0" stroke="#1f4f8a" stroke-width="1.1"/>
<line x1="118.6" y1="443.6" x2="118.6" y2="448.2" stroke="#1f4f8a" stroke-width="1.1"/>
<line x1="122.3" y1="444.9" x2="122.3" y2="449.5" stroke="#1f4f8a" stroke-width="1.1"/>
<line x1="123.6" y1="445.1" x2="123.6" y2="449.7" stroke="#1f4f8a" stroke-width="1.1"/>
<line x1="126.0" y1="445.5" x2="126.0" y2="450.1" stroke="#1f4f8a" stroke-width="1.1"/>
<line x1="127.7" y1="445.7" x2="127.7" y2="450.3" stroke="#1f4f8a" stroke-width="1.1"/>
<line x1="130.4" y1="446.1" x2="130.4" y2="450.7" stroke="#1f4f8a" stroke-width="1.1"/>
<line x1="133.1" y1="446.5" x2="133.1" y2="451.1" stroke="#1f4f8a" stroke-width="1.1"/>
<line x1="134.1" y1="446.6" x2="134.1" y2="451.2" stroke="#1f4f8a" stroke-width="1.1"/>
<line x1="135.8" y1="446.9" x2="135.8" y2="451.5" stroke="#1f4f8a" stroke-width="1.1"/>
<line x1="137.6" y1="447.2" x2="137.6" y2="451.8" stroke="#1f4f8a" stroke-width="1.1"/>
<line x1="141.4" y1="447.7" x2="141.4" y2="452.3" stroke="#1f4f8a" stroke-width="1.1"/>
<line x1="144.7" y1="448.0" x2="144.7" y2="452.6" stroke="#1f4f8a" stroke-width="1.1"/>
<line x1="146.1" y1="448.2" x2="146.1" y2="452.8" stroke="#1f4f8a" stroke-width="1.1"/>
<line x1="149.5" y1="448.6" x2="149.5" y2="453.2" stroke="#1f4f8a" stroke-width="1.1"/>
<line x1="151.0" y1="448.7" x2="151.0" y2="453.3" stroke="#1f4f8a" stroke-width="1.1"/>
<line x1="153.8" y1="449.1" x2="153.8" y2="453.7" stroke="#1f4f8a" stroke-width="1.1"/>
<line x1="155.2" y1="449.2" x2="155.2" y2="453.8" stroke="#1f4f8a" stroke-width="1.1"/>
<line x1="156.2" y1="449.3" x2="156.2" y2="453.9" stroke="#1f4f8a" stroke-width="1.1"/>
<line x1="159.8" y1="449.8" x2="159.8" y2="454.4" stroke="#1f4f8a" stroke-width="1.1"/>
<line x1="161.4" y1="450.0" x2="161.4" y2="454.6" stroke="#1f4f8a" stroke-width="1.1"/>
<line x1="163.1" y1="450.2" x2="163.1" y2="454.8" stroke="#1f4f8a" stroke-width="1.1"/>
<line x1="167.0" y1="450.5" x2="167.0" y2="455.1" stroke="#1f4f8a" stroke-width="1.1"/>
<line x1="170.6" y1="450.8" x2="170.6" y2="455.4" stroke="#1f4f8a" stroke-width="1.1"/>
<line x1="172.5" y1="450.9" x2="172.5" y2="455.6" stroke="#1f4f8a" stroke-width="1.1"/>
<line x1="176.4" y1="451.2" x2="176.4" y2="455.8" stroke="#1f4f8a" stroke-width="1.1"/>
<line x1="179.0" y1="451.4" x2="179.0" y2="456.0" stroke="#1f4f8a" stroke-width="1.1"/>
<line x1="182.1" y1="451.6" x2="182.1" y2="456.2" stroke="#1f4f8a" stroke-width="1.1"/>
<line x1="183.7" y1="451.6" x2="183.7" y2="456.2" stroke="#1f4f8a" stroke-width="1.1"/>
<line x1="187.5" y1="451.8" x2="187.5" y2="456.4" stroke="#1f4f8a" stroke-width="1.1"/>
<line x1="190.6" y1="451.9" x2="190.6" y2="456.5" stroke="#1f4f8a" stroke-width="1.1"/>
<line x1="194.5" y1="452.0" x2="194.5" y2="456.6" stroke="#1f4f8a" stroke-width="1.1"/>
<line x1="198.1" y1="452.1" x2="198.1" y2="456.7" stroke="#1f4f8a" stroke-width="1.1"/>
<line x1="200.0" y1="452.2" x2="200.0" y2="456.8" stroke="#1f4f8a" stroke-width="1.1"/>
<line x1="202.1" y1="452.2" x2="202.1" y2="456.8" stroke="#1f4f8a" stroke-width="1.1"/>
<line x1="203.6" y1="452.3" x2="203.6" y2="456.9" stroke="#1f4f8a" stroke-width="1.1"/>
<line x1="205.1" y1="452.3" x2="205.1" y2="456.9" stroke="#1f4f8a" stroke-width="1.1"/>
<line x1="206.3" y1="452.4" x2="206.3" y2="457.0" stroke="#1f4f8a" stroke-width="1.1"/>
<line x1="208.2" y1="452.4" x2="208.2" y2="457.0" stroke="#1f4f8a" stroke-width="1.1"/>
<line x1="211.0" y1="452.5" x2="211.0" y2="457.1" stroke="#1f4f8a" stroke-width="1.1"/>
<line x1="212.0" y1="452.6" x2="212.0" y2="457.2" stroke="#1f4f8a" stroke-width="1.1"/>
<line x1="215.0" y1="452.6" x2="215.0" y2="457.2" stroke="#1f4f8a" stroke-width="1.1"/>
<line x1="217.0" y1="452.7" x2="217.0" y2="457.3" stroke="#1f4f8a" stroke-width="1.1"/>
<line x1="219.0" y1="452.7" x2="219.0" y2="457.3" stroke="#1f4f8a" stroke-width="1.1"/>
<line x1="222.4" y1="452.8" x2="222.4" y2="457.4" stroke="#1f4f8a" stroke-width="1.1"/>
<line x1="224.9" y1="452.9" x2="224.9" y2="457.5" stroke="#1f4f8a" stroke-width="1.1"/>
<line x1="226.8" y1="453.0" x2="226.8" y2="457.6" stroke="#1f4f8a" stroke-width="1.1"/>
<line x1="229.2" y1="453.0" x2="229.2" y2="457.6" stroke="#1f4f8a" stroke-width="1.1"/>
<line x1="232.4" y1="453.1" x2="232.4" y2="457.7" stroke="#1f4f8a" stroke-width="1.1"/>
<line x1="233.5" y1="453.1" x2="233.5" y2="457.7" stroke="#1f4f8a" stroke-width="1.1"/>
<line x1="237.5" y1="453.3" x2="237.5" y2="457.9" stroke="#1f4f8a" stroke-width="1.1"/>
<line x1="238.5" y1="453.3" x2="238.5" y2="457.9" stroke="#1f4f8a" stroke-width="1.1"/>
<line x1="241.8" y1="453.4" x2="241.8" y2="458.0" stroke="#1f4f8a" stroke-width="1.1"/>
<line x1="245.3" y1="453.5" x2="245.3" y2="458.1" stroke="#1f4f8a" stroke-width="1.1"/>
<text x="51.8" y="503.8" font-size="7" text-anchor="start" fill="#222" font-weight="normal" stroke="#222" stroke-width="0.12" >rATG post<tspan dx="0.8">–</tspan><tspan dx="0.8">HCT</tspan></text>
<line x1="59.3" y1="509.6" x2="68.0" y2="509.6" stroke="#c8243c" stroke-width="1.6"/>
<text x="72.5" y="511.7" font-size="7" text-anchor="start" fill="#222" font-weight="normal" stroke="#222" stroke-width="0.12" >&lt;30</text>
<line x1="59.3" y1="516.8" x2="68.0" y2="516.8" stroke="#1f4f8a" stroke-width="1.6"/>
<text x="72.5" y="518.9" font-size="7" text-anchor="start" fill="#222" font-weight="normal" stroke="#222" stroke-width="0.12" >30<tspan dx="0.6">–</tspan><tspan dx="0.6">55</tspan></text>
<line x1="59.3" y1="523.8" x2="68.0" y2="523.8" stroke="#3aad48" stroke-width="1.6"/>
<text x="72.5" y="525.9" font-size="7" text-anchor="start" fill="#222" font-weight="normal" stroke="#222" stroke-width="0.12" >≥55</text>
<text x="43.8" y="555.5" font-size="7.3" text-anchor="end" fill="#222" font-weight="normal" stroke="#222" stroke-width="0.12" >At–risk</text>
<text x="43.8" y="563.2" font-size="7.3" text-anchor="end" fill="#222" font-weight="normal" stroke="#222" stroke-width="0.12" >&lt;30</text>
<text x="54.9" y="563.2" font-size="7.3" text-anchor="middle" fill="#c8243c" font-weight="normal" stroke="#c8243c" stroke-width="0.12" >63</text>
<text x="93.2" y="563.2" font-size="7.3" text-anchor="middle" fill="#c8243c" font-weight="normal" stroke="#c8243c" stroke-width="0.12" >49</text>
<text x="131.5" y="563.2" font-size="7.3" text-anchor="middle" fill="#c8243c" font-weight="normal" stroke="#c8243c" stroke-width="0.12" >34</text>
<text x="169.8" y="563.2" font-size="7.3" text-anchor="middle" fill="#c8243c" font-weight="normal" stroke="#c8243c" stroke-width="0.12" >22</text>
<text x="208.1" y="563.2" font-size="7.3" text-anchor="middle" fill="#c8243c" font-weight="normal" stroke="#c8243c" stroke-width="0.12" >21</text>
<text x="246.4" y="563.2" font-size="7.3" text-anchor="middle" fill="#c8243c" font-weight="normal" stroke="#c8243c" stroke-width="0.12" >18</text>
<text x="43.8" y="571.0" font-size="7.3" text-anchor="end" fill="#222" font-weight="normal" stroke="#222" stroke-width="0.12" >30<tspan dx="0.6">–</tspan><tspan dx="0.6">55</tspan></text>
<text x="54.9" y="571.0" font-size="7.3" text-anchor="middle" fill="#1f4f8a" font-weight="normal" stroke="#1f4f8a" stroke-width="0.12" >391</text>
<text x="93.2" y="571.0" font-size="7.3" text-anchor="middle" fill="#1f4f8a" font-weight="normal" stroke="#1f4f8a" stroke-width="0.12" >312</text>
<text x="131.5" y="571.0" font-size="7.3" text-anchor="middle" fill="#1f4f8a" font-weight="normal" stroke="#1f4f8a" stroke-width="0.12" >201</text>
<text x="169.8" y="571.0" font-size="7.3" text-anchor="middle" fill="#1f4f8a" font-weight="normal" stroke="#1f4f8a" stroke-width="0.12" >158</text>
<text x="208.1" y="571.0" font-size="7.3" text-anchor="middle" fill="#1f4f8a" font-weight="normal" stroke="#1f4f8a" stroke-width="0.12" >115</text>
<text x="246.4" y="571.0" font-size="7.3" text-anchor="middle" fill="#1f4f8a" font-weight="normal" stroke="#1f4f8a" stroke-width="0.12" >68</text>
<text x="43.8" y="578.7" font-size="7.3" text-anchor="end" fill="#222" font-weight="normal" stroke="#222" stroke-width="0.12" >≥55</text>
<text x="54.9" y="578.7" font-size="7.3" text-anchor="middle" fill="#3aad48" font-weight="normal" stroke="#3aad48" stroke-width="0.12" >100</text>
<text x="93.2" y="578.7" font-size="7.3" text-anchor="middle" fill="#3aad48" font-weight="normal" stroke="#3aad48" stroke-width="0.12" >65</text>
<text x="131.5" y="578.7" font-size="7.3" text-anchor="middle" fill="#3aad48" font-weight="normal" stroke="#3aad48" stroke-width="0.12" >49</text>
<text x="169.8" y="578.7" font-size="7.3" text-anchor="middle" fill="#3aad48" font-weight="normal" stroke="#3aad48" stroke-width="0.12" >38</text>
<text x="208.1" y="578.7" font-size="7.3" text-anchor="middle" fill="#3aad48" font-weight="normal" stroke="#3aad48" stroke-width="0.12" >29</text>
<text x="246.4" y="578.7" font-size="7.3" text-anchor="middle" fill="#3aad48" font-weight="normal" stroke="#3aad48" stroke-width="0.12" >16</text>
<rect x="306.5" y="409.6" width="207.1" height="119.3" fill="none" stroke="#2a2a2a" stroke-width="1.3"/>
<line x1="303.2" y1="524.1" x2="306.5" y2="524.1" stroke="#2a2a2a" stroke-width="1.1"/>
<text x="300.7" y="526.7" font-size="7.7" text-anchor="end" fill="#222" font-weight="normal" stroke="#222" stroke-width="0.12" >0%</text>
<line x1="303.2" y1="496.6" x2="306.5" y2="496.6" stroke="#2a2a2a" stroke-width="1.1"/>
<text x="300.7" y="499.2" font-size="7.7" text-anchor="end" fill="#222" font-weight="normal" stroke="#222" stroke-width="0.12" >25%</text>
<line x1="303.2" y1="469.0" x2="306.5" y2="469.0" stroke="#2a2a2a" stroke-width="1.1"/>
<text x="300.7" y="471.6" font-size="7.7" text-anchor="end" fill="#222" font-weight="normal" stroke="#222" stroke-width="0.12" >50%</text>
<line x1="303.2" y1="441.5" x2="306.5" y2="441.5" stroke="#2a2a2a" stroke-width="1.1"/>
<text x="300.7" y="444.1" font-size="7.7" text-anchor="end" fill="#222" font-weight="normal" stroke="#222" stroke-width="0.12" >75%</text>
<line x1="303.2" y1="413.9" x2="306.5" y2="413.9" stroke="#2a2a2a" stroke-width="1.1"/>
<text x="300.7" y="416.5" font-size="7.7" text-anchor="end" fill="#222" font-weight="normal" stroke="#222" stroke-width="0.12" >100%</text>
<line x1="314.2" y1="528.9" x2="314.2" y2="531.9" stroke="#2a2a2a" stroke-width="1.1"/>
<text x="314.2" y="541.0" font-size="8.0" text-anchor="middle" fill="#222" font-weight="normal" stroke="#222" stroke-width="0.12" >0</text>
<line x1="352.6" y1="528.9" x2="352.6" y2="531.9" stroke="#2a2a2a" stroke-width="1.1"/>
<text x="352.6" y="541.0" font-size="8.0" text-anchor="middle" fill="#222" font-weight="normal" stroke="#222" stroke-width="0.12" >1</text>
<line x1="390.9" y1="528.9" x2="390.9" y2="531.9" stroke="#2a2a2a" stroke-width="1.1"/>
<text x="390.9" y="541.0" font-size="8.0" text-anchor="middle" fill="#222" font-weight="normal" stroke="#222" stroke-width="0.12" >2</text>
<line x1="429.2" y1="528.9" x2="429.2" y2="531.9" stroke="#2a2a2a" stroke-width="1.1"/>
<text x="429.2" y="541.0" font-size="8.0" text-anchor="middle" fill="#222" font-weight="normal" stroke="#222" stroke-width="0.12" >3</text>
<line x1="467.6" y1="528.9" x2="467.6" y2="531.9" stroke="#2a2a2a" stroke-width="1.1"/>
<text x="467.6" y="541.0" font-size="8.0" text-anchor="middle" fill="#222" font-weight="normal" stroke="#222" stroke-width="0.12" >4</text>
<line x1="505.9" y1="528.9" x2="505.9" y2="531.9" stroke="#2a2a2a" stroke-width="1.1"/>
<text x="505.9" y="541.0" font-size="8.0" text-anchor="middle" fill="#222" font-weight="normal" stroke="#222" stroke-width="0.12" >5</text>
<text transform="translate(409.8,551.3) scale(0.74,1)" font-size="8.6" text-anchor="middle" fill="#222" stroke="#222" stroke-width="0.2">Time from HCT (years)</text>
<text transform="translate(275.0,469.2) rotate(-90) scale(0.74,1)" font-size="8.6" text-anchor="middle" fill="#222" stroke="#222" stroke-width="0.2">Cumulative incidence of relapse</text>
<text x="270.6" y="407.0" font-size="10.8" text-anchor="start" fill="#111" font-weight="bold" >F</text>
<path d="M318.8,524.3 L319.8,524.3 L319.8,520.6 L320.8,520.6 L320.8,516.9 L323.7,516.9 L323.7,501.2 L333.5,501.2 L333.5,493.0 L340.4,493.0 L340.4,489.0 L364.9,489.0 L364.9,483.8 L448.4,483.8 L448.4,475.2 L506.1,475.2 L506.1,511.2 L448.4,511.2 L448.4,514.3 L364.9,514.3 L364.9,516.0 L341.3,516.0 L341.3,519.5 L334.5,519.5 L334.5,524.3 L318.8,524.3Z" fill="#c8243c" opacity="0.22"/>
<path d="M319.8,524.3 L321.4,524.3 L321.4,523.2 L322.9,523.2 L322.9,522.2 L324.5,522.2 L324.5,521.1 L326.0,521.1 L326.0,520.1 L327.6,520.1 L327.6,519.0 L329.3,519.0 L329.3,517.9 L331.1,517.9 L331.1,516.8 L332.8,516.8 L332.8,515.7 L334.6,515.7 L334.6,514.6 L336.3,514.6 L336.3,513.4 L338.1,513.4 L338.1,512.3 L339.8,512.3 L339.8,511.2 L341.6,511.2 L341.6,510.1 L343.3,510.1 L343.3,509.0 L345.0,509.0 L345.0,508.6 L346.7,508.6 L346.7,508.1 L348.3,508.1 L348.3,507.7 L350.0,507.7 L350.0,507.3 L351.7,507.3 L351.7,506.9 L353.4,506.9 L353.4,506.4 L355.1,506.4 L355.1,506.0 L356.7,506.0 L356.7,505.6 L358.4,505.6 L358.4,505.1 L360.1,505.1 L360.1,504.7 L361.8,504.7 L361.8,504.3 L363.4,504.3 L363.4,503.9 L365.1,503.9 L365.1,503.4 L366.8,503.4 L366.8,503.0 L368.4,503.0 L368.4,502.6 L370.1,502.6 L370.1,502.1 L371.8,502.1 L371.8,501.7 L373.4,501.7 L373.4,501.2 L375.1,501.2 L375.1,500.8 L376.7,500.8 L376.7,500.4 L378.4,500.4 L378.4,499.9 L380.0,499.9 L380.0,499.5 L433.6,499.5 L433.6,493.5 L506.1,493.5 L506.1,512.3 L395.0,512.3 L395.0,514.3 L380.0,514.3 L380.0,514.6 L378.4,514.6 L378.4,514.9 L376.7,514.9 L376.7,515.2 L375.1,515.2 L375.1,515.5 L373.4,515.5 L373.4,515.8 L371.8,515.8 L371.8,516.1 L370.1,516.1 L370.1,516.4 L368.4,516.4 L368.4,516.7 L366.8,516.7 L366.8,516.9 L365.1,516.9 L365.1,517.2 L363.4,517.2 L363.4,517.4 L361.8,517.4 L361.8,517.6 L360.1,517.6 L360.1,517.9 L358.4,517.9 L358.4,518.1 L356.7,518.1 L356.7,518.4 L355.1,518.4 L355.1,518.6 L353.4,518.6 L353.4,518.8 L351.7,518.8 L351.7,519.1 L350.0,519.1 L350.0,519.3 L348.3,519.3 L348.3,519.5 L346.7,519.5 L346.7,519.8 L345.0,519.8 L345.0,520.0 L343.3,520.0 L343.3,520.6 L341.6,520.6 L341.6,521.2 L340.0,521.2 L340.0,521.9 L338.3,521.9 L338.3,522.5 L336.6,522.5 L336.6,523.1 L335.0,523.1 L335.0,523.8 L333.3,523.8 L333.3,524.4 L331.7,524.4 L331.7,525.0 L330.0,525.0 L330.0,524.9 L328.3,524.9 L328.3,524.8 L326.6,524.8 L326.6,524.6 L324.9,524.6 L324.9,524.5 L323.2,524.5 L323.2,524.4 L321.5,524.4 L321.5,524.3 L319.8,524.3Z" fill="#3aad48" opacity="0.22"/>
<path d="M319.8,522.0 L321.3,522.0 L321.3,521.4 L322.8,521.4 L322.8,520.8 L324.2,520.8 L324.2,520.1 L325.7,520.1 L325.7,519.5 L327.1,519.5 L327.1,518.7 L328.6,518.7 L328.6,517.9 L330.1,517.9 L330.1,517.0 L331.5,517.0 L331.5,516.2 L333.0,516.2 L333.0,515.3 L334.4,515.3 L334.4,514.5 L335.9,514.5 L335.9,513.6 L337.4,513.6 L337.4,512.7 L338.9,512.7 L338.9,511.8 L340.4,511.8 L340.4,511.0 L341.8,511.0 L341.8,510.1 L343.3,510.1 L343.3,509.2 L344.6,509.2 L344.6,508.4 L345.9,508.4 L345.9,507.7 L347.2,507.7 L347.2,506.9 L348.8,506.9 L348.8,506.6 L350.4,506.6 L350.4,506.3 L351.9,506.3 L351.9,506.1 L353.5,506.1 L353.5,505.8 L355.1,505.8 L355.1,505.5 L356.8,505.5 L356.8,505.2 L358.4,505.2 L358.4,505.0 L360.1,505.0 L360.1,504.8 L361.7,504.8 L361.7,504.5 L363.4,504.5 L363.4,504.2 L365.0,504.2 L365.0,504.0 L366.8,504.0 L366.8,503.7 L368.5,503.7 L368.5,503.4 L370.2,503.4 L370.2,503.2 L372.0,503.2 L372.0,502.9 L373.6,502.9 L373.6,502.6 L375.2,502.6 L375.2,502.2 L376.8,502.2 L376.8,501.9 L378.4,501.9 L378.4,501.5 L380.0,501.5 L380.0,501.2 L381.8,501.2 L381.8,501.1 L383.5,501.1 L383.5,501.0 L385.3,501.0 L385.3,500.8 L387.1,500.8 L387.1,500.7 L388.8,500.7 L388.8,500.6 L390.6,500.6 L390.6,500.5 L392.4,500.5 L392.4,500.4 L394.1,500.4 L394.1,500.3 L395.9,500.3 L395.9,500.1 L397.6,500.1 L397.6,500.0 L399.4,500.0 L399.4,499.9 L401.2,499.9 L401.2,499.8 L402.9,499.8 L402.9,499.7 L404.7,499.7 L404.7,499.6 L406.5,499.6 L406.5,499.4 L408.2,499.4 L408.2,499.3 L410.0,499.3 L410.0,499.2 L411.7,499.2 L411.7,499.1 L413.4,499.1 L413.4,499.1 L415.1,499.1 L415.1,499.0 L416.7,499.0 L416.7,498.9 L418.4,498.9 L418.4,498.8 L420.1,498.8 L420.1,498.8 L421.8,498.8 L421.8,498.7 L423.5,498.7 L423.5,498.6 L425.2,498.6 L425.2,498.6 L426.9,498.6 L426.9,498.5 L428.5,498.5 L428.5,498.4 L430.2,498.4 L430.2,498.3 L431.9,498.3 L431.9,498.3 L433.6,498.3 L433.6,498.2 L435.4,498.2 L435.4,498.2 L437.1,498.2 L437.1,498.2 L438.9,498.2 L438.9,498.2 L440.7,498.2 L440.7,498.2 L442.4,498.2 L442.4,498.1 L444.2,498.1 L444.2,498.1 L446.0,498.1 L446.0,498.1 L447.7,498.1 L447.7,498.1 L449.5,498.1 L449.5,498.1 L451.3,498.1 L451.3,498.1 L453.1,498.1 L453.1,498.1 L454.8,498.1 L454.8,498.1 L456.6,498.1 L456.6,498.0 L458.4,498.0 L458.4,498.0 L460.1,498.0 L460.1,498.0 L461.9,498.0 L461.9,498.0 L463.7,498.0 L463.7,498.0 L465.4,498.0 L465.4,498.0 L467.2,498.0 L467.2,498.0 L469.0,498.0 L469.0,498.0 L470.7,498.0 L470.7,497.9 L472.5,497.9 L472.5,497.9 L474.3,497.9 L474.3,497.9 L476.0,497.9 L476.0,497.9 L477.8,497.9 L477.8,497.9 L479.6,497.9 L479.6,497.9 L481.3,497.9 L481.3,497.9 L483.1,497.9 L483.1,497.9 L484.9,497.9 L484.9,497.8 L486.6,497.8 L486.6,497.8 L488.4,497.8 L488.4,497.8 L490.2,497.8 L490.2,497.8 L492.0,497.8 L492.0,497.8 L493.7,497.8 L493.7,497.8 L495.5,497.8 L495.5,497.8 L497.3,497.8 L497.3,497.8 L499.0,497.8 L499.0,497.7 L500.8,497.7 L500.8,497.7 L502.6,497.7 L502.6,497.7 L504.3,497.7 L504.3,497.7 L506.1,497.7 L506.1,497.7 L506.1,502.3 L506.1,502.3 L504.3,502.3 L504.3,502.3 L502.6,502.3 L502.6,502.3 L500.8,502.3 L500.8,502.3 L499.0,502.3 L499.0,502.4 L497.3,502.4 L497.3,502.4 L495.5,502.4 L495.5,502.4 L493.7,502.4 L493.7,502.4 L492.0,502.4 L492.0,502.4 L490.2,502.4 L490.2,502.4 L488.4,502.4 L488.4,502.4 L486.6,502.4 L486.6,502.4 L484.9,502.4 L484.9,502.5 L483.1,502.5 L483.1,502.5 L481.3,502.5 L481.3,502.5 L479.6,502.5 L479.6,502.5 L477.8,502.5 L477.8,502.5 L476.0,502.5 L476.0,502.5 L474.3,502.5 L474.3,502.5 L472.5,502.5 L472.5,502.5 L470.7,502.5 L470.7,502.6 L469.0,502.6 L469.0,502.6 L467.2,502.6 L467.2,502.6 L465.4,502.6 L465.4,502.6 L463.7,502.6 L463.7,502.6 L461.9,502.6 L461.9,502.6 L460.1,502.6 L460.1,502.6 L458.4,502.6 L458.4,502.6 L456.6,502.6 L456.6,502.7 L454.8,502.7 L454.8,502.7 L453.1,502.7 L453.1,502.7 L451.3,502.7 L451.3,502.7 L449.5,502.7 L449.5,502.7 L447.7,502.7 L447.7,502.7 L446.0,502.7 L446.0,502.7 L444.2,502.7 L444.2,502.7 L442.4,502.7 L442.4,502.8 L440.7,502.8 L440.7,502.8 L438.9,502.8 L438.9,502.8 L437.1,502.8 L437.1,502.8 L435.4,502.8 L435.4,502.8 L433.6,502.8 L433.6,502.9 L431.9,502.9 L431.9,502.9 L430.2,502.9 L430.2,503.0 L428.5,503.0 L428.5,503.1 L426.9,503.1 L426.9,503.2 L425.2,503.2 L425.2,503.2 L423.5,503.2 L423.5,503.3 L421.8,503.3 L421.8,503.4 L420.1,503.4 L420.1,503.4 L418.4,503.4 L418.4,503.5 L416.7,503.5 L416.7,503.6 L415.1,503.6 L415.1,503.7 L413.4,503.7 L413.4,503.7 L411.7,503.7 L411.7,503.8 L410.0,503.8 L410.0,503.9 L408.2,503.9 L408.2,504.0 L406.5,504.0 L406.5,504.2 L404.7,504.2 L404.7,504.3 L402.9,504.3 L402.9,504.4 L401.2,504.4 L401.2,504.5 L399.4,504.5 L399.4,504.6 L397.6,504.6 L397.6,504.7 L395.9,504.7 L395.9,504.9 L394.1,504.9 L394.1,505.0 L392.4,505.0 L392.4,505.1 L390.6,505.1 L390.6,505.2 L388.8,505.2 L388.8,505.3 L387.1,505.3 L387.1,505.4 L385.3,505.4 L385.3,505.6 L383.5,505.6 L383.5,505.7 L381.8,505.7 L381.8,505.8 L380.0,505.8 L380.0,506.1 L378.4,506.1 L378.4,506.5 L376.8,506.5 L376.8,506.8 L375.2,506.8 L375.2,507.2 L373.6,507.2 L373.6,507.5 L372.0,507.5 L372.0,507.8 L370.2,507.8 L370.2,508.1 L368.5,508.1 L368.5,508.3 L366.8,508.3 L366.8,508.6 L365.0,508.6 L365.0,508.9 L363.4,508.9 L363.4,509.1 L361.7,509.1 L361.7,509.4 L360.1,509.4 L360.1,509.6 L358.4,509.6 L358.4,509.9 L356.8,509.9 L356.8,510.1 L355.1,510.1 L355.1,510.4 L353.5,510.4 L353.5,510.7 L351.9,510.7 L351.9,510.9 L350.4,510.9 L350.4,511.2 L348.8,511.2 L348.8,511.5 L347.2,511.5 L347.2,512.3 L345.9,512.3 L345.9,513.0 L344.6,513.0 L344.6,513.8 L343.3,513.8 L343.3,514.7 L341.8,514.7 L341.8,515.5 L340.4,515.5 L340.4,516.4 L338.9,516.4 L338.9,517.3 L337.4,517.3 L337.4,518.2 L335.9,518.2 L335.9,519.0 L334.4,519.0 L334.4,519.9 L333.0,519.9 L333.0,520.8 L331.5,520.8 L331.5,521.6 L330.1,521.6 L330.1,522.4 L328.6,522.4 L328.6,523.3 L327.1,523.3 L327.1,524.1 L325.7,524.1 L325.7,524.7 L324.2,524.7 L324.2,525.3 L322.8,525.3 L322.8,526.0 L321.3,526.0 L321.3,526.6 L319.8,526.6Z" fill="#1f4f8a" opacity="0.22"/>
<path d="M313.9,524.3 L318.8,524.3 L320.3,524.3 L320.3,520.8 L322.5,520.8 L322.5,512.7 L332.7,512.7 L332.7,505.8 L340.8,505.8 L340.8,502.3 L364.4,502.3 L364.4,498.3 L448.0,498.3 L448.0,493.5 L506.1,493.5" fill="none" stroke="#c8243c" stroke-width="1.6" stroke-linejoin="miter"/>
<line x1="316.8" y1="522.0" x2="316.8" y2="526.6" stroke="#c8243c" stroke-width="1.1"/>
<line x1="346.2" y1="500.0" x2="346.2" y2="504.6" stroke="#c8243c" stroke-width="1.1"/>
<line x1="356.0" y1="500.0" x2="356.0" y2="504.6" stroke="#c8243c" stroke-width="1.1"/>
<line x1="365.9" y1="496.0" x2="365.9" y2="500.6" stroke="#c8243c" stroke-width="1.1"/>
<line x1="375.7" y1="496.0" x2="375.7" y2="500.6" stroke="#c8243c" stroke-width="1.1"/>
<line x1="380.6" y1="496.0" x2="380.6" y2="500.6" stroke="#c8243c" stroke-width="1.1"/>
<line x1="394.3" y1="496.0" x2="394.3" y2="500.6" stroke="#c8243c" stroke-width="1.1"/>
<line x1="407.4" y1="496.0" x2="407.4" y2="500.6" stroke="#c8243c" stroke-width="1.1"/>
<line x1="416.4" y1="496.0" x2="416.4" y2="500.6" stroke="#c8243c" stroke-width="1.1"/>
<line x1="501.3" y1="491.2" x2="501.3" y2="495.8" stroke="#c8243c" stroke-width="1.1"/>
<line x1="504.4" y1="491.2" x2="504.4" y2="495.8" stroke="#c8243c" stroke-width="1.1"/>
<path d="M313.9,524.3 L319.8,524.3 L321.1,524.3 L321.1,523.8 L322.4,523.8 L322.4,523.3 L323.7,523.3 L323.7,522.8 L325.2,522.8 L325.2,522.0 L326.8,522.0 L326.8,521.2 L328.4,521.2 L328.4,520.4 L329.9,520.4 L329.9,519.6 L331.4,519.6 L331.4,518.8 L333.0,518.8 L333.0,518.0 L334.8,518.0 L334.8,517.4 L336.5,517.4 L336.5,516.8 L338.2,516.8 L338.2,516.2 L340.0,516.2 L340.0,515.6 L341.7,515.6 L341.7,514.4 L343.3,514.4 L343.3,513.3 L345.0,513.3 L345.0,512.1 L346.7,512.1 L346.7,511.7 L348.3,511.7 L348.3,511.4 L350.0,511.4 L350.0,511.0 L366.0,511.0 L367.0,511.0 L367.0,510.4 L368.0,510.4 L368.0,509.8 L369.3,509.8 L369.3,509.2 L370.7,509.2 L370.7,508.6 L372.0,508.6 L372.0,508.0 L373.6,508.0 L373.6,507.9 L375.2,507.9 L375.2,507.8 L376.8,507.8 L376.8,507.8 L378.4,507.8 L378.4,507.7 L380.0,507.7 L380.0,507.6 L395.0,507.6 L395.0,505.0 L433.6,505.0 L433.6,502.3 L506.1,502.3" fill="none" stroke="#3aad48" stroke-width="1.6" stroke-linejoin="miter"/>
<line x1="382.0" y1="505.3" x2="382.0" y2="509.9" stroke="#3aad48" stroke-width="1.1"/>
<line x1="384.0" y1="505.3" x2="384.0" y2="509.9" stroke="#3aad48" stroke-width="1.1"/>
<line x1="386.7" y1="505.3" x2="386.7" y2="509.9" stroke="#3aad48" stroke-width="1.1"/>
<line x1="388.1" y1="505.3" x2="388.1" y2="509.9" stroke="#3aad48" stroke-width="1.1"/>
<line x1="390.1" y1="505.3" x2="390.1" y2="509.9" stroke="#3aad48" stroke-width="1.1"/>
<line x1="392.1" y1="505.3" x2="392.1" y2="509.9" stroke="#3aad48" stroke-width="1.1"/>
<line x1="398.8" y1="502.7" x2="398.8" y2="507.3" stroke="#3aad48" stroke-width="1.1"/>
<line x1="400.2" y1="502.7" x2="400.2" y2="507.3" stroke="#3aad48" stroke-width="1.1"/>
<line x1="402.2" y1="502.7" x2="402.2" y2="507.3" stroke="#3aad48" stroke-width="1.1"/>
<line x1="425.8" y1="502.7" x2="425.8" y2="507.3" stroke="#3aad48" stroke-width="1.1"/>
<line x1="427.8" y1="502.7" x2="427.8" y2="507.3" stroke="#3aad48" stroke-width="1.1"/>
<line x1="430.5" y1="502.7" x2="430.5" y2="507.3" stroke="#3aad48" stroke-width="1.1"/>
<line x1="445.0" y1="500.0" x2="445.0" y2="504.6" stroke="#3aad48" stroke-width="1.1"/>
<line x1="452.0" y1="500.0" x2="452.0" y2="504.6" stroke="#3aad48" stroke-width="1.1"/>
<line x1="461.0" y1="500.0" x2="461.0" y2="504.6" stroke="#3aad48" stroke-width="1.1"/>
<line x1="468.0" y1="500.0" x2="468.0" y2="504.6" stroke="#3aad48" stroke-width="1.1"/>
<line x1="476.0" y1="500.0" x2="476.0" y2="504.6" stroke="#3aad48" stroke-width="1.1"/>
<line x1="483.0" y1="500.0" x2="483.0" y2="504.6" stroke="#3aad48" stroke-width="1.1"/>
<line x1="490.0" y1="500.0" x2="490.0" y2="504.6" stroke="#3aad48" stroke-width="1.1"/>
<line x1="497.0" y1="500.0" x2="497.0" y2="504.6" stroke="#3aad48" stroke-width="1.1"/>
<line x1="503.0" y1="500.0" x2="503.0" y2="504.6" stroke="#3aad48" stroke-width="1.1"/>
<path d="M319.8,524.3 L321.3,524.3 L321.3,523.7 L322.8,523.7 L322.8,523.0 L324.2,523.0 L324.2,522.4 L325.7,522.4 L325.7,521.8 L327.1,521.8 L327.1,521.0 L328.6,521.0 L328.6,520.1 L330.1,520.1 L330.1,519.3 L331.5,519.3 L331.5,518.5 L333.0,518.5 L333.0,517.6 L334.4,517.6 L334.4,516.8 L335.9,516.8 L335.9,515.9 L337.4,515.9 L337.4,515.0 L338.9,515.0 L338.9,514.1 L340.4,514.1 L340.4,513.2 L341.8,513.2 L341.8,512.4 L343.3,512.4 L343.3,511.5 L344.6,511.5 L344.6,510.7 L345.9,510.7 L345.9,510.0 L347.2,510.0 L347.2,509.2 L348.8,509.2 L348.8,508.9 L350.4,508.9 L350.4,508.6 L351.9,508.6 L351.9,508.4 L353.5,508.4 L353.5,508.1 L355.1,508.1 L355.1,507.8 L356.8,507.8 L356.8,507.6 L358.4,507.6 L358.4,507.3 L360.1,507.3 L360.1,507.1 L361.7,507.1 L361.7,506.8 L363.4,506.8 L363.4,506.6 L365.0,506.6 L365.0,506.3 L366.8,506.3 L366.8,506.0 L368.5,506.0 L368.5,505.8 L370.2,505.8 L370.2,505.5 L372.0,505.5 L372.0,505.2 L373.6,505.2 L373.6,504.9 L375.2,504.9 L375.2,504.5 L376.8,504.5 L376.8,504.2 L378.4,504.2 L378.4,503.8 L380.0,503.8 L380.0,503.5 L381.8,503.5 L381.8,503.4 L383.5,503.4 L383.5,503.3 L385.3,503.3 L385.3,503.1 L387.1,503.1 L387.1,503.0 L388.8,503.0 L388.8,502.9 L390.6,502.9 L390.6,502.8 L392.4,502.8 L392.4,502.7 L394.1,502.7 L394.1,502.6 L395.9,502.6 L395.9,502.4 L397.6,502.4 L397.6,502.3 L399.4,502.3 L399.4,502.2 L401.2,502.2 L401.2,502.1 L402.9,502.1 L402.9,502.0 L404.7,502.0 L404.7,501.9 L406.5,501.9 L406.5,501.7 L408.2,501.7 L408.2,501.6 L410.0,501.6 L410.0,501.5 L411.7,501.5 L411.7,501.4 L413.4,501.4 L413.4,501.4 L415.1,501.4 L415.1,501.3 L416.7,501.3 L416.7,501.2 L418.4,501.2 L418.4,501.1 L420.1,501.1 L420.1,501.1 L421.8,501.1 L421.8,501.0 L423.5,501.0 L423.5,500.9 L425.2,500.9 L425.2,500.9 L426.9,500.9 L426.9,500.8 L428.5,500.8 L428.5,500.7 L430.2,500.7 L430.2,500.6 L431.9,500.6 L431.9,500.6 L433.6,500.6 L433.6,500.5 L435.4,500.5 L435.4,500.5 L437.1,500.5 L437.1,500.5 L438.9,500.5 L438.9,500.5 L440.7,500.5 L440.7,500.5 L442.4,500.5 L442.4,500.4 L444.2,500.4 L444.2,500.4 L446.0,500.4 L446.0,500.4 L447.7,500.4 L447.7,500.4 L449.5,500.4 L449.5,500.4 L451.3,500.4 L451.3,500.4 L453.1,500.4 L453.1,500.4 L454.8,500.4 L454.8,500.4 L456.6,500.4 L456.6,500.3 L458.4,500.3 L458.4,500.3 L460.1,500.3 L460.1,500.3 L461.9,500.3 L461.9,500.3 L463.7,500.3 L463.7,500.3 L465.4,500.3 L465.4,500.3 L467.2,500.3 L467.2,500.3 L469.0,500.3 L469.0,500.3 L470.7,500.3 L470.7,500.2 L472.5,500.2 L472.5,500.2 L474.3,500.2 L474.3,500.2 L476.0,500.2 L476.0,500.2 L477.8,500.2 L477.8,500.2 L479.6,500.2 L479.6,500.2 L481.3,500.2 L481.3,500.2 L483.1,500.2 L483.1,500.2 L484.9,500.2 L484.9,500.1 L486.6,500.1 L486.6,500.1 L488.4,500.1 L488.4,500.1 L490.2,500.1 L490.2,500.1 L492.0,500.1 L492.0,500.1 L493.7,500.1 L493.7,500.1 L495.5,500.1 L495.5,500.1 L497.3,500.1 L497.3,500.1 L499.0,500.1 L499.0,500.0 L500.8,500.0 L500.8,500.0 L502.6,500.0 L502.6,500.0 L504.3,500.0 L504.3,500.0 L506.1,500.0 L506.1,500.0" fill="none" stroke="#1f4f8a" stroke-width="1.6" stroke-linejoin="miter"/>
<line x1="340.0" y1="511.2" x2="340.0" y2="515.8" stroke="#1f4f8a" stroke-width="1.1"/>
<line x1="343.5" y1="509.1" x2="343.5" y2="513.7" stroke="#1f4f8a" stroke-width="1.1"/>
<line x1="347.1" y1="507.0" x2="347.1" y2="511.6" stroke="#1f4f8a" stroke-width="1.1"/>
<line x1="349.7" y1="506.5" x2="349.7" y2="511.1" stroke="#1f4f8a" stroke-width="1.1"/>
<line x1="351.5" y1="506.1" x2="351.5" y2="510.7" stroke="#1f4f8a" stroke-width="1.1"/>
<line x1="352.6" y1="505.9" x2="352.6" y2="510.5" stroke="#1f4f8a" stroke-width="1.1"/>
<line x1="355.7" y1="505.4" x2="355.7" y2="510.0" stroke="#1f4f8a" stroke-width="1.1"/>
<line x1="358.2" y1="505.0" x2="358.2" y2="509.6" stroke="#1f4f8a" stroke-width="1.1"/>
<line x1="361.6" y1="504.5" x2="361.6" y2="509.1" stroke="#1f4f8a" stroke-width="1.1"/>
<line x1="363.8" y1="504.2" x2="363.8" y2="508.8" stroke="#1f4f8a" stroke-width="1.1"/>
<line x1="367.2" y1="503.7" x2="367.2" y2="508.3" stroke="#1f4f8a" stroke-width="1.1"/>
<line x1="369.1" y1="503.4" x2="369.1" y2="508.0" stroke="#1f4f8a" stroke-width="1.1"/>
<line x1="372.7" y1="502.8" x2="372.7" y2="507.4" stroke="#1f4f8a" stroke-width="1.1"/>
<line x1="376.0" y1="502.1" x2="376.0" y2="506.7" stroke="#1f4f8a" stroke-width="1.1"/>
<line x1="378.3" y1="501.6" x2="378.3" y2="506.2" stroke="#1f4f8a" stroke-width="1.1"/>
<line x1="381.0" y1="501.1" x2="381.0" y2="505.7" stroke="#1f4f8a" stroke-width="1.1"/>
<line x1="384.2" y1="500.9" x2="384.2" y2="505.5" stroke="#1f4f8a" stroke-width="1.1"/>
<line x1="385.9" y1="500.8" x2="385.9" y2="505.4" stroke="#1f4f8a" stroke-width="1.1"/>
<line x1="388.6" y1="500.6" x2="388.6" y2="505.2" stroke="#1f4f8a" stroke-width="1.1"/>
<line x1="392.2" y1="500.4" x2="392.2" y2="505.0" stroke="#1f4f8a" stroke-width="1.1"/>
<line x1="394.0" y1="500.3" x2="394.0" y2="504.9" stroke="#1f4f8a" stroke-width="1.1"/>
<line x1="397.6" y1="500.0" x2="397.6" y2="504.6" stroke="#1f4f8a" stroke-width="1.1"/>
<line x1="400.8" y1="499.8" x2="400.8" y2="504.4" stroke="#1f4f8a" stroke-width="1.1"/>
<line x1="404.4" y1="499.6" x2="404.4" y2="504.2" stroke="#1f4f8a" stroke-width="1.1"/>
<line x1="406.5" y1="499.4" x2="406.5" y2="504.0" stroke="#1f4f8a" stroke-width="1.1"/>
<line x1="407.9" y1="499.3" x2="407.9" y2="503.9" stroke="#1f4f8a" stroke-width="1.1"/>
<line x1="411.4" y1="499.1" x2="411.4" y2="503.7" stroke="#1f4f8a" stroke-width="1.1"/>
<line x1="414.9" y1="499.0" x2="414.9" y2="503.6" stroke="#1f4f8a" stroke-width="1.1"/>
<line x1="417.4" y1="498.9" x2="417.4" y2="503.5" stroke="#1f4f8a" stroke-width="1.1"/>
<line x1="418.7" y1="498.8" x2="418.7" y2="503.4" stroke="#1f4f8a" stroke-width="1.1"/>
<line x1="420.4" y1="498.8" x2="420.4" y2="503.4" stroke="#1f4f8a" stroke-width="1.1"/>
<line x1="423.4" y1="498.6" x2="423.4" y2="503.2" stroke="#1f4f8a" stroke-width="1.1"/>
<line x1="425.3" y1="498.6" x2="425.3" y2="503.2" stroke="#1f4f8a" stroke-width="1.1"/>
<line x1="429.3" y1="498.4" x2="429.3" y2="503.0" stroke="#1f4f8a" stroke-width="1.1"/>
<line x1="432.2" y1="498.3" x2="432.2" y2="502.9" stroke="#1f4f8a" stroke-width="1.1"/>
<line x1="433.9" y1="498.2" x2="433.9" y2="502.8" stroke="#1f4f8a" stroke-width="1.1"/>
<line x1="437.0" y1="498.2" x2="437.0" y2="502.8" stroke="#1f4f8a" stroke-width="1.1"/>
<line x1="439.1" y1="498.2" x2="439.1" y2="502.8" stroke="#1f4f8a" stroke-width="1.1"/>
<line x1="443.1" y1="498.1" x2="443.1" y2="502.7" stroke="#1f4f8a" stroke-width="1.1"/>
<line x1="447.0" y1="498.1" x2="447.0" y2="502.7" stroke="#1f4f8a" stroke-width="1.1"/>
<line x1="449.6" y1="498.1" x2="449.6" y2="502.7" stroke="#1f4f8a" stroke-width="1.1"/>
<line x1="452.7" y1="498.1" x2="452.7" y2="502.7" stroke="#1f4f8a" stroke-width="1.1"/>
<line x1="455.9" y1="498.0" x2="455.9" y2="502.6" stroke="#1f4f8a" stroke-width="1.1"/>
<line x1="459.4" y1="498.0" x2="459.4" y2="502.6" stroke="#1f4f8a" stroke-width="1.1"/>
<line x1="463.5" y1="498.0" x2="463.5" y2="502.6" stroke="#1f4f8a" stroke-width="1.1"/>
<line x1="464.6" y1="498.0" x2="464.6" y2="502.6" stroke="#1f4f8a" stroke-width="1.1"/>
<line x1="466.8" y1="498.0" x2="466.8" y2="502.6" stroke="#1f4f8a" stroke-width="1.1"/>
<line x1="469.7" y1="498.0" x2="469.7" y2="502.6" stroke="#1f4f8a" stroke-width="1.1"/>
<line x1="471.7" y1="497.9" x2="471.7" y2="502.5" stroke="#1f4f8a" stroke-width="1.1"/>
<line x1="474.6" y1="497.9" x2="474.6" y2="502.5" stroke="#1f4f8a" stroke-width="1.1"/>
<line x1="475.9" y1="497.9" x2="475.9" y2="502.5" stroke="#1f4f8a" stroke-width="1.1"/>
<line x1="479.7" y1="497.9" x2="479.7" y2="502.5" stroke="#1f4f8a" stroke-width="1.1"/>
<line x1="482.4" y1="497.9" x2="482.4" y2="502.5" stroke="#1f4f8a" stroke-width="1.1"/>
<line x1="483.8" y1="497.9" x2="483.8" y2="502.5" stroke="#1f4f8a" stroke-width="1.1"/>
<line x1="486.9" y1="497.8" x2="486.9" y2="502.4" stroke="#1f4f8a" stroke-width="1.1"/>
<line x1="488.9" y1="497.8" x2="488.9" y2="502.4" stroke="#1f4f8a" stroke-width="1.1"/>
<line x1="490.6" y1="497.8" x2="490.6" y2="502.4" stroke="#1f4f8a" stroke-width="1.1"/>
<line x1="493.1" y1="497.8" x2="493.1" y2="502.4" stroke="#1f4f8a" stroke-width="1.1"/>
<line x1="494.6" y1="497.8" x2="494.6" y2="502.4" stroke="#1f4f8a" stroke-width="1.1"/>
<line x1="496.3" y1="497.8" x2="496.3" y2="502.4" stroke="#1f4f8a" stroke-width="1.1"/>
<line x1="500.0" y1="497.7" x2="500.0" y2="502.3" stroke="#1f4f8a" stroke-width="1.1"/>
<line x1="503.2" y1="497.7" x2="503.2" y2="502.3" stroke="#1f4f8a" stroke-width="1.1"/>
<line x1="504.3" y1="497.7" x2="504.3" y2="502.3" stroke="#1f4f8a" stroke-width="1.1"/>
<text x="313.8" y="418.3" font-size="7" text-anchor="start" fill="#222" font-weight="normal" stroke="#222" stroke-width="0.12" >rATG exposure post<tspan dx="0.6">–</tspan><tspan dx="0.6">HCT</tspan></text>
<line x1="331.3" y1="423.8" x2="340.0" y2="423.8" stroke="#c8243c" stroke-width="1.6"/>
<text x="344.5" y="425.9" font-size="7" text-anchor="start" fill="#222" font-weight="normal" stroke="#222" stroke-width="0.12" >&lt;30</text>
<line x1="331.3" y1="430.8" x2="340.0" y2="430.8" stroke="#1f4f8a" stroke-width="1.6"/>
<text x="344.5" y="432.9" font-size="7" text-anchor="start" fill="#222" font-weight="normal" stroke="#222" stroke-width="0.12" >30<tspan dx="0.6">–</tspan><tspan dx="0.6">55</tspan></text>
<line x1="331.3" y1="437.6" x2="340.0" y2="437.6" stroke="#3aad48" stroke-width="1.6"/>
<text x="344.5" y="439.7" font-size="7" text-anchor="start" fill="#222" font-weight="normal" stroke="#222" stroke-width="0.12" >≥55</text>
<text x="303.8" y="558.3" font-size="7.3" text-anchor="end" fill="#222" font-weight="normal" stroke="#222" stroke-width="0.12" >At–risk</text>
<text x="303.8" y="566.0" font-size="7.3" text-anchor="end" fill="#222" font-weight="normal" stroke="#222" stroke-width="0.12" >&lt;30</text>
<text x="314.5" y="566.0" font-size="7.3" text-anchor="middle" fill="#c8243c" font-weight="normal" stroke="#c8243c" stroke-width="0.12" >37</text>
<text x="352.9" y="566.0" font-size="7.3" text-anchor="middle" fill="#c8243c" font-weight="normal" stroke="#c8243c" stroke-width="0.12" >26</text>
<text x="391.2" y="566.0" font-size="7.3" text-anchor="middle" fill="#c8243c" font-weight="normal" stroke="#c8243c" stroke-width="0.12" >18</text>
<text x="429.6" y="566.0" font-size="7.3" text-anchor="middle" fill="#c8243c" font-weight="normal" stroke="#c8243c" stroke-width="0.12" >14</text>
<text x="467.9" y="566.0" font-size="7.3" text-anchor="middle" fill="#c8243c" font-weight="normal" stroke="#c8243c" stroke-width="0.12" >13</text>
<text x="506.2" y="566.0" font-size="7.3" text-anchor="middle" fill="#c8243c" font-weight="normal" stroke="#c8243c" stroke-width="0.12" >11</text>
<text x="303.8" y="573.8" font-size="7.3" text-anchor="end" fill="#222" font-weight="normal" stroke="#222" stroke-width="0.12" >30<tspan dx="0.6">–</tspan><tspan dx="0.6">55</tspan></text>
<text x="314.5" y="573.8" font-size="7.3" text-anchor="middle" fill="#1f4f8a" font-weight="normal" stroke="#1f4f8a" stroke-width="0.12" >382</text>
<text x="352.9" y="573.8" font-size="7.3" text-anchor="middle" fill="#1f4f8a" font-weight="normal" stroke="#1f4f8a" stroke-width="0.12" >272</text>
<text x="391.2" y="573.8" font-size="7.3" text-anchor="middle" fill="#1f4f8a" font-weight="normal" stroke="#1f4f8a" stroke-width="0.12" >175</text>
<text x="429.6" y="573.8" font-size="7.3" text-anchor="middle" fill="#1f4f8a" font-weight="normal" stroke="#1f4f8a" stroke-width="0.12" >140</text>
<text x="467.9" y="573.8" font-size="7.3" text-anchor="middle" fill="#1f4f8a" font-weight="normal" stroke="#1f4f8a" stroke-width="0.12" >102</text>
<text x="506.2" y="573.8" font-size="7.3" text-anchor="middle" fill="#1f4f8a" font-weight="normal" stroke="#1f4f8a" stroke-width="0.12" >61</text>
<text x="303.8" y="581.6" font-size="7.3" text-anchor="end" fill="#222" font-weight="normal" stroke="#222" stroke-width="0.12" >≥55</text>
<text x="314.5" y="581.6" font-size="7.3" text-anchor="middle" fill="#3aad48" font-weight="normal" stroke="#3aad48" stroke-width="0.12" >96</text>
<text x="352.9" y="581.6" font-size="7.3" text-anchor="middle" fill="#3aad48" font-weight="normal" stroke="#3aad48" stroke-width="0.12" >58</text>
<text x="391.2" y="581.6" font-size="7.3" text-anchor="middle" fill="#3aad48" font-weight="normal" stroke="#3aad48" stroke-width="0.12" >42</text>
<text x="429.6" y="581.6" font-size="7.3" text-anchor="middle" fill="#3aad48" font-weight="normal" stroke="#3aad48" stroke-width="0.12" >33</text>
<text x="467.9" y="581.6" font-size="7.3" text-anchor="middle" fill="#3aad48" font-weight="normal" stroke="#3aad48" stroke-width="0.12" >25</text>
<text x="506.2" y="581.6" font-size="7.3" text-anchor="middle" fill="#3aad48" font-weight="normal" stroke="#3aad48" stroke-width="0.12" >14</text>
<rect x="0" y="0" width="520" height="1" fill="#111"/><rect x="0" y="0" width="1.1" height="589" fill="#111"/><rect x="518.9" y="0" width="1.1" height="589" fill="#111"/><rect x="0" y="587.6" width="520" height="1.4" fill="#111"/>
</svg>
</body></html>
